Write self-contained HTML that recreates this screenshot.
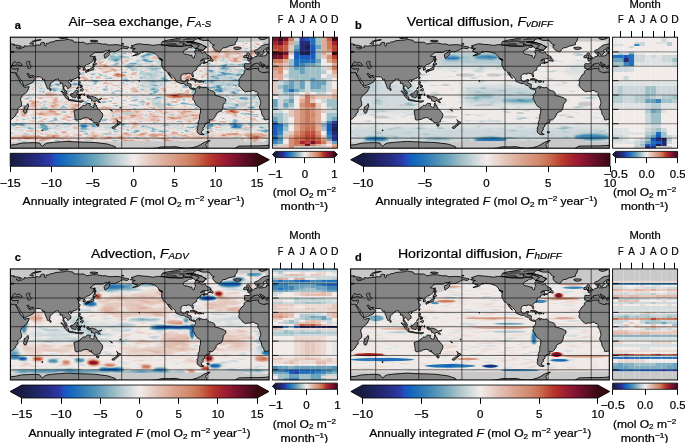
<!DOCTYPE html><html><head><meta charset="utf-8"><style>html,body{margin:0;padding:0;background:#fff;overflow:hidden}svg{display:block}text{font-family:"Liberation Sans",sans-serif;fill:#000;stroke:#000;stroke-width:0.22px}svg{will-change:transform}</style></head><body><svg width="685" height="443" viewBox="0 0 685 443"><filter id="fa" filterUnits="userSpaceOnUse" x="10.4" y="37.2" width="258.7" height="111.0" color-interpolation-filters="sRGB"><feOffset in="SourceGraphic" dx="0" dy="0" result="b"/><feTurbulence type="fractalNoise" baseFrequency="0.1 0.3" numOctaves="3" seed="3" result="n0"/><feColorMatrix in="n0" type="matrix" values="1 0 0 0 0 1 0 0 0 0 1 0 0 0 0 0 0 0 0 1" result="n1"/><feComponentTransfer in="n1" result="n"><feFuncR type="table" tableValues="0 0.03 0.1 0.22 0.45 0.5 0.55 0.78 0.9 0.97 1"/><feFuncG type="table" tableValues="0 0.03 0.1 0.22 0.45 0.5 0.55 0.78 0.9 0.97 1"/><feFuncB type="table" tableValues="0 0.03 0.1 0.22 0.45 0.5 0.55 0.78 0.9 0.97 1"/></feComponentTransfer><feComposite in="b" in2="n" operator="arithmetic" k1="0" k2="1" k3="0.36" k4="-0.1800" result="s"/><feComponentTransfer in="s"><feFuncR type="table" tableValues="0.094 0.102 0.110 0.114 0.122 0.129 0.141 0.149 0.157 0.165 0.173 0.141 0.102 0.075 0.106 0.133 0.165 0.204 0.243 0.282 0.329 0.380 0.427 0.482 0.537 0.592 0.647 0.702 0.753 0.804 0.851 0.898 0.945 0.933 0.925 0.914 0.902 0.894 0.886 0.878 0.871 0.863 0.851 0.843 0.835 0.824 0.816 0.804 0.792 0.776 0.761 0.737 0.714 0.686 0.663 0.624 0.588 0.545 0.506 0.459 0.412 0.365 0.322 0.275 0.227"/><feFuncG type="table" tableValues="0.110 0.118 0.129 0.137 0.145 0.157 0.169 0.176 0.188 0.208 0.224 0.282 0.345 0.388 0.416 0.443 0.471 0.498 0.525 0.557 0.584 0.612 0.639 0.671 0.702 0.733 0.765 0.792 0.820 0.847 0.875 0.898 0.925 0.894 0.863 0.831 0.796 0.769 0.737 0.710 0.678 0.651 0.624 0.600 0.573 0.545 0.522 0.478 0.435 0.384 0.325 0.267 0.216 0.180 0.145 0.122 0.102 0.086 0.075 0.067 0.063 0.055 0.051 0.043 0.039"/><feFuncB type="table" tableValues="0.263 0.294 0.329 0.361 0.396 0.431 0.471 0.506 0.549 0.596 0.647 0.714 0.753 0.753 0.741 0.729 0.722 0.718 0.718 0.714 0.722 0.729 0.737 0.749 0.761 0.776 0.792 0.816 0.839 0.859 0.878 0.898 0.918 0.878 0.839 0.800 0.761 0.722 0.682 0.647 0.608 0.573 0.537 0.502 0.471 0.435 0.404 0.365 0.322 0.278 0.235 0.200 0.169 0.176 0.188 0.192 0.196 0.192 0.188 0.176 0.161 0.141 0.118 0.094 0.071"/></feComponentTransfer></filter><clipPath id="ca"><rect x="10.4" y="37.2" width="258.7" height="111.0"/></clipPath><g clip-path="url(#ca)"><filter id="bba" filterUnits="userSpaceOnUse" x="-9.6" y="17.200000000000003" width="298.7" height="151.0" color-interpolation-filters="sRGB"><feGaussianBlur stdDeviation="4 3"/></filter><filter id="bsa" filterUnits="userSpaceOnUse" x="-9.6" y="17.200000000000003" width="298.7" height="151.0" color-interpolation-filters="sRGB"><feGaussianBlur stdDeviation="1.5 1"/></filter><g filter="url(#fa)"><rect x="5.4" y="32.2" width="268.7" height="121.0" fill="#808080"/><g filter="url(#bba)"><rect x="20.0" y="75.0" width="58.0" height="18.0" fill="#777777"/><rect x="22.0" y="103.0" width="56.0" height="5.0" fill="#969696"/><rect x="10.0" y="124.0" width="259.0" height="8.0" fill="#707070"/><rect x="10.0" y="133.0" width="259.0" height="6.5" fill="#999999"/><rect x="140.0" y="50.0" width="23.0" height="43.0" fill="#707070"/><rect x="140.0" y="99.0" width="30.0" height="9.0" fill="#6c6c6c"/><rect x="208.0" y="48.0" width="38.0" height="14.0" fill="#969696"/><rect x="205.0" y="62.0" width="47.0" height="31.0" fill="#6f6f6f"/><rect x="212.0" y="95.0" width="50.0" height="15.0" fill="#737373"/><rect x="110.0" y="110.0" width="90.0" height="13.0" fill="#919191"/></g><g filter="url(#bsa)"><ellipse cx="48.0" cy="94.0" rx="10" ry="1.5" fill="#b0b0b0"/><ellipse cx="55.0" cy="90.0" rx="3" ry="1.5" fill="#474747"/><ellipse cx="45.0" cy="113.0" rx="12" ry="2.5" fill="#999999"/><ellipse cx="70.0" cy="116.0" rx="8" ry="2" fill="#999999"/><ellipse cx="24.0" cy="112.0" rx="4" ry="2" fill="#a1a1a1"/><ellipse cx="84.0" cy="127.0" rx="4" ry="2" fill="#303030"/><ellipse cx="40.0" cy="137.0" rx="20" ry="1.5" fill="#b0b0b0"/><ellipse cx="118.0" cy="58.0" rx="12" ry="4" fill="#666666"/><ellipse cx="102.0" cy="63.0" rx="5" ry="2" fill="#a1a1a1"/><ellipse cx="120.0" cy="75.5" rx="5" ry="1.5" fill="#bbbbbb"/><ellipse cx="110.0" cy="68.0" rx="15" ry="3" fill="#919191"/><ellipse cx="132.0" cy="66.0" rx="9" ry="3" fill="#666666"/><ellipse cx="180.0" cy="96.0" rx="15" ry="2.2" fill="#c3c3c3"/><ellipse cx="147.6" cy="103.4" rx="2.5" ry="2" fill="#c3c3c3"/><ellipse cx="219.5" cy="88.0" rx="3" ry="2" fill="#303030"/><ellipse cx="186.0" cy="76.5" rx="5" ry="2.5" fill="#b0b0b0"/><ellipse cx="231.0" cy="111.5" rx="9" ry="1.8" fill="#b0b0b0"/><ellipse cx="211.0" cy="126.0" rx="3" ry="1.5" fill="#474747"/><ellipse cx="238.0" cy="126.0" rx="5" ry="2" fill="#474747"/><ellipse cx="255.0" cy="135.5" rx="12" ry="2" fill="#b0b0b0"/></g></g><path d="M-136.9,41.5L121.7,41.5L121.7,30.4L-136.9,30.4ZM121.7,41.5L380.3,41.5L380.3,30.4L121.7,30.4ZM6.8,46.2L121.7,46.2L121.7,30.4L6.8,30.4ZM265.4,46.2L380.3,46.2L380.3,30.4L265.4,30.4ZM107.3,47.9L161.2,47.9L161.2,30.4L107.3,30.4ZM128.9,45.1L164.8,45.1L164.8,30.4L128.9,30.4ZM192.1,47.2L215.1,47.2L215.1,36.1L192.1,36.1ZM182.8,58.4L195.0,58.4L196.4,49.7L182.8,49.0ZM89.4,63.4L105.2,59.1L105.2,50.5L89.4,51.9ZM76.4,70.6L83.6,70.6L83.6,65.2L76.4,65.2ZM108.8,52.6L139.7,52.6L139.7,44.7L108.8,44.7ZM-136.9,141.7L121.7,141.7L121.7,159.6L-136.9,159.6ZM121.7,141.7L380.3,141.7L380.3,159.6L121.7,159.6ZM121.7,141.0L207.9,141.0L207.9,159.6L121.7,159.6ZM206.5,138.1L243.8,139.5L243.8,159.6L206.5,159.6ZM-0.4,56.2L13.9,56.2L13.9,47.6L-0.4,47.6ZM258.2,56.2L272.5,56.2L272.5,47.6L258.2,47.6Z" fill="#c9c9c9"/><ellipse cx="242.5" cy="104.5" rx="4.5" ry="2.3" fill="#c9c9c9"/><ellipse cx="246.0" cy="129.5" rx="4" ry="1.4" fill="#c9c9c9"/><ellipse cx="128.0" cy="113.5" rx="6" ry="1.8" fill="#c9c9c9"/><ellipse cx="160.5" cy="106.5" rx="4" ry="1.8" fill="#c9c9c9"/><path d="M-11.9,69.1L-11.2,69.7L-7.6,69.5L-0.4,68.3L-0.1,70.9L6.8,73.3L13.9,72.9L18.4,70.6L18.6,68.3L13.9,65.8L22.4,65.7L22.4,61.2L12.5,61.1L11.8,64.8L8.2,64.8L6.0,64.1L2.1,62.0L-0.4,63.0L-5.4,63.5L-7.6,65.5L-9.0,68.4ZM246.7,69.1L247.4,69.7L251.0,69.5L258.2,68.3L258.5,70.9L265.4,73.3L272.5,72.9L277.0,70.6L277.2,68.3L272.5,65.8L281.0,65.7L281.0,61.2L271.1,61.1L270.4,64.8L266.8,64.8L264.6,64.1L260.7,62.0L258.2,63.0L253.2,63.5L251.0,65.5L249.6,68.4ZM15.7,73.5L17.2,74.9L20.4,79.9L23.6,86.0L23.3,85.8L20.1,82.8L17.9,77.8L15.8,73.6ZM26.7,73.1L28.5,73.3L33.1,75.6L33.1,77.4L29.4,77.9L27.2,74.9Z" fill="#858585"/><path d="M161.2,43.6L162.6,41.5L167.0,40.3L175.6,38.8L182.8,37.2L200.7,35.7L206.5,36.1L200.7,38.3L196.4,39.0L194.2,40.0L193.5,41.4L187.8,41.6L193.5,42.1L196.4,42.8L200.7,44.2L202.2,44.7L202.9,45.4L206.1,46.9L206.5,47.2L204.7,48.3L203.2,50.5L199.6,49.9L197.8,48.7L195.3,48.7L193.5,46.9L189.9,45.1L182.8,46.2L175.6,46.2L168.4,45.8L164.8,45.1L161.2,44.7ZM206.8,131.8L209.3,131.9L209.2,132.6L207.2,132.6ZM41.8,130.0L43.0,130.1L42.8,130.7L41.8,130.6ZM-11.8,69.3L-14.4,71.3L-14.6,73.8L-16.9,75.2L-18.4,77.8L-19.8,79.9L-19.5,81.4L-19.2,82.8L-19.9,84.4L-19.6,86.0L-18.4,87.1L-17.3,88.2L-15.9,90.0L-13.3,91.8L-10.5,91.3L-8.3,91.4L-6.2,90.5L-4.4,90.5L-3.3,91.9L-1.5,91.8L-0.8,92.5L-0.6,93.6L-0.9,95.4L0.9,97.9L1.2,99.3L2.0,101.5L2.1,103.6L1.2,105.8L0.9,107.6L2.8,111.2L3.3,114.4L4.3,115.5L5.5,117.6L5.6,119.4L6.8,120.0L8.6,119.4L10.8,119.3L12.2,118.8L13.9,117.3L15.7,115.5L16.0,113.7L17.9,112.2L17.9,110.4L17.3,109.2L18.8,107.8L21.5,105.8L21.5,102.5L20.6,100.0L20.6,98.3L21.9,96.4L23.3,94.6L25.4,93.2L26.9,91.8L28.2,89.3L29.2,87.1L29.2,86.5L27.2,86.9L24.4,87.5L23.5,86.6L22.9,85.7L22.0,84.6L20.6,83.1L20.1,82.1L19.1,79.9L18.0,77.8L16.8,75.6L15.8,73.5L15.6,72.5L13.2,72.8L10.4,72.2L6.8,72.0L6.7,72.9L3.5,72.4L0.7,71.3L-0.3,70.4L0.3,68.5L-0.6,68.2L-1.5,68.5L-5.4,68.6L-8.3,69.6L-9.2,69.8ZM246.8,69.3L244.2,71.3L244.0,73.8L241.7,75.2L240.2,77.8L238.8,79.9L239.1,81.4L239.4,82.8L238.7,84.4L239.0,86.0L240.2,87.1L241.3,88.2L242.7,90.0L245.3,91.8L248.1,91.3L250.3,91.4L252.4,90.5L254.2,90.5L255.3,91.9L257.1,91.8L257.8,92.5L258.0,93.6L257.7,95.4L259.5,97.9L259.8,99.3L260.6,101.5L260.7,103.6L259.8,105.8L259.5,107.6L261.4,111.2L261.9,114.4L262.8,115.5L264.1,117.6L264.2,119.4L265.4,120.0L267.2,119.4L269.4,119.3L270.8,118.8L272.5,117.3L274.3,115.5L274.6,113.7L276.5,112.2L276.5,110.4L275.9,109.2L277.4,107.8L280.1,105.8L280.1,102.5L279.2,100.0L279.2,98.3L280.4,96.4L281.9,94.6L284.0,93.2L285.5,91.8L286.8,89.3L287.8,87.1L287.8,86.5L285.8,86.9L283.0,87.5L282.1,86.6L281.5,85.7L280.6,84.6L279.2,83.1L278.7,82.1L277.7,79.9L276.6,77.8L275.4,75.6L274.4,73.5L274.2,72.5L271.8,72.8L269.0,72.2L265.4,72.0L265.3,72.9L262.1,72.4L259.3,71.3L258.3,70.4L258.9,68.5L258.0,68.2L257.1,68.5L253.2,68.6L250.3,69.6L249.4,69.8ZM-11.6,69.1L-12.1,68.6L-12.9,68.3L-14.0,68.4L-13.9,67.2L-14.4,67.1L-14.0,66.1L-13.9,64.8L-14.3,64.1L-13.3,63.6L-11.6,63.8L-8.9,63.8L-8.5,62.9L-8.5,61.8L-9.2,61.2L-10.8,60.6L-10.8,60.1L-8.7,60.0L-8.5,59.3L-7.5,59.4L-6.5,58.9L-5.8,58.3L-5.0,58.0L-4.4,57.3L-4.0,56.7L-2.6,56.6L-1.4,56.3L-1.4,55.1L-1.8,54.2L-0.1,53.6L-0.1,54.6L-0.4,55.7L0.3,56.2L1.4,55.9L2.6,56.3L4.3,55.9L5.8,55.9L7.6,55.3L7.5,54.2L8.6,53.6L9.9,53.9L9.7,53.1L9.2,52.5L12.5,52.3L14.1,52.0L13.1,51.5L10.6,51.7L8.8,52.0L7.7,51.3L7.8,49.6L10.6,48.2L10.1,47.7L8.3,47.7L7.6,48.8L6.0,49.6L5.0,50.2L4.8,51.2L5.9,51.9L5.3,52.7L4.3,54.0L3.7,54.7L2.6,55.2L1.6,55.1L1.4,54.4L0.9,53.3L0.4,52.5L-0.8,52.7L-1.9,53.3L-2.9,53.3L-3.6,52.7L-3.9,51.8L-4.0,50.8L-3.3,50.0L-1.5,49.5L-0.2,48.7L1.0,47.9L1.7,47.0L3.2,45.9L4.3,45.4L5.3,44.9L6.8,44.6L8.9,44.3L10.7,43.9L12.5,44.0L14.7,44.5L13.2,44.9L15.4,45.1L18.3,45.4L21.5,46.3L21.9,47.0L20.8,47.6L18.7,47.3L17.5,47.6L16.3,47.2L17.3,48.7L19.0,49.2L19.3,48.4L21.4,48.7L22.9,47.3L24.1,47.5L24.0,45.9L25.4,45.8L25.6,46.2L27.6,46.2L30.7,45.7L31.4,46.0L34.1,45.5L35.5,45.8L36.1,44.9L38.4,45.1L40.5,45.1L40.7,44.1L40.2,43.7L41.6,42.6L42.7,42.3L44.7,42.9L44.1,44.4L45.2,46.2L45.9,45.8L46.3,43.3L49.1,43.1L50.2,42.2L54.5,41.5L54.9,40.8L59.9,40.3L64.9,40.0L67.3,39.2L69.6,39.8L72.9,40.3L73.9,42.2L77.2,42.2L80.8,42.4L83.6,42.2L85.1,43.1L86.5,44.0L89.4,43.6L93.0,42.9L97.3,43.1L100.1,43.6L102.3,44.1L106.6,44.1L108.0,45.0L112.9,44.9L114.9,44.6L118.8,44.9L121.7,45.5L123.1,45.9L125.3,46.5L127.8,46.9L129.1,47.5L127.8,47.9L127.3,48.7L125.3,48.5L123.6,48.1L122.4,48.3L120.6,48.7L119.5,50.0L117.4,50.6L114.7,51.9L112.0,51.6L110.2,52.0L109.7,53.0L109.0,53.5L109.5,54.7L108.6,55.6L107.3,56.8L106.3,57.3L105.0,58.4L104.5,56.9L104.1,54.8L105.0,53.5L106.3,53.3L108.8,51.3L110.2,50.1L107.7,50.8L105.2,50.8L103.0,52.3L100.9,52.4L98.7,52.4L95.1,52.4L93.3,53.5L91.5,54.8L90.1,56.1L91.9,56.2L94.0,56.9L93.3,59.1L93.2,60.4L91.9,61.6L90.1,63.4L87.9,64.3L86.5,64.5L85.4,65.5L84.3,67.0L85.4,68.8L85.1,69.8L83.3,70.2L83.3,68.1L82.2,66.6L79.7,67.0L80.0,65.9L79.3,65.5L77.9,66.6L76.9,67.0L77.8,68.1L80.4,68.3L79.0,69.1L78.0,70.0L79.2,72.0L80.0,72.9L80.0,73.8L79.0,75.5L78.2,76.6L76.8,78.0L74.3,79.0L71.8,79.8L71.4,80.4L70.3,79.5L68.9,80.5L68.3,81.5L69.3,82.8L70.6,83.9L71.0,86.4L69.3,87.5L67.8,88.8L67.6,87.7L66.3,86.5L64.9,85.5L64.2,86.0L63.7,87.8L64.6,89.6L64.9,90.1L65.8,90.5L66.7,91.9L67.2,94.0L66.4,93.9L64.9,92.8L64.4,91.0L63.0,89.3L63.2,87.1L62.5,83.1L60.2,83.5L60.1,81.5L58.7,80.1L58.3,78.8L57.4,79.2L56.0,79.3L54.9,79.6L54.8,80.3L53.5,81.1L51.5,83.1L50.1,83.9L50.0,85.7L49.7,87.6L48.6,88.6L48.1,89.2L47.4,88.2L46.6,86.4L45.9,84.4L45.0,82.4L44.7,81.0L44.5,79.8L44.3,79.1L43.0,80.1L42.0,78.9L42.7,78.6L41.5,78.0L40.3,76.8L36.6,76.9L34.6,76.7L33.5,75.5L32.8,75.5L31.8,76.0L29.4,75.0L28.5,73.5L27.2,73.5L26.9,73.8L28.0,75.3L28.9,77.2L29.5,77.3L29.5,76.3L29.9,77.8L31.5,77.5L32.8,76.2L33.0,77.4L34.6,78.1L35.4,78.8L34.5,80.3L33.9,81.4L31.9,82.8L29.9,83.8L27.4,84.9L24.7,85.8L23.6,85.9L23.1,84.2L23.1,83.1L21.7,81.0L20.5,79.5L19.7,77.8L18.6,76.3L17.5,74.9L17.2,74.9L16.5,74.7L15.8,73.5L17.0,72.5L17.5,71.3L18.2,69.5L18.3,68.6L17.2,68.6L15.4,69.0L13.8,69.0L12.0,68.4L11.4,67.3L11.4,66.2L13.2,65.5L14.9,65.4L17.5,64.8L20.1,65.6L22.2,65.2L22.4,64.8L20.4,63.0L19.3,62.5L17.7,62.7L16.5,63.0L15.7,62.4L14.7,61.6L13.9,62.2L13.1,63.0L12.5,64.1L12.5,65.0L11.1,65.8L8.9,66.0L8.6,66.1L8.9,67.0L9.6,67.7L8.2,68.8L7.8,68.4L7.6,67.3L6.4,65.9L6.3,64.8L3.9,63.8L2.2,62.2L1.2,62.5L1.3,63.2L2.5,64.5L3.9,65.2L5.7,66.1L4.6,67.0L4.0,67.7L3.7,67.6L3.6,66.3L1.7,65.3L0.3,64.5L-0.3,63.5L-1.3,63.1L-2.2,63.5L-4.0,63.9L-5.4,64.0L-5.3,64.9L-7.0,65.5L-7.8,66.6L-7.5,67.2L-8.1,68.0L-9.1,68.6L-10.8,68.6ZM247.0,69.1L246.5,68.6L245.7,68.3L244.6,68.4L244.7,67.2L244.2,67.1L244.6,66.1L244.7,64.8L244.3,64.1L245.3,63.6L247.0,63.8L249.7,63.8L250.1,62.9L250.1,61.8L249.4,61.2L247.8,60.6L247.8,60.1L249.9,60.0L250.1,59.3L251.1,59.4L252.1,58.9L252.8,58.3L253.6,58.0L254.2,57.3L254.6,56.7L256.0,56.6L257.2,56.3L257.2,55.1L256.8,54.2L258.5,53.6L258.5,54.6L258.2,55.7L258.9,56.2L260.0,55.9L261.2,56.3L262.8,55.9L264.4,55.9L266.2,55.3L266.1,54.2L267.2,53.6L268.5,53.9L268.3,53.1L267.8,52.5L271.1,52.3L272.7,52.0L271.7,51.5L269.2,51.7L267.4,52.0L266.3,51.3L266.4,49.6L269.2,48.2L268.7,47.7L266.9,47.7L266.2,48.8L264.6,49.6L263.6,50.2L263.4,51.2L264.5,51.9L263.9,52.7L262.8,54.0L262.3,54.7L261.2,55.2L260.2,55.1L260.0,54.4L259.5,53.3L259.0,52.5L257.8,52.7L256.7,53.3L255.7,53.3L255.0,52.7L254.7,51.8L254.6,50.8L255.3,50.0L257.1,49.5L258.4,48.7L259.6,47.9L260.3,47.0L261.8,45.9L262.8,45.4L263.9,44.9L265.4,44.6L267.5,44.3L269.3,43.9L271.1,44.0L273.3,44.5L271.8,44.9L274.0,45.1L276.9,45.4L280.1,46.3L280.5,47.0L279.4,47.6L277.3,47.3L276.1,47.6L274.9,47.2L275.9,48.7L277.6,49.2L277.9,48.4L280.0,48.7L281.5,47.3L282.7,47.5L282.6,45.9L284.0,45.8L284.2,46.2L286.2,46.2L289.3,45.7L290.0,46.0L292.7,45.5L294.1,45.8L294.7,44.9L297.0,45.1L299.1,45.1L299.3,44.1L298.8,43.7L300.2,42.6L301.3,42.3L303.3,42.9L302.7,44.4L303.8,46.2L304.5,45.8L304.9,43.3L307.7,43.1L308.8,42.2L313.1,41.5L313.5,40.8L318.5,40.3L323.5,40.0L325.9,39.2L328.2,39.8L331.5,40.3L332.5,42.2L335.8,42.2L339.4,42.4L342.2,42.2L343.7,43.1L345.1,44.0L348.0,43.6L351.6,42.9L355.9,43.1L358.7,43.6L360.9,44.1L365.2,44.1L366.6,45.0L371.5,44.9L373.5,44.6L377.4,44.9L380.3,45.5L381.7,45.9L383.9,46.5L386.4,46.9L387.7,47.5L386.4,47.9L385.9,48.7L383.9,48.5L382.2,48.1L381.0,48.3L379.2,48.7L378.1,50.0L376.0,50.6L373.3,51.9L370.6,51.6L368.8,52.0L368.3,53.0L367.6,53.5L368.1,54.7L367.2,55.6L365.9,56.8L364.9,57.3L363.6,58.4L363.1,56.9L362.7,54.8L363.6,53.5L364.9,53.3L367.4,51.3L368.8,50.1L366.3,50.8L363.8,50.8L361.6,52.3L359.5,52.4L357.3,52.4L353.7,52.4L351.9,53.5L350.1,54.8L348.7,56.1L350.5,56.2L352.6,56.9L351.9,59.1L351.8,60.4L350.5,61.6L348.7,63.4L346.5,64.3L345.1,64.5L344.0,65.5L342.9,67.0L343.9,68.8L343.7,69.8L341.9,70.2L341.9,68.1L340.8,66.6L338.3,67.0L338.6,65.9L337.9,65.5L336.5,66.6L335.5,67.0L336.4,68.1L339.0,68.3L337.6,69.1L336.6,70.0L337.8,72.0L338.6,72.9L338.6,73.8L337.6,75.5L336.8,76.6L335.4,78.0L332.9,79.0L330.4,79.8L330.0,80.4L328.9,79.5L327.5,80.5L326.9,81.5L327.9,82.8L329.2,83.9L329.6,86.4L327.9,87.5L326.4,88.8L326.2,87.7L324.9,86.5L323.5,85.5L322.8,86.0L322.3,87.8L323.2,89.6L323.5,90.1L324.4,90.5L325.3,91.9L325.8,94.0L325.0,93.9L323.5,92.8L323.0,91.0L321.6,89.3L321.8,87.1L321.1,83.1L318.8,83.5L318.7,81.5L317.3,80.1L316.9,78.8L316.0,79.2L314.6,79.3L313.5,79.6L313.4,80.3L312.1,81.1L310.1,83.1L308.7,83.9L308.6,85.7L308.3,87.6L307.2,88.6L306.7,89.2L305.9,88.2L305.2,86.4L304.5,84.4L303.6,82.4L303.3,81.0L303.1,79.8L302.9,79.1L301.6,80.1L300.6,78.9L301.3,78.6L300.1,78.0L298.9,76.8L295.2,76.9L293.2,76.7L292.1,75.5L291.4,75.5L290.4,76.0L288.0,75.0L287.1,73.5L285.8,73.5L285.5,73.8L286.6,75.3L287.5,77.2L288.1,77.3L288.1,76.3L288.5,77.8L290.1,77.5L291.4,76.2L291.6,77.4L293.2,78.1L294.0,78.8L293.1,80.3L292.5,81.4L290.5,82.8L288.5,83.8L286.0,84.9L283.3,85.8L282.2,85.9L281.7,84.2L281.7,83.1L280.3,81.0L279.1,79.5L278.3,77.8L277.2,76.3L276.1,74.9L275.8,74.9L275.1,74.7L274.4,73.5L275.6,72.5L276.1,71.3L276.8,69.5L276.9,68.6L275.8,68.6L274.0,69.0L272.4,69.0L270.6,68.4L270.0,67.3L270.0,66.2L271.8,65.5L273.5,65.4L276.1,64.8L278.7,65.6L280.8,65.2L281.0,64.8L279.0,63.0L277.9,62.5L276.3,62.7L275.1,63.0L274.3,62.4L273.3,61.6L272.5,62.2L271.7,63.0L271.1,64.1L271.1,65.0L269.7,65.8L267.5,66.0L267.2,66.1L267.5,67.0L268.2,67.7L266.8,68.8L266.4,68.4L266.2,67.3L265.0,65.9L264.9,64.8L262.5,63.8L260.8,62.2L259.8,62.5L259.9,63.2L261.1,64.5L262.5,65.2L264.3,66.1L263.2,67.0L262.6,67.7L262.3,67.6L262.2,66.3L260.3,65.3L258.9,64.5L258.3,63.5L257.3,63.1L256.4,63.5L254.6,63.9L253.2,64.0L253.3,64.9L251.6,65.5L250.8,66.6L251.1,67.2L250.5,68.0L249.5,68.6L247.8,68.6ZM130.3,47.9L131.8,47.6L133.2,46.9L131.2,45.9L133.9,45.1L136.1,44.3L138.4,43.8L141.8,44.1L144.7,44.5L148.3,44.6L149.7,44.9L153.3,45.4L155.1,45.1L157.6,44.7L159.8,44.6L161.6,45.1L164.1,45.0L167.0,45.5L169.1,45.9L172.7,46.1L175.6,45.8L178.4,46.3L180.6,46.2L182.0,46.7L183.5,45.3L183.1,43.4L184.9,44.4L187.1,45.4L189.2,45.8L191.7,45.1L192.5,46.9L190.7,47.6L189.2,47.2L187.8,48.7L186.0,49.4L183.5,50.8L183.1,52.6L184.6,54.0L187.4,54.4L189.9,55.3L191.9,55.4L192.0,56.9L193.2,58.0L194.2,57.9L194.6,55.9L195.7,54.7L195.1,53.0L194.6,51.5L195.3,50.1L197.8,50.2L200.0,51.0L201.1,52.4L202.5,53.1L203.6,52.8L204.7,51.7L205.7,53.3L206.8,54.8L209.3,55.9L210.8,56.6L211.0,57.6L209.7,58.1L207.9,58.9L205.0,58.9L203.2,58.9L201.8,59.7L200.4,60.9L202.9,59.8L204.7,59.9L204.3,60.7L204.4,61.6L205.4,62.1L207.2,62.3L207.8,61.8L208.0,62.0L206.8,62.5L205.4,63.0L203.7,63.8L203.4,63.1L204.7,62.5L203.2,62.6L201.8,63.2L200.6,63.7L200.1,64.5L200.7,65.0L199.6,65.3L197.9,65.8L197.8,66.5L197.1,67.1L196.8,67.8L196.4,68.4L196.8,69.5L196.0,70.1L195.0,70.6L194.1,71.2L193.2,71.9L192.6,72.7L193.1,74.5L193.5,76.0L193.2,76.9L192.7,76.9L192.2,76.0L191.6,74.7L190.9,73.5L189.7,73.7L188.5,73.2L187.1,73.2L186.9,74.1L186.0,74.1L184.9,73.7L183.5,73.7L182.4,74.4L181.2,75.2L181.0,76.5L180.8,78.8L181.7,81.0L182.9,81.7L184.6,81.6L185.6,81.4L186.1,79.9L187.8,79.6L188.6,79.8L188.1,81.0L187.6,81.9L187.6,83.5L189.2,83.6L191.2,84.2L191.0,86.4L190.9,87.2L192.1,88.5L193.9,88.2L195.3,88.8L195.8,88.9L196.8,87.5L197.8,87.0L199.3,86.2L200.0,86.5L199.6,87.2L199.4,88.5L200.0,88.2L200.7,86.7L202.2,87.5L204.3,87.7L206.5,87.3L207.2,87.8L207.9,88.9L209.3,90.0L211.5,90.7L213.6,91.4L214.4,92.1L215.1,93.7L214.7,95.0L216.2,95.7L218.7,96.1L220.8,97.0L223.0,97.5L224.4,98.6L225.7,99.0L225.9,100.7L225.5,101.8L224.4,102.9L223.3,104.3L223.0,106.5L222.6,108.3L221.9,109.7L221.5,110.8L220.1,111.5L218.7,112.0L216.9,113.0L216.2,114.0L216.0,115.5L214.7,117.3L213.3,119.1L212.2,119.9L210.4,120.0L209.0,119.6L209.8,120.9L209.7,122.3L207.9,122.9L206.3,122.9L206.1,124.1L204.7,124.5L204.3,125.5L205.0,125.7L203.9,127.3L202.5,128.2L203.6,129.1L201.9,131.0L201.4,132.0L201.9,132.6L201.1,132.8L201.8,133.4L204.1,134.4L202.2,134.7L200.0,134.5L197.5,132.7L196.9,130.9L197.8,128.8L196.8,128.4L197.8,126.6L198.2,124.8L198.0,123.0L198.4,121.6L199.3,119.4L199.6,118.0L199.6,115.1L200.4,113.0L200.6,109.4L200.5,108.1L199.3,107.4L196.8,105.8L196.2,104.7L195.3,103.3L194.2,100.7L192.8,99.3L192.6,98.2L193.5,97.2L193.5,96.8L192.8,95.7L193.5,94.3L194.3,93.9L195.3,92.5L195.5,90.7L195.0,89.6L193.9,89.8L193.2,89.6L192.5,89.3L191.0,88.9L189.4,87.8L189.4,87.0L188.1,85.7L186.7,85.3L185.3,84.9L184.2,83.8L183.1,83.4L181.7,83.7L180.2,83.3L178.4,82.4L176.7,81.9L175.2,80.6L175.4,79.6L175.1,78.5L173.8,77.4L172.4,76.0L171.3,75.0L170.0,73.5L168.7,72.3L168.7,73.5L169.8,74.5L170.5,76.0L171.8,77.5L172.1,78.6L170.9,77.4L170.4,76.3L169.0,75.2L168.2,73.8L167.1,72.2L166.8,71.5L165.9,70.6L164.4,70.1L163.4,68.7L163.0,67.8L162.1,66.4L161.6,64.8L161.9,62.0L161.4,60.2L162.6,60.3L162.4,59.4L160.8,59.1L159.2,58.4L158.7,57.3L157.6,55.9L156.5,54.8L154.7,53.3L152.9,53.1L150.8,52.1L148.3,51.9L145.8,51.5L144.3,51.7L142.2,52.5L142.3,51.3L140.7,52.6L140.0,53.7L138.6,54.3L136.8,55.1L134.6,55.5L132.7,55.9L134.3,55.1L136.8,54.2L137.9,52.9L134.8,52.8L134.6,51.9L132.5,51.5L132.8,49.7L135.3,48.7L132.8,48.6L131.4,48.2ZM198.6,38.6L202.2,37.2L207.9,36.1L229.4,35.0L238.1,36.5L237.3,39.0L236.6,41.1L235.2,42.9L235.2,44.6L233.0,45.2L228.7,46.2L225.9,47.6L223.0,47.9L221.5,49.4L220.5,51.2L219.4,51.9L218.0,51.3L216.2,50.8L214.7,49.7L213.6,48.3L212.6,46.9L212.9,45.8L214.4,45.1L212.2,44.4L211.1,43.3L210.1,41.5L207.9,40.4L202.9,40.4L199.3,39.3ZM233.4,47.9L234.8,47.2L238.1,47.2L240.6,47.4L241.3,48.3L240.2,48.9L237.7,49.5L234.8,49.2ZM206.5,47.2L204.7,48.3L203.2,50.5L199.6,49.9L197.8,48.7L195.3,48.7L198.6,46.5L199.3,45.4L196.4,44.4L193.5,43.3L189.9,42.3L186.3,42.2L193.5,42.1L196.4,42.8L200.7,44.2L202.2,44.7L202.9,45.4L206.1,46.9ZM258.9,38.6L261.8,39.7L265.4,39.0L267.5,37.9L263.9,37.2L258.9,37.7ZM29.8,43.6L31.9,44.2L33.7,44.2L32.6,42.9L34.1,41.5L36.9,40.8L41.2,39.8L39.8,39.7L34.8,40.4L31.9,41.5L30.5,42.9ZM60.6,38.6L64.2,38.4L67.8,37.9L64.2,36.8L58.5,37.2ZM90.1,41.1L93.7,41.8L98.0,41.1L95.1,40.4L90.8,40.4ZM121.7,44.0L123.9,44.1L123.1,43.6L121.7,43.6ZM246.9,59.1L248.8,58.7L252.0,58.2L252.2,57.1L251.2,56.6L249.9,55.5L249.6,54.8L249.7,53.6L248.8,52.9L247.4,52.9L246.5,54.1L247.0,55.2L247.5,55.6L248.7,55.6L248.5,56.2L248.8,56.7L247.6,57.1L248.0,57.9L247.2,57.9L248.5,58.1ZM246.7,57.6L246.5,56.4L247.0,55.9L246.3,55.3L244.9,55.3L243.8,56.2L243.6,57.6L245.3,57.9ZM190.0,79.3L191.7,78.7L193.5,78.4L195.7,79.4L197.7,80.5L195.3,80.7L195.0,80.2L192.8,79.5L190.7,79.3ZM197.6,81.7L198.8,80.7L201.1,80.9L201.9,81.6L199.6,82.4ZM194.8,81.8L196.3,81.9L195.8,82.2L194.8,81.9ZM202.7,81.7L203.9,81.8L203.8,82.1L202.7,82.1ZM208.3,60.8L210.8,59.4L211.1,57.9L212.6,59.4L213.2,60.9L212.6,61.5L210.8,60.8ZM158.8,58.5L161.2,58.9L162.4,60.2L161.2,59.9L159.4,59.1ZM73.9,110.8L74.4,113.7L74.9,116.2L75.0,119.1L75.4,119.7L77.2,120.1L79.3,119.4L81.1,119.4L82.9,118.2L85.1,117.8L86.6,117.6L88.5,118.1L89.9,120.1L90.5,119.1L91.4,118.7L91.2,120.5L91.9,120.1L92.7,121.3L93.4,122.3L95.5,122.9L96.6,122.5L97.5,123.1L98.4,122.3L100.1,121.9L100.3,120.5L101.1,119.2L101.9,118.0L102.7,115.5L102.4,113.3L101.1,112.2L100.1,111.0L99.2,109.6L97.5,108.6L96.8,106.5L96.8,105.6L95.5,105.1L94.8,102.7L94.1,104.3L94.0,106.1L93.5,107.6L92.4,107.4L90.5,106.1L89.7,105.6L90.7,103.8L90.1,103.5L87.6,103.3L86.5,103.8L85.4,105.6L84.3,105.4L83.3,105.1L81.8,106.8L80.2,107.6L79.7,109.0L77.5,109.6L76.1,109.9L74.7,110.7ZM96.3,124.2L98.9,124.4L98.7,126.0L97.3,126.3L96.7,125.2ZM116.5,119.7L117.7,120.5L118.8,121.8L120.6,122.1L120.2,123.2L119.4,123.6L118.3,124.9L117.8,124.7L118.1,123.7L117.2,123.2L117.8,122.3L117.6,121.2ZM116.5,124.1L117.6,125.0L116.9,126.1L115.4,126.8L114.9,128.0L113.8,128.5L112.0,128.0L112.1,127.3L113.3,126.6L114.9,125.8L115.6,125.0ZM60.9,91.0L62.4,91.3L64.4,93.4L67.0,95.7L68.5,97.2L68.4,99.2L67.5,99.2L65.9,97.9L64.8,96.4L63.9,95.0L63.2,93.6L61.7,92.3ZM68.0,99.9L68.9,99.3L70.2,99.5L71.8,100.0L73.4,100.0L74.6,100.5L74.6,101.2L72.1,100.9L70.0,100.6L68.2,100.0ZM75.0,100.9L77.9,101.0L80.0,101.0L82.2,100.8L83.6,101.0L82.2,101.8L81.1,102.4L79.3,101.9L77.2,101.5L75.0,101.4ZM70.7,93.9L71.1,93.6L72.1,93.9L73.6,92.7L75.2,91.3L76.3,90.0L78.0,91.3L77.2,91.9L77.0,94.3L77.9,94.4L76.8,95.6L76.1,96.8L75.7,97.7L74.6,97.9L73.6,97.2L72.1,97.2L71.4,96.2L70.7,95.2ZM78.2,99.0L78.9,99.0L78.8,97.0L79.3,96.9L79.5,98.4L80.6,98.4L79.7,96.3L81.0,95.6L80.4,95.4L79.0,95.7L78.8,94.6L80.8,94.6L82.1,93.9L81.8,94.7L78.6,94.4L78.5,95.6L77.7,96.9ZM84.0,93.6L84.7,93.9L84.3,94.6L84.8,95.4L84.0,95.6L83.8,94.4ZM86.5,96.1L87.6,95.3L89.0,95.7L89.7,97.3L91.5,96.2L93.7,96.9L96.2,97.7L97.3,99.0L98.4,99.5L99.1,101.1L100.5,102.5L99.8,102.4L98.4,102.3L97.3,100.9L95.8,100.5L95.4,101.5L94.8,101.7L93.7,101.5L92.6,100.8L91.6,101.0L91.3,98.7L89.4,98.2L87.9,97.9L87.2,97.0L88.3,96.6L87.4,96.5ZM99.1,99.0L100.5,99.0L101.6,98.0L101.2,99.0L99.4,99.5ZM79.0,81.7L80.2,81.7L80.3,83.1L79.7,83.7L79.8,84.8L81.5,85.1L81.6,85.9L80.6,85.7L79.3,85.1L79.0,84.6L78.5,83.5ZM80.0,90.0L81.1,89.5L82.5,88.2L83.3,89.3L83.1,90.5L82.4,91.0L81.5,90.5ZM80.0,86.5L81.1,87.5L82.2,86.7L82.7,86.0L81.8,86.0L80.8,87.8L80.0,87.5ZM76.6,89.0L78.2,86.8L78.0,87.6L76.8,89.1ZM78.7,78.5L79.3,76.9L80.0,77.0L79.2,79.2ZM70.4,81.2L71.8,80.6L72.1,80.9L71.1,81.9ZM86.4,70.6L87.6,69.6L89.7,69.4L90.7,68.2L91.9,68.1L93.0,66.6L93.0,65.3L94.0,65.3L94.4,66.6L93.7,67.5L93.6,68.8L93.2,69.8L92.2,69.9L90.7,70.4L89.4,70.8L89.0,70.1L87.6,70.6ZM93.0,65.2L93.0,63.9L94.2,62.4L95.8,63.2L96.8,63.9L95.3,64.8L93.7,64.6ZM85.6,70.9L86.5,70.6L87.2,71.3L86.6,72.6L85.9,72.6L85.6,71.4ZM87.6,71.3L89.2,70.6L88.8,71.1L87.9,71.5ZM94.4,62.0L95.5,61.5L95.1,59.4L96.2,59.8L95.3,58.0L95.0,56.0L94.5,56.2L94.5,58.4L94.3,60.2ZM49.8,88.0L50.7,88.8L51.2,89.8L50.8,90.5L50.0,90.7L49.7,89.6ZM27.8,103.6L28.7,106.1L28.0,107.6L27.2,109.7L26.5,112.2L26.2,113.0L24.9,113.3L24.0,112.7L23.5,110.8L24.2,109.4L24.0,107.2L25.4,106.3L26.5,105.4L27.5,104.3ZM110.2,109.5L112.4,111.0L112.0,111.1L110.3,109.9ZM119.8,107.6L120.7,107.4L120.5,108.1L119.8,108.0ZM138.9,80.5L139.8,81.0L139.0,81.4L138.9,80.8ZM-136.9,151.0L-129.7,151.0L-122.5,150.3L-115.4,149.2L-108.2,148.7L-101.0,148.0L-97.4,146.9L-90.2,146.9L-82.3,146.7L-78.0,147.8L-72.3,148.2L-66.5,147.8L-61.5,146.4L-57.9,144.6L-54.3,142.4L-50.7,141.0L-48.5,140.4L-49.3,141.3L-51.4,142.8L-52.9,144.6L-52.1,146.7L-50.7,149.6L-43.5,151.0L-32.7,151.0L-25.6,149.6L-19.8,146.1L-14.8,146.0L-7.6,145.9L-0.4,145.9L6.8,145.6L10.4,145.1L15.4,144.6L21.7,143.1L28.3,142.8L35.5,142.6L39.8,143.1L41.2,145.3L42.7,146.4L44.1,144.6L47.0,143.1L53.5,142.4L60.6,141.8L67.1,141.4L75.0,141.8L82.2,142.1L89.4,142.3L95.6,142.6L100.1,143.1L105.9,143.8L108.8,144.4L111.6,145.4L115.2,146.7L116.4,149.6L116.0,151.0L121.7,151.0L121.7,159.6L-136.9,159.6ZM121.7,151.0L128.9,151.0L136.1,150.3L143.2,149.2L150.4,148.7L157.6,148.0L161.2,146.9L168.4,146.9L176.3,146.7L180.6,147.8L186.3,148.2L192.1,147.8L197.1,146.4L200.7,144.6L204.3,142.4L207.9,141.0L210.1,140.4L209.3,141.3L207.2,142.8L205.7,144.6L206.5,146.7L207.9,149.6L215.1,151.0L225.9,151.0L233.0,149.6L238.8,146.1L243.8,146.0L251.0,145.9L258.2,145.9L265.4,145.6L269.0,145.1L274.0,144.6L280.3,143.1L286.9,142.8L294.1,142.6L298.4,143.1L299.8,145.3L301.3,146.4L302.7,144.6L305.6,143.1L312.1,142.4L319.2,141.8L325.7,141.4L333.6,141.8L340.8,142.1L348.0,142.3L354.1,142.6L358.7,143.1L364.5,143.8L367.4,144.4L370.2,145.4L373.8,146.7L375.0,149.6L374.6,151.0L380.3,151.0L380.3,159.6L121.7,159.6Z" fill="#858585" stroke="#000" stroke-width="0.85" stroke-linejoin="round"/><path d="M26.2,62.3L27.6,61.6L29.4,61.2L30.5,62.3L29.0,63.0L29.4,64.5L30.5,64.8L31.2,66.3L30.5,68.1L29.0,68.6L27.6,68.1L28.0,65.9L26.9,64.8L26.5,63.8Z" fill="none" stroke="#000" stroke-width="0.7"/><path d="M-96.7,41.6L-90.2,41.6L-83.0,41.4L-75.8,41.6L-70.8,41.6M161.9,41.6L168.4,41.6L175.6,41.4L182.8,41.6L187.8,41.6M-92.4,42.9L-88.1,43.3L-82.3,43.6M166.2,42.9L170.5,43.3L176.3,43.6M-79.4,42.9L-76.6,42.6L-73.7,43.3M179.2,42.9L182.0,42.6L184.9,43.3M-88.1,40.4L-83.0,40.2L-78.0,39.8M170.5,40.4L175.6,40.2L180.6,39.8M-75.8,40.0L-72.3,39.3L-66.5,39.1L-63.6,38.6M182.8,40.0L186.3,39.3L192.1,39.1L195.0,38.6M-92.4,44.4L-86.6,44.5L-80.9,45.1M166.2,44.4L172.0,44.5L177.7,45.1M-68.7,44.4L-66.5,43.6L-63.6,43.1M189.9,44.4L192.1,43.6L195.0,43.1M-72.3,38.3L-65.1,37.4L-59.3,37.0M186.3,38.3L193.5,37.4L199.3,37.0" fill="none" stroke="#000" stroke-width="0.6"/><path d="M35.50,37.2V148.2M78.60,37.2V148.2M121.70,37.2V148.2M164.80,37.2V148.2M207.90,37.2V148.2M10.4,51.90H269.1M10.4,66.27H269.1M10.4,80.63H269.1M10.4,109.37H269.1M10.4,123.73H269.1M251.00,37.2V148.2M10.4,95.00H269.1M10.4,138.10H269.1" stroke="#000" stroke-width="1" opacity="0.6" fill="none"/></g><rect x="10.4" y="37.2" width="258.7" height="111.0" fill="none" stroke="#000" stroke-width="1.1"/><rect x="272.40" y="37.20" width="5.47" height="3.85" fill="#76112d"/><rect x="277.82" y="37.20" width="5.47" height="3.85" fill="#420b16"/><rect x="283.23" y="37.20" width="5.47" height="3.85" fill="#76112d"/><rect x="288.65" y="37.20" width="5.47" height="3.85" fill="#cd7a5c"/><rect x="294.07" y="37.20" width="5.47" height="3.85" fill="#cbd7da"/><rect x="299.48" y="37.20" width="5.47" height="3.85" fill="#2b37a0"/><rect x="304.90" y="37.20" width="5.47" height="3.85" fill="#185ac0"/><rect x="310.32" y="37.20" width="5.47" height="3.85" fill="#206fbb"/><rect x="315.73" y="37.20" width="5.47" height="3.85" fill="#a0c0c8"/><rect x="321.15" y="37.20" width="5.47" height="3.85" fill="#ddab98"/><rect x="326.57" y="37.20" width="5.47" height="3.85" fill="#c66248"/><rect x="331.98" y="37.20" width="5.47" height="3.85" fill="#420b16"/><rect x="272.40" y="41.00" width="5.47" height="4.05" fill="#a52230"/><rect x="277.82" y="41.00" width="5.47" height="4.05" fill="#76112d"/><rect x="283.23" y="41.00" width="5.47" height="4.05" fill="#bb4231"/><rect x="288.65" y="41.00" width="5.47" height="4.05" fill="#ddab98"/><rect x="294.07" y="41.00" width="5.47" height="4.05" fill="#a0c0c8"/><rect x="299.48" y="41.00" width="5.47" height="4.05" fill="#232a76"/><rect x="304.90" y="41.00" width="5.47" height="4.05" fill="#232a76"/><rect x="310.32" y="41.00" width="5.47" height="4.05" fill="#206fbb"/><rect x="315.73" y="41.00" width="5.47" height="4.05" fill="#a0c0c8"/><rect x="321.15" y="41.00" width="5.47" height="4.05" fill="#ddab98"/><rect x="326.57" y="41.00" width="5.47" height="4.05" fill="#cd7a5c"/><rect x="331.98" y="41.00" width="5.47" height="4.05" fill="#a52230"/><rect x="272.40" y="45.00" width="5.47" height="4.05" fill="#bb4231"/><rect x="277.82" y="45.00" width="5.47" height="4.05" fill="#bb4231"/><rect x="283.23" y="45.00" width="5.47" height="4.05" fill="#c66248"/><rect x="288.65" y="45.00" width="5.47" height="4.05" fill="#e5c8bd"/><rect x="294.07" y="45.00" width="5.47" height="4.05" fill="#6aa1bc"/><rect x="299.48" y="45.00" width="5.47" height="4.05" fill="#232a76"/><rect x="304.90" y="45.00" width="5.47" height="4.05" fill="#1c2053"/><rect x="310.32" y="45.00" width="5.47" height="4.05" fill="#185ac0"/><rect x="315.73" y="45.00" width="5.47" height="4.05" fill="#6aa1bc"/><rect x="321.15" y="45.00" width="5.47" height="4.05" fill="#ddab98"/><rect x="326.57" y="45.00" width="5.47" height="4.05" fill="#cd7a5c"/><rect x="331.98" y="45.00" width="5.47" height="4.05" fill="#bb4231"/><rect x="272.40" y="49.00" width="5.47" height="2.85" fill="#c66248"/><rect x="277.82" y="49.00" width="5.47" height="2.85" fill="#bb4231"/><rect x="283.23" y="49.00" width="5.47" height="2.85" fill="#c66248"/><rect x="288.65" y="49.00" width="5.47" height="2.85" fill="#e5c8bd"/><rect x="294.07" y="49.00" width="5.47" height="2.85" fill="#3d86b7"/><rect x="299.48" y="49.00" width="5.47" height="2.85" fill="#232a76"/><rect x="304.90" y="49.00" width="5.47" height="2.85" fill="#232a76"/><rect x="310.32" y="49.00" width="5.47" height="2.85" fill="#185ac0"/><rect x="315.73" y="49.00" width="5.47" height="2.85" fill="#a0c0c8"/><rect x="321.15" y="49.00" width="5.47" height="2.85" fill="#ddab98"/><rect x="326.57" y="49.00" width="5.47" height="2.85" fill="#d49176"/><rect x="331.98" y="49.00" width="5.47" height="2.85" fill="#bb4231"/><rect x="272.40" y="51.80" width="5.47" height="3.25" fill="#420b16"/><rect x="277.82" y="51.80" width="5.47" height="3.25" fill="#420b16"/><rect x="283.23" y="51.80" width="5.47" height="3.25" fill="#76112d"/><rect x="288.65" y="51.80" width="5.47" height="3.25" fill="#e5c8bd"/><rect x="294.07" y="51.80" width="5.47" height="3.25" fill="#185ac0"/><rect x="299.48" y="51.80" width="5.47" height="3.25" fill="#1c2053"/><rect x="304.90" y="51.80" width="5.47" height="3.25" fill="#1c2053"/><rect x="310.32" y="51.80" width="5.47" height="3.25" fill="#185ac0"/><rect x="315.73" y="51.80" width="5.47" height="3.25" fill="#a0c0c8"/><rect x="321.15" y="51.80" width="5.47" height="3.25" fill="#ddab98"/><rect x="326.57" y="51.80" width="5.47" height="3.25" fill="#e5c8bd"/><rect x="331.98" y="51.80" width="5.47" height="3.25" fill="#420b16"/><rect x="272.40" y="55.00" width="5.47" height="4.05" fill="#76112d"/><rect x="277.82" y="55.00" width="5.47" height="4.05" fill="#76112d"/><rect x="283.23" y="55.00" width="5.47" height="4.05" fill="#bb4231"/><rect x="288.65" y="55.00" width="5.47" height="4.05" fill="#f1ecea"/><rect x="294.07" y="55.00" width="5.47" height="4.05" fill="#185ac0"/><rect x="299.48" y="55.00" width="5.47" height="4.05" fill="#185ac0"/><rect x="304.90" y="55.00" width="5.47" height="4.05" fill="#185ac0"/><rect x="310.32" y="55.00" width="5.47" height="4.05" fill="#185ac0"/><rect x="315.73" y="55.00" width="5.47" height="4.05" fill="#a0c0c8"/><rect x="321.15" y="55.00" width="5.47" height="4.05" fill="#e5c8bd"/><rect x="326.57" y="55.00" width="5.47" height="4.05" fill="#d49176"/><rect x="331.98" y="55.00" width="5.47" height="4.05" fill="#bb4231"/><rect x="272.40" y="59.00" width="5.47" height="4.05" fill="#cd7a5c"/><rect x="277.82" y="59.00" width="5.47" height="4.05" fill="#cd7a5c"/><rect x="283.23" y="59.00" width="5.47" height="4.05" fill="#ddab98"/><rect x="288.65" y="59.00" width="5.47" height="4.05" fill="#a0c0c8"/><rect x="294.07" y="59.00" width="5.47" height="4.05" fill="#206fbb"/><rect x="299.48" y="59.00" width="5.47" height="4.05" fill="#206fbb"/><rect x="304.90" y="59.00" width="5.47" height="4.05" fill="#206fbb"/><rect x="310.32" y="59.00" width="5.47" height="4.05" fill="#206fbb"/><rect x="315.73" y="59.00" width="5.47" height="4.05" fill="#6aa1bc"/><rect x="321.15" y="59.00" width="5.47" height="4.05" fill="#f1ecea"/><rect x="326.57" y="59.00" width="5.47" height="4.05" fill="#ddab98"/><rect x="331.98" y="59.00" width="5.47" height="4.05" fill="#cd7a5c"/><rect x="272.40" y="63.00" width="5.47" height="3.25" fill="#ddab98"/><rect x="277.82" y="63.00" width="5.47" height="3.25" fill="#ddab98"/><rect x="283.23" y="63.00" width="5.47" height="3.25" fill="#e5c8bd"/><rect x="288.65" y="63.00" width="5.47" height="3.25" fill="#a0c0c8"/><rect x="294.07" y="63.00" width="5.47" height="3.25" fill="#206fbb"/><rect x="299.48" y="63.00" width="5.47" height="3.25" fill="#3d86b7"/><rect x="304.90" y="63.00" width="5.47" height="3.25" fill="#6aa1bc"/><rect x="310.32" y="63.00" width="5.47" height="3.25" fill="#6aa1bc"/><rect x="315.73" y="63.00" width="5.47" height="3.25" fill="#a0c0c8"/><rect x="321.15" y="63.00" width="5.47" height="3.25" fill="#f1ecea"/><rect x="326.57" y="63.00" width="5.47" height="3.25" fill="#f1ecea"/><rect x="331.98" y="63.00" width="5.47" height="3.25" fill="#ddab98"/><rect x="272.40" y="66.20" width="5.47" height="3.85" fill="#d49176"/><rect x="277.82" y="66.20" width="5.47" height="3.85" fill="#d49176"/><rect x="283.23" y="66.20" width="5.47" height="3.85" fill="#e5c8bd"/><rect x="288.65" y="66.20" width="5.47" height="3.85" fill="#a0c0c8"/><rect x="294.07" y="66.20" width="5.47" height="3.85" fill="#6aa1bc"/><rect x="299.48" y="66.20" width="5.47" height="3.85" fill="#6aa1bc"/><rect x="304.90" y="66.20" width="5.47" height="3.85" fill="#a0c0c8"/><rect x="310.32" y="66.20" width="5.47" height="3.85" fill="#a0c0c8"/><rect x="315.73" y="66.20" width="5.47" height="3.85" fill="#a0c0c8"/><rect x="321.15" y="66.20" width="5.47" height="3.85" fill="#cbd7da"/><rect x="326.57" y="66.20" width="5.47" height="3.85" fill="#e5c8bd"/><rect x="331.98" y="66.20" width="5.47" height="3.85" fill="#cd7a5c"/><rect x="272.40" y="70.00" width="5.47" height="4.05" fill="#ddab98"/><rect x="277.82" y="70.00" width="5.47" height="4.05" fill="#d49176"/><rect x="283.23" y="70.00" width="5.47" height="4.05" fill="#f1ecea"/><rect x="288.65" y="70.00" width="5.47" height="4.05" fill="#a0c0c8"/><rect x="294.07" y="70.00" width="5.47" height="4.05" fill="#a0c0c8"/><rect x="299.48" y="70.00" width="5.47" height="4.05" fill="#6aa1bc"/><rect x="304.90" y="70.00" width="5.47" height="4.05" fill="#a0c0c8"/><rect x="310.32" y="70.00" width="5.47" height="4.05" fill="#a0c0c8"/><rect x="315.73" y="70.00" width="5.47" height="4.05" fill="#a0c0c8"/><rect x="321.15" y="70.00" width="5.47" height="4.05" fill="#b6ccd1"/><rect x="326.57" y="70.00" width="5.47" height="4.05" fill="#f1ecea"/><rect x="331.98" y="70.00" width="5.47" height="4.05" fill="#ddab98"/><rect x="272.40" y="74.00" width="5.47" height="4.05" fill="#ddab98"/><rect x="277.82" y="74.00" width="5.47" height="4.05" fill="#ddab98"/><rect x="283.23" y="74.00" width="5.47" height="4.05" fill="#cbd7da"/><rect x="288.65" y="74.00" width="5.47" height="4.05" fill="#a0c0c8"/><rect x="294.07" y="74.00" width="5.47" height="4.05" fill="#a0c0c8"/><rect x="299.48" y="74.00" width="5.47" height="4.05" fill="#a0c0c8"/><rect x="304.90" y="74.00" width="5.47" height="4.05" fill="#a0c0c8"/><rect x="310.32" y="74.00" width="5.47" height="4.05" fill="#a0c0c8"/><rect x="315.73" y="74.00" width="5.47" height="4.05" fill="#a0c0c8"/><rect x="321.15" y="74.00" width="5.47" height="4.05" fill="#f1ecea"/><rect x="326.57" y="74.00" width="5.47" height="4.05" fill="#cbd7da"/><rect x="331.98" y="74.00" width="5.47" height="4.05" fill="#e5c8bd"/><rect x="272.40" y="78.00" width="5.47" height="2.65" fill="#e5c8bd"/><rect x="277.82" y="78.00" width="5.47" height="2.65" fill="#ddab98"/><rect x="283.23" y="78.00" width="5.47" height="2.65" fill="#f1ecea"/><rect x="288.65" y="78.00" width="5.47" height="2.65" fill="#b6ccd1"/><rect x="294.07" y="78.00" width="5.47" height="2.65" fill="#a0c0c8"/><rect x="299.48" y="78.00" width="5.47" height="2.65" fill="#a0c0c8"/><rect x="304.90" y="78.00" width="5.47" height="2.65" fill="#a0c0c8"/><rect x="310.32" y="78.00" width="5.47" height="2.65" fill="#6aa1bc"/><rect x="315.73" y="78.00" width="5.47" height="2.65" fill="#a0c0c8"/><rect x="321.15" y="78.00" width="5.47" height="2.65" fill="#b6ccd1"/><rect x="326.57" y="78.00" width="5.47" height="2.65" fill="#cbd7da"/><rect x="331.98" y="78.00" width="5.47" height="2.65" fill="#f1ecea"/><rect x="272.40" y="80.60" width="5.47" height="4.45" fill="#e5c8bd"/><rect x="277.82" y="80.60" width="5.47" height="4.45" fill="#cbd7da"/><rect x="283.23" y="80.60" width="5.47" height="4.45" fill="#a0c0c8"/><rect x="288.65" y="80.60" width="5.47" height="4.45" fill="#6aa1bc"/><rect x="294.07" y="80.60" width="5.47" height="4.45" fill="#a0c0c8"/><rect x="299.48" y="80.60" width="5.47" height="4.45" fill="#6aa1bc"/><rect x="304.90" y="80.60" width="5.47" height="4.45" fill="#cbd7da"/><rect x="310.32" y="80.60" width="5.47" height="4.45" fill="#6aa1bc"/><rect x="315.73" y="80.60" width="5.47" height="4.45" fill="#6aa1bc"/><rect x="321.15" y="80.60" width="5.47" height="4.45" fill="#6aa1bc"/><rect x="326.57" y="80.60" width="5.47" height="4.45" fill="#cbd7da"/><rect x="331.98" y="80.60" width="5.47" height="4.45" fill="#f1ecea"/><rect x="272.40" y="85.00" width="5.47" height="4.05" fill="#e5c8bd"/><rect x="277.82" y="85.00" width="5.47" height="4.05" fill="#a0c0c8"/><rect x="283.23" y="85.00" width="5.47" height="4.05" fill="#6aa1bc"/><rect x="288.65" y="85.00" width="5.47" height="4.05" fill="#6aa1bc"/><rect x="294.07" y="85.00" width="5.47" height="4.05" fill="#a0c0c8"/><rect x="299.48" y="85.00" width="5.47" height="4.05" fill="#6aa1bc"/><rect x="304.90" y="85.00" width="5.47" height="4.05" fill="#cbd7da"/><rect x="310.32" y="85.00" width="5.47" height="4.05" fill="#6aa1bc"/><rect x="315.73" y="85.00" width="5.47" height="4.05" fill="#6aa1bc"/><rect x="321.15" y="85.00" width="5.47" height="4.05" fill="#a0c0c8"/><rect x="326.57" y="85.00" width="5.47" height="4.05" fill="#cbd7da"/><rect x="331.98" y="85.00" width="5.47" height="4.05" fill="#f1ecea"/><rect x="272.40" y="89.00" width="5.47" height="3.05" fill="#e5c8bd"/><rect x="277.82" y="89.00" width="5.47" height="3.05" fill="#cbd7da"/><rect x="283.23" y="89.00" width="5.47" height="3.05" fill="#6aa1bc"/><rect x="288.65" y="89.00" width="5.47" height="3.05" fill="#206fbb"/><rect x="294.07" y="89.00" width="5.47" height="3.05" fill="#6aa1bc"/><rect x="299.48" y="89.00" width="5.47" height="3.05" fill="#a0c0c8"/><rect x="304.90" y="89.00" width="5.47" height="3.05" fill="#cbd7da"/><rect x="310.32" y="89.00" width="5.47" height="3.05" fill="#a0c0c8"/><rect x="315.73" y="89.00" width="5.47" height="3.05" fill="#a0c0c8"/><rect x="321.15" y="89.00" width="5.47" height="3.05" fill="#a0c0c8"/><rect x="326.57" y="89.00" width="5.47" height="3.05" fill="#cbd7da"/><rect x="331.98" y="89.00" width="5.47" height="3.05" fill="#e5c8bd"/><rect x="272.40" y="92.00" width="5.47" height="2.95" fill="#e5c8bd"/><rect x="277.82" y="92.00" width="5.47" height="2.95" fill="#cbd7da"/><rect x="283.23" y="92.00" width="5.47" height="2.95" fill="#a0c0c8"/><rect x="288.65" y="92.00" width="5.47" height="2.95" fill="#a0c0c8"/><rect x="294.07" y="92.00" width="5.47" height="2.95" fill="#cbd7da"/><rect x="299.48" y="92.00" width="5.47" height="2.95" fill="#f1ecea"/><rect x="304.90" y="92.00" width="5.47" height="2.95" fill="#e5c8bd"/><rect x="310.32" y="92.00" width="5.47" height="2.95" fill="#f1ecea"/><rect x="315.73" y="92.00" width="5.47" height="2.95" fill="#cbd7da"/><rect x="321.15" y="92.00" width="5.47" height="2.95" fill="#cbd7da"/><rect x="326.57" y="92.00" width="5.47" height="2.95" fill="#f1ecea"/><rect x="331.98" y="92.00" width="5.47" height="2.95" fill="#e5c8bd"/><rect x="272.40" y="94.90" width="5.47" height="4.15" fill="#f1ecea"/><rect x="277.82" y="94.90" width="5.47" height="4.15" fill="#cbd7da"/><rect x="283.23" y="94.90" width="5.47" height="4.15" fill="#cbd7da"/><rect x="288.65" y="94.90" width="5.47" height="4.15" fill="#a0c0c8"/><rect x="294.07" y="94.90" width="5.47" height="4.15" fill="#f1ecea"/><rect x="299.48" y="94.90" width="5.47" height="4.15" fill="#e5c8bd"/><rect x="304.90" y="94.90" width="5.47" height="4.15" fill="#cd7a5c"/><rect x="310.32" y="94.90" width="5.47" height="4.15" fill="#ddab98"/><rect x="315.73" y="94.90" width="5.47" height="4.15" fill="#e5c8bd"/><rect x="321.15" y="94.90" width="5.47" height="4.15" fill="#e5c8bd"/><rect x="326.57" y="94.90" width="5.47" height="4.15" fill="#e5c8bd"/><rect x="331.98" y="94.90" width="5.47" height="4.15" fill="#ddab98"/><rect x="272.40" y="99.00" width="5.47" height="4.05" fill="#6aa1bc"/><rect x="277.82" y="99.00" width="5.47" height="4.05" fill="#cbd7da"/><rect x="283.23" y="99.00" width="5.47" height="4.05" fill="#a0c0c8"/><rect x="288.65" y="99.00" width="5.47" height="4.05" fill="#6aa1bc"/><rect x="294.07" y="99.00" width="5.47" height="4.05" fill="#f1ecea"/><rect x="299.48" y="99.00" width="5.47" height="4.05" fill="#ddab98"/><rect x="304.90" y="99.00" width="5.47" height="4.05" fill="#cd7a5c"/><rect x="310.32" y="99.00" width="5.47" height="4.05" fill="#e5c8bd"/><rect x="315.73" y="99.00" width="5.47" height="4.05" fill="#f1ecea"/><rect x="321.15" y="99.00" width="5.47" height="4.05" fill="#cbd7da"/><rect x="326.57" y="99.00" width="5.47" height="4.05" fill="#a0c0c8"/><rect x="331.98" y="99.00" width="5.47" height="4.05" fill="#a0c0c8"/><rect x="272.40" y="103.00" width="5.47" height="4.05" fill="#6aa1bc"/><rect x="277.82" y="103.00" width="5.47" height="4.05" fill="#cbd7da"/><rect x="283.23" y="103.00" width="5.47" height="4.05" fill="#6aa1bc"/><rect x="288.65" y="103.00" width="5.47" height="4.05" fill="#a0c0c8"/><rect x="294.07" y="103.00" width="5.47" height="4.05" fill="#f1ecea"/><rect x="299.48" y="103.00" width="5.47" height="4.05" fill="#d49176"/><rect x="304.90" y="103.00" width="5.47" height="4.05" fill="#cd7a5c"/><rect x="310.32" y="103.00" width="5.47" height="4.05" fill="#c66248"/><rect x="315.73" y="103.00" width="5.47" height="4.05" fill="#e5c8bd"/><rect x="321.15" y="103.00" width="5.47" height="4.05" fill="#f1ecea"/><rect x="326.57" y="103.00" width="5.47" height="4.05" fill="#a0c0c8"/><rect x="331.98" y="103.00" width="5.47" height="4.05" fill="#a0c0c8"/><rect x="272.40" y="107.00" width="5.47" height="2.35" fill="#a0c0c8"/><rect x="277.82" y="107.00" width="5.47" height="2.35" fill="#cbd7da"/><rect x="283.23" y="107.00" width="5.47" height="2.35" fill="#a0c0c8"/><rect x="288.65" y="107.00" width="5.47" height="2.35" fill="#cbd7da"/><rect x="294.07" y="107.00" width="5.47" height="2.35" fill="#f1ecea"/><rect x="299.48" y="107.00" width="5.47" height="2.35" fill="#ddab98"/><rect x="304.90" y="107.00" width="5.47" height="2.35" fill="#d49176"/><rect x="310.32" y="107.00" width="5.47" height="2.35" fill="#d49176"/><rect x="315.73" y="107.00" width="5.47" height="2.35" fill="#e5c8bd"/><rect x="321.15" y="107.00" width="5.47" height="2.35" fill="#f1ecea"/><rect x="326.57" y="107.00" width="5.47" height="2.35" fill="#cbd7da"/><rect x="331.98" y="107.00" width="5.47" height="2.35" fill="#a0c0c8"/><rect x="272.40" y="109.30" width="5.47" height="3.75" fill="#cbd7da"/><rect x="277.82" y="109.30" width="5.47" height="3.75" fill="#cbd7da"/><rect x="283.23" y="109.30" width="5.47" height="3.75" fill="#f1ecea"/><rect x="288.65" y="109.30" width="5.47" height="3.75" fill="#e5c8bd"/><rect x="294.07" y="109.30" width="5.47" height="3.75" fill="#ddab98"/><rect x="299.48" y="109.30" width="5.47" height="3.75" fill="#d49176"/><rect x="304.90" y="109.30" width="5.47" height="3.75" fill="#cd7a5c"/><rect x="310.32" y="109.30" width="5.47" height="3.75" fill="#d49176"/><rect x="315.73" y="109.30" width="5.47" height="3.75" fill="#ddab98"/><rect x="321.15" y="109.30" width="5.47" height="3.75" fill="#e5c8bd"/><rect x="326.57" y="109.30" width="5.47" height="3.75" fill="#cbd7da"/><rect x="331.98" y="109.30" width="5.47" height="3.75" fill="#cbd7da"/><rect x="272.40" y="113.00" width="5.47" height="4.05" fill="#a0c0c8"/><rect x="277.82" y="113.00" width="5.47" height="4.05" fill="#a0c0c8"/><rect x="283.23" y="113.00" width="5.47" height="4.05" fill="#cbd7da"/><rect x="288.65" y="113.00" width="5.47" height="4.05" fill="#e5c8bd"/><rect x="294.07" y="113.00" width="5.47" height="4.05" fill="#ddab98"/><rect x="299.48" y="113.00" width="5.47" height="4.05" fill="#d49176"/><rect x="304.90" y="113.00" width="5.47" height="4.05" fill="#cd7a5c"/><rect x="310.32" y="113.00" width="5.47" height="4.05" fill="#d1876a"/><rect x="315.73" y="113.00" width="5.47" height="4.05" fill="#ddab98"/><rect x="321.15" y="113.00" width="5.47" height="4.05" fill="#f1ecea"/><rect x="326.57" y="113.00" width="5.47" height="4.05" fill="#a0c0c8"/><rect x="331.98" y="113.00" width="5.47" height="4.05" fill="#a0c0c8"/><rect x="272.40" y="117.00" width="5.47" height="4.05" fill="#6aa1bc"/><rect x="277.82" y="117.00" width="5.47" height="4.05" fill="#a0c0c8"/><rect x="283.23" y="117.00" width="5.47" height="4.05" fill="#cbd7da"/><rect x="288.65" y="117.00" width="5.47" height="4.05" fill="#f1ecea"/><rect x="294.07" y="117.00" width="5.47" height="4.05" fill="#ddab98"/><rect x="299.48" y="117.00" width="5.47" height="4.05" fill="#d49176"/><rect x="304.90" y="117.00" width="5.47" height="4.05" fill="#cd7a5c"/><rect x="310.32" y="117.00" width="5.47" height="4.05" fill="#d49176"/><rect x="315.73" y="117.00" width="5.47" height="4.05" fill="#ddab98"/><rect x="321.15" y="117.00" width="5.47" height="4.05" fill="#f1ecea"/><rect x="326.57" y="117.00" width="5.47" height="4.05" fill="#a0c0c8"/><rect x="331.98" y="117.00" width="5.47" height="4.05" fill="#6aa1bc"/><rect x="272.40" y="121.00" width="5.47" height="2.65" fill="#3d86b7"/><rect x="277.82" y="121.00" width="5.47" height="2.65" fill="#a0c0c8"/><rect x="283.23" y="121.00" width="5.47" height="2.65" fill="#cbd7da"/><rect x="288.65" y="121.00" width="5.47" height="2.65" fill="#f1ecea"/><rect x="294.07" y="121.00" width="5.47" height="2.65" fill="#ddab98"/><rect x="299.48" y="121.00" width="5.47" height="2.65" fill="#d49176"/><rect x="304.90" y="121.00" width="5.47" height="2.65" fill="#cd7a5c"/><rect x="310.32" y="121.00" width="5.47" height="2.65" fill="#d1876a"/><rect x="315.73" y="121.00" width="5.47" height="2.65" fill="#ddab98"/><rect x="321.15" y="121.00" width="5.47" height="2.65" fill="#cbd7da"/><rect x="326.57" y="121.00" width="5.47" height="2.65" fill="#3d86b7"/><rect x="331.98" y="121.00" width="5.47" height="2.65" fill="#2b37a0"/><rect x="272.40" y="123.60" width="5.47" height="3.45" fill="#185ac0"/><rect x="277.82" y="123.60" width="5.47" height="3.45" fill="#206fbb"/><rect x="283.23" y="123.60" width="5.47" height="3.45" fill="#84b0c1"/><rect x="288.65" y="123.60" width="5.47" height="3.45" fill="#f1ecea"/><rect x="294.07" y="123.60" width="5.47" height="3.45" fill="#ddab98"/><rect x="299.48" y="123.60" width="5.47" height="3.45" fill="#d1876a"/><rect x="304.90" y="123.60" width="5.47" height="3.45" fill="#cd7a5c"/><rect x="310.32" y="123.60" width="5.47" height="3.45" fill="#cd7a5c"/><rect x="315.73" y="123.60" width="5.47" height="3.45" fill="#ddab98"/><rect x="321.15" y="123.60" width="5.47" height="3.45" fill="#84b0c1"/><rect x="326.57" y="123.60" width="5.47" height="3.45" fill="#185ac0"/><rect x="331.98" y="123.60" width="5.47" height="3.45" fill="#232a76"/><rect x="272.40" y="127.00" width="5.47" height="4.05" fill="#185ac0"/><rect x="277.82" y="127.00" width="5.47" height="4.05" fill="#2d7ab8"/><rect x="283.23" y="127.00" width="5.47" height="4.05" fill="#a0c0c8"/><rect x="288.65" y="127.00" width="5.47" height="4.05" fill="#f1ecea"/><rect x="294.07" y="127.00" width="5.47" height="4.05" fill="#ddab98"/><rect x="299.48" y="127.00" width="5.47" height="4.05" fill="#d1876a"/><rect x="304.90" y="127.00" width="5.47" height="4.05" fill="#ca6f52"/><rect x="310.32" y="127.00" width="5.47" height="4.05" fill="#ca6f52"/><rect x="315.73" y="127.00" width="5.47" height="4.05" fill="#ddab98"/><rect x="321.15" y="127.00" width="5.47" height="4.05" fill="#a0c0c8"/><rect x="326.57" y="127.00" width="5.47" height="4.05" fill="#185ac0"/><rect x="331.98" y="127.00" width="5.47" height="4.05" fill="#1c2053"/><rect x="272.40" y="131.00" width="5.47" height="4.05" fill="#185ac0"/><rect x="277.82" y="131.00" width="5.47" height="4.05" fill="#3d86b7"/><rect x="283.23" y="131.00" width="5.47" height="4.05" fill="#cbd7da"/><rect x="288.65" y="131.00" width="5.47" height="4.05" fill="#e5c8bd"/><rect x="294.07" y="131.00" width="5.47" height="4.05" fill="#d49176"/><rect x="299.48" y="131.00" width="5.47" height="4.05" fill="#ca6f52"/><rect x="304.90" y="131.00" width="5.47" height="4.05" fill="#c1513b"/><rect x="310.32" y="131.00" width="5.47" height="4.05" fill="#c1513b"/><rect x="315.73" y="131.00" width="5.47" height="4.05" fill="#d49176"/><rect x="321.15" y="131.00" width="5.47" height="4.05" fill="#f1ecea"/><rect x="326.57" y="131.00" width="5.47" height="4.05" fill="#206fbb"/><rect x="331.98" y="131.00" width="5.47" height="4.05" fill="#232a76"/><rect x="272.40" y="135.00" width="5.47" height="3.05" fill="#206fbb"/><rect x="277.82" y="135.00" width="5.47" height="3.05" fill="#6aa1bc"/><rect x="283.23" y="135.00" width="5.47" height="3.05" fill="#e5c8bd"/><rect x="288.65" y="135.00" width="5.47" height="3.05" fill="#ddab98"/><rect x="294.07" y="135.00" width="5.47" height="3.05" fill="#cd7a5c"/><rect x="299.48" y="135.00" width="5.47" height="3.05" fill="#c66248"/><rect x="304.90" y="135.00" width="5.47" height="3.05" fill="#bb4231"/><rect x="310.32" y="135.00" width="5.47" height="3.05" fill="#bb4231"/><rect x="315.73" y="135.00" width="5.47" height="3.05" fill="#cd7a5c"/><rect x="321.15" y="135.00" width="5.47" height="3.05" fill="#e5c8bd"/><rect x="326.57" y="135.00" width="5.47" height="3.05" fill="#3d86b7"/><rect x="331.98" y="135.00" width="5.47" height="3.05" fill="#2b37a0"/><rect x="272.40" y="138.00" width="5.47" height="3.05" fill="#206fbb"/><rect x="277.82" y="138.00" width="5.47" height="3.05" fill="#5294b7"/><rect x="283.23" y="138.00" width="5.47" height="3.05" fill="#f1ecea"/><rect x="288.65" y="138.00" width="5.47" height="3.05" fill="#d49176"/><rect x="294.07" y="138.00" width="5.47" height="3.05" fill="#ca6f52"/><rect x="299.48" y="138.00" width="5.47" height="3.05" fill="#c66248"/><rect x="304.90" y="138.00" width="5.47" height="3.05" fill="#bb4231"/><rect x="310.32" y="138.00" width="5.47" height="3.05" fill="#bb4231"/><rect x="315.73" y="138.00" width="5.47" height="3.05" fill="#c66248"/><rect x="321.15" y="138.00" width="5.47" height="3.05" fill="#d49176"/><rect x="326.57" y="138.00" width="5.47" height="3.05" fill="#6aa1bc"/><rect x="331.98" y="138.00" width="5.47" height="3.05" fill="#2b37a0"/><rect x="272.40" y="141.00" width="5.47" height="3.05" fill="#3d86b7"/><rect x="277.82" y="141.00" width="5.47" height="3.05" fill="#6aa1bc"/><rect x="283.23" y="141.00" width="5.47" height="3.05" fill="#f1ecea"/><rect x="288.65" y="141.00" width="5.47" height="3.05" fill="#d49176"/><rect x="294.07" y="141.00" width="5.47" height="3.05" fill="#ca6f52"/><rect x="299.48" y="141.00" width="5.47" height="3.05" fill="#a52230"/><rect x="304.90" y="141.00" width="5.47" height="3.05" fill="#bb4231"/><rect x="310.32" y="141.00" width="5.47" height="3.05" fill="#76112d"/><rect x="315.73" y="141.00" width="5.47" height="3.05" fill="#bb4231"/><rect x="321.15" y="141.00" width="5.47" height="3.05" fill="#cd7a5c"/><rect x="326.57" y="141.00" width="5.47" height="3.05" fill="#e5c8bd"/><rect x="331.98" y="141.00" width="5.47" height="3.05" fill="#6aa1bc"/><rect x="272.40" y="144.00" width="5.47" height="2.05" fill="#a0c0c8"/><rect x="277.82" y="144.00" width="5.47" height="2.05" fill="#cbd7da"/><rect x="283.23" y="144.00" width="5.47" height="2.05" fill="#e5c8bd"/><rect x="288.65" y="144.00" width="5.47" height="2.05" fill="#d49176"/><rect x="294.07" y="144.00" width="5.47" height="2.05" fill="#cd7a5c"/><rect x="299.48" y="144.00" width="5.47" height="2.05" fill="#cd7a5c"/><rect x="304.90" y="144.00" width="5.47" height="2.05" fill="#76112d"/><rect x="310.32" y="144.00" width="5.47" height="2.05" fill="#cd7a5c"/><rect x="315.73" y="144.00" width="5.47" height="2.05" fill="#ddab98"/><rect x="321.15" y="144.00" width="5.47" height="2.05" fill="#e5c8bd"/><rect x="326.57" y="144.00" width="5.47" height="2.05" fill="#f1ecea"/><rect x="331.98" y="144.00" width="5.47" height="2.05" fill="#ddab98"/><rect x="272.40" y="146.00" width="5.47" height="2.25" fill="#e5c8bd"/><rect x="277.82" y="146.00" width="5.47" height="2.25" fill="#e5c8bd"/><rect x="283.23" y="146.00" width="5.47" height="2.25" fill="#e5c8bd"/><rect x="288.65" y="146.00" width="5.47" height="2.25" fill="#d49176"/><rect x="294.07" y="146.00" width="5.47" height="2.25" fill="#c9c9c9"/><rect x="299.48" y="146.00" width="5.47" height="2.25" fill="#c9c9c9"/><rect x="304.90" y="146.00" width="5.47" height="2.25" fill="#c9c9c9"/><rect x="310.32" y="146.00" width="5.47" height="2.25" fill="#c9c9c9"/><rect x="315.73" y="146.00" width="5.47" height="2.25" fill="#c9c9c9"/><rect x="321.15" y="146.00" width="5.47" height="2.25" fill="#c9c9c9"/><rect x="326.57" y="146.00" width="5.47" height="2.25" fill="#e5c8bd"/><rect x="331.98" y="146.00" width="5.47" height="2.25" fill="#d49176"/><path d="M272.4,51.90H337.4M272.4,66.27H337.4M272.4,80.63H337.4M272.4,95.00H337.4M272.4,109.37H337.4M272.4,123.73H337.4M272.4,138.10H337.4" stroke="#000" stroke-width="1" opacity="0.45" fill="none"/><path d="M272.4,51.90h6M272.4,66.27h6M272.4,80.63h6M272.4,95.00h6M272.4,109.37h6M272.4,123.73h6M272.4,138.10h6" stroke="#000" stroke-width="1" opacity="0.8" fill="none"/><rect x="272.4" y="37.2" width="65.0" height="111.0" fill="none" stroke="#000" stroke-width="0.9"/><text x="280.5" y="22.9" font-size="10.9" text-anchor="middle" textLength="5.6" lengthAdjust="spacingAndGlyphs">F</text><text x="291.4" y="22.9" font-size="10.9" text-anchor="middle" textLength="6.6" lengthAdjust="spacingAndGlyphs">A</text><text x="302.2" y="22.9" font-size="10.9" text-anchor="middle">J</text><text x="313.0" y="22.9" font-size="10.9" text-anchor="middle" textLength="6.6" lengthAdjust="spacingAndGlyphs">A</text><text x="323.9" y="22.9" font-size="10.9" text-anchor="middle" textLength="7.6" lengthAdjust="spacingAndGlyphs">O</text><text x="334.7" y="22.9" font-size="10.9" text-anchor="middle" textLength="7.5" lengthAdjust="spacingAndGlyphs">D</text><path d="M280.50,37.2V31.00M291.50,37.2V31.00M302.50,37.2V31.00M313.50,37.2V31.00M323.50,37.2V31.00M334.50,37.2V31.00" stroke="#000" stroke-width="1"/><text x="304.9" y="7.5" font-size="10.6" text-anchor="middle" textLength="31.2" lengthAdjust="spacingAndGlyphs">Month</text><text x="14.8" y="29.0" font-size="11" text-anchor="start" font-weight="bold">a</text><text x="139.8" y="26.0" font-size="13.3" text-anchor="middle" textLength="142.6" lengthAdjust="spacingAndGlyphs">Air–sea exchange, <tspan font-style="italic">F</tspan><tspan font-style="italic" font-size="9.3" dy="1.4">A-S</tspan></text><linearGradient id="ga" gradientUnits="userSpaceOnUse" x1="10.20" y1="0" x2="257.00" y2="0"><stop offset="0.000" stop-color="#181c43"/><stop offset="0.060" stop-color="#1f2563"/><stop offset="0.120" stop-color="#272f88"/><stop offset="0.160" stop-color="#2c3aa8"/><stop offset="0.180" stop-color="#1f52c0"/><stop offset="0.200" stop-color="#1262c0"/><stop offset="0.250" stop-color="#2a78b8"/><stop offset="0.300" stop-color="#4a8fb6"/><stop offset="0.350" stop-color="#72a6bd"/><stop offset="0.400" stop-color="#a0c0c8"/><stop offset="0.450" stop-color="#cbd7da"/><stop offset="0.500" stop-color="#f1ecea"/><stop offset="0.575" stop-color="#e4c5ba"/><stop offset="0.645" stop-color="#dba48f"/><stop offset="0.720" stop-color="#d08466"/><stop offset="0.755" stop-color="#c96c4f"/><stop offset="0.790" stop-color="#bf4a36"/><stop offset="0.815" stop-color="#b5352a"/><stop offset="0.845" stop-color="#a82430"/><stop offset="0.875" stop-color="#961a32"/><stop offset="0.910" stop-color="#7e1230"/><stop offset="0.955" stop-color="#5c0e24"/><stop offset="1.000" stop-color="#3a0a12"/></linearGradient><path d="M10.20,166.30L10.20,153.30L257.00,153.30L269.34,159.80L257.00,166.30Z" fill="url(#ga)" stroke="none"/><path d="M269.34,159.80L256.70,153.30L256.70,166.30Z" fill="#3a0a12"/><path d="M10.20,166.30L10.20,153.30L257.00,153.30L269.34,159.80L257.00,166.30Z" fill="none" stroke="#000" stroke-width="0.8" stroke-linejoin="miter"/><text x="10.2" y="186.6" font-size="10.4" text-anchor="middle" textLength="21.1" lengthAdjust="spacingAndGlyphs">−15</text><text x="51.3" y="186.6" font-size="10.4" text-anchor="middle" textLength="21.1" lengthAdjust="spacingAndGlyphs">−10</text><text x="92.5" y="186.6" font-size="10.4" text-anchor="middle" textLength="14.7" lengthAdjust="spacingAndGlyphs">−5</text><text x="133.6" y="186.6" font-size="10.4" text-anchor="middle" textLength="6.4" lengthAdjust="spacingAndGlyphs">0</text><text x="174.7" y="186.6" font-size="10.4" text-anchor="middle" textLength="6.4" lengthAdjust="spacingAndGlyphs">5</text><text x="215.9" y="186.6" font-size="10.4" text-anchor="middle" textLength="12.7" lengthAdjust="spacingAndGlyphs">10</text><text x="257.0" y="186.6" font-size="10.4" text-anchor="middle" textLength="12.7" lengthAdjust="spacingAndGlyphs">15</text><path d="M10.50,166.30V172.10M51.50,166.30V172.10M92.50,166.30V172.10M133.50,166.30V172.10M174.50,166.30V172.10M215.50,166.30V172.10M257.50,166.30V172.10" stroke="#000" stroke-width="1"/><text x="133.6" y="205.0" font-size="10.9" text-anchor="middle" textLength="222" lengthAdjust="spacingAndGlyphs">Annually integrated <tspan font-style="italic">F</tspan> (mol O<tspan font-size="7.3" dy="1.8">2</tspan><tspan dy="-1.8"> m</tspan><tspan font-size="7.3" dy="-3.6">−2</tspan><tspan dy="3.6"> year</tspan><tspan font-size="7.3" dy="-3.6">−1</tspan><tspan dy="3.6">)</tspan></text><linearGradient id="sa" gradientUnits="userSpaceOnUse" x1="275.40" y1="0" x2="334.40" y2="0"><stop offset="0.000" stop-color="#181c43"/><stop offset="0.060" stop-color="#1f2563"/><stop offset="0.120" stop-color="#272f88"/><stop offset="0.160" stop-color="#2c3aa8"/><stop offset="0.180" stop-color="#1f52c0"/><stop offset="0.200" stop-color="#1262c0"/><stop offset="0.250" stop-color="#2a78b8"/><stop offset="0.300" stop-color="#4a8fb6"/><stop offset="0.350" stop-color="#72a6bd"/><stop offset="0.400" stop-color="#a0c0c8"/><stop offset="0.450" stop-color="#cbd7da"/><stop offset="0.500" stop-color="#f1ecea"/><stop offset="0.575" stop-color="#e4c5ba"/><stop offset="0.645" stop-color="#dba48f"/><stop offset="0.720" stop-color="#d08466"/><stop offset="0.755" stop-color="#c96c4f"/><stop offset="0.790" stop-color="#bf4a36"/><stop offset="0.815" stop-color="#b5352a"/><stop offset="0.845" stop-color="#a82430"/><stop offset="0.875" stop-color="#961a32"/><stop offset="0.910" stop-color="#7e1230"/><stop offset="0.955" stop-color="#5c0e24"/><stop offset="1.000" stop-color="#3a0a12"/></linearGradient><path d="M272.45,154.50L275.40,151.40L334.40,151.40L337.35,154.50L334.40,157.60L275.40,157.60Z" fill="url(#sa)" stroke="none"/><path d="M272.45,154.50L275.70,151.40L275.70,157.60Z" fill="#181c43"/><path d="M337.35,154.50L334.10,151.40L334.10,157.60Z" fill="#3a0a12"/><path d="M272.45,154.50L275.40,151.40L334.40,151.40L337.35,154.50L334.40,157.60L275.40,157.60Z" fill="none" stroke="#000" stroke-width="0.8" stroke-linejoin="miter"/><text x="275.4" y="177.6" font-size="10.4" text-anchor="middle" textLength="14.7" lengthAdjust="spacingAndGlyphs">−1</text><text x="304.9" y="177.6" font-size="10.4" text-anchor="middle" textLength="6.4" lengthAdjust="spacingAndGlyphs">0</text><text x="334.4" y="177.6" font-size="10.4" text-anchor="middle" textLength="6.4" lengthAdjust="spacingAndGlyphs">1</text><path d="M275.50,157.60V163.10M304.50,157.60V163.10M334.50,157.60V163.10" stroke="#000" stroke-width="1"/><text x="304.4" y="195.8" font-size="10.9" text-anchor="middle" textLength="63.4" lengthAdjust="spacingAndGlyphs">(mol O<tspan font-size="7.3" dy="1.8">2</tspan><tspan dy="-1.8"> m</tspan><tspan font-size="7.3" dy="-3.6">−2</tspan></text><text x="304.4" y="210.2" font-size="10.9" text-anchor="middle" textLength="47.7" lengthAdjust="spacingAndGlyphs">month<tspan font-size="7.3" dy="-3.6">−1</tspan><tspan dy="3.6">)</tspan></text><filter id="fb" filterUnits="userSpaceOnUse" x="350.59999999999997" y="37.2" width="258.7" height="111.0" color-interpolation-filters="sRGB"><feOffset in="SourceGraphic" dx="0" dy="0" result="b"/><feTurbulence type="fractalNoise" baseFrequency="0.07 0.3" numOctaves="2" seed="5" result="n0"/><feColorMatrix in="n0" type="matrix" values="1 0 0 0 0 1 0 0 0 0 1 0 0 0 0 0 0 0 0 1" result="n1"/><feComponentTransfer in="n1" result="n"><feFuncR type="table" tableValues="0 0.08 0.2 0.36 0.48 0.5 0.5 0.5 0.5 0.5 0.5"/><feFuncG type="table" tableValues="0 0.08 0.2 0.36 0.48 0.5 0.5 0.5 0.5 0.5 0.5"/><feFuncB type="table" tableValues="0 0.08 0.2 0.36 0.48 0.5 0.5 0.5 0.5 0.5 0.5"/></feComponentTransfer><feComposite in="b" in2="n" operator="arithmetic" k1="0" k2="1" k3="0.22" k4="-0.1100" result="s"/><feComponentTransfer in="s"><feFuncR type="table" tableValues="0.094 0.102 0.110 0.114 0.122 0.129 0.141 0.149 0.157 0.165 0.173 0.141 0.102 0.075 0.106 0.133 0.165 0.204 0.243 0.282 0.329 0.380 0.427 0.482 0.537 0.592 0.647 0.702 0.753 0.804 0.851 0.898 0.945 0.933 0.925 0.914 0.902 0.894 0.886 0.878 0.871 0.863 0.851 0.843 0.835 0.824 0.816 0.804 0.792 0.776 0.761 0.737 0.714 0.686 0.663 0.624 0.588 0.545 0.506 0.459 0.412 0.365 0.322 0.275 0.227"/><feFuncG type="table" tableValues="0.110 0.118 0.129 0.137 0.145 0.157 0.169 0.176 0.188 0.208 0.224 0.282 0.345 0.388 0.416 0.443 0.471 0.498 0.525 0.557 0.584 0.612 0.639 0.671 0.702 0.733 0.765 0.792 0.820 0.847 0.875 0.898 0.925 0.894 0.863 0.831 0.796 0.769 0.737 0.710 0.678 0.651 0.624 0.600 0.573 0.545 0.522 0.478 0.435 0.384 0.325 0.267 0.216 0.180 0.145 0.122 0.102 0.086 0.075 0.067 0.063 0.055 0.051 0.043 0.039"/><feFuncB type="table" tableValues="0.263 0.294 0.329 0.361 0.396 0.431 0.471 0.506 0.549 0.596 0.647 0.714 0.753 0.753 0.741 0.729 0.722 0.718 0.718 0.714 0.722 0.729 0.737 0.749 0.761 0.776 0.792 0.816 0.839 0.859 0.878 0.898 0.918 0.878 0.839 0.800 0.761 0.722 0.682 0.647 0.608 0.573 0.537 0.502 0.471 0.435 0.404 0.365 0.322 0.278 0.235 0.200 0.169 0.176 0.188 0.192 0.196 0.192 0.188 0.176 0.161 0.141 0.118 0.094 0.071"/></feComponentTransfer></filter><clipPath id="cb"><rect x="350.59999999999997" y="37.2" width="258.7" height="111.0"/></clipPath><g clip-path="url(#cb)"><filter id="bbb" filterUnits="userSpaceOnUse" x="330.59999999999997" y="17.200000000000003" width="298.7" height="151.0" color-interpolation-filters="sRGB"><feGaussianBlur stdDeviation="4 3"/></filter><filter id="bsb" filterUnits="userSpaceOnUse" x="330.59999999999997" y="17.200000000000003" width="298.7" height="151.0" color-interpolation-filters="sRGB"><feGaussianBlur stdDeviation="1.2 0.8"/></filter><g filter="url(#fb)"><rect x="345.59999999999997" y="32.2" width="268.7" height="121.0" fill="#808080"/><g filter="url(#bbb)"><rect x="437.2" y="50.0" width="73.0" height="17.0" fill="#6c6c6c"/><rect x="464.2" y="86.0" width="83.0" height="19.0" fill="#707070"/><rect x="357.2" y="82.0" width="61.0" height="31.0" fill="#757575"/><ellipse cx="370.2" cy="85.0" rx="10" ry="5" fill="#6c6c6c"/><rect x="350.2" y="126.0" width="259.0" height="19.0" fill="#737373"/><ellipse cx="580.2" cy="70.0" rx="15" ry="6" fill="#777777"/></g><g filter="url(#bsb)"><ellipse cx="452.2" cy="58.0" rx="8" ry="2" fill="#474747"/><ellipse cx="486.2" cy="57.0" rx="12" ry="2" fill="#474747"/><ellipse cx="521.2" cy="100.7" rx="19" ry="2" fill="#575757"/><ellipse cx="484.2" cy="96.0" rx="10" ry="1.5" fill="#5e5e5e"/><ellipse cx="376.2" cy="139.0" rx="12" ry="2" fill="#3b3b3b"/><ellipse cx="490.2" cy="140.0" rx="16" ry="2.5" fill="#3b3b3b"/><ellipse cx="592.2" cy="137.0" rx="18" ry="3" fill="#474747"/><ellipse cx="437.2" cy="139.0" rx="12" ry="1.2" fill="#575757"/><ellipse cx="542.7" cy="42.3" rx="4" ry="2" fill="#575757"/></g></g><path d="M203.3,41.5L461.9,41.5L461.9,30.4L203.3,30.4ZM461.9,41.5L720.5,41.5L720.5,30.4L461.9,30.4ZM347.0,46.2L461.9,46.2L461.9,30.4L347.0,30.4ZM605.6,46.2L720.5,46.2L720.5,30.4L605.6,30.4ZM447.5,47.9L501.4,47.9L501.4,30.4L447.5,30.4ZM469.1,45.1L505.0,45.1L505.0,30.4L469.1,30.4ZM532.3,47.2L555.3,47.2L555.3,36.1L532.3,36.1ZM523.0,58.4L535.2,58.4L536.6,49.7L523.0,49.0ZM429.6,63.4L445.4,59.1L445.4,50.5L429.6,51.9ZM416.6,70.6L423.8,70.6L423.8,65.2L416.6,65.2ZM449.0,52.6L479.9,52.6L479.9,44.7L449.0,44.7ZM203.3,141.7L461.9,141.7L461.9,159.6L203.3,159.6ZM461.9,141.7L720.5,141.7L720.5,159.6L461.9,159.6ZM461.9,141.0L548.1,141.0L548.1,159.6L461.9,159.6ZM546.7,138.1L584.0,139.5L584.0,159.6L546.7,159.6ZM339.8,56.2L354.1,56.2L354.1,47.6L339.8,47.6ZM598.4,56.2L612.7,56.2L612.7,47.6L598.4,47.6Z" fill="#c9c9c9"/><ellipse cx="465.2" cy="75.0" rx="9.5" ry="1.8" fill="#c9c9c9"/><ellipse cx="380.7" cy="117.0" rx="7.5" ry="1.5" fill="#c9c9c9"/><ellipse cx="450.2" cy="117.0" rx="7.5" ry="1.5" fill="#c9c9c9"/><ellipse cx="494.2" cy="75.0" rx="7.5" ry="1.8" fill="#c9c9c9"/><ellipse cx="585.2" cy="104.0" rx="7.5" ry="2.5" fill="#c9c9c9"/><ellipse cx="418.2" cy="92.0" rx="7.5" ry="1.6" fill="#c9c9c9"/><ellipse cx="483.2" cy="105.0" rx="6" ry="1.3" fill="#c9c9c9"/><ellipse cx="540.2" cy="118.0" rx="5" ry="1.1" fill="#c9c9c9"/><ellipse cx="570.2" cy="117.0" rx="4" ry="1" fill="#c9c9c9"/><ellipse cx="403.2" cy="105.0" rx="4" ry="1" fill="#c9c9c9"/><ellipse cx="520.2" cy="113.0" rx="4" ry="0.9" fill="#c9c9c9"/><path d="M328.3,69.1L329.0,69.7L332.6,69.5L339.8,68.3L340.1,70.9L347.0,73.3L354.1,72.9L358.6,70.6L358.8,68.3L354.1,65.8L362.6,65.7L362.6,61.2L352.7,61.1L352.0,64.8L348.4,64.8L346.2,64.1L342.3,62.0L339.8,63.0L334.8,63.5L332.6,65.5L331.2,68.4ZM586.9,69.1L587.6,69.7L591.2,69.5L598.4,68.3L598.7,70.9L605.6,73.3L612.7,72.9L617.2,70.6L617.4,68.3L612.7,65.8L621.2,65.7L621.2,61.2L611.3,61.1L610.6,64.8L607.0,64.8L604.8,64.1L600.9,62.0L598.4,63.0L593.4,63.5L591.2,65.5L589.8,68.4ZM355.9,73.5L357.4,74.9L360.6,79.9L363.8,86.0L363.5,85.8L360.3,82.8L358.1,77.8L356.0,73.6ZM366.9,73.1L368.7,73.3L373.3,75.6L373.3,77.4L369.6,77.9L367.4,74.9Z" fill="#858585"/><path d="M501.4,43.6L502.8,41.5L507.2,40.3L515.8,38.8L523.0,37.2L540.9,35.7L546.7,36.1L540.9,38.3L536.6,39.0L534.4,40.0L533.7,41.4L528.0,41.6L533.7,42.1L536.6,42.8L540.9,44.2L542.4,44.7L543.1,45.4L546.3,46.9L546.7,47.2L544.9,48.3L543.4,50.5L539.8,49.9L538.0,48.7L535.5,48.7L533.7,46.9L530.1,45.1L523.0,46.2L515.8,46.2L508.6,45.8L505.0,45.1L501.4,44.7ZM547.0,131.8L549.5,131.9L549.4,132.6L547.4,132.6ZM382.0,130.0L383.2,130.1L383.0,130.7L382.0,130.6ZM328.4,69.3L325.8,71.3L325.6,73.8L323.3,75.2L321.8,77.8L320.4,79.9L320.7,81.4L321.0,82.8L320.3,84.4L320.6,86.0L321.8,87.1L322.9,88.2L324.3,90.0L326.9,91.8L329.7,91.3L331.9,91.4L334.0,90.5L335.8,90.5L336.9,91.9L338.7,91.8L339.4,92.5L339.6,93.6L339.3,95.4L341.1,97.9L341.4,99.3L342.2,101.5L342.3,103.6L341.4,105.8L341.1,107.6L343.0,111.2L343.5,114.4L344.5,115.5L345.7,117.6L345.8,119.4L347.0,120.0L348.8,119.4L351.0,119.3L352.4,118.8L354.1,117.3L355.9,115.5L356.2,113.7L358.1,112.2L358.1,110.4L357.5,109.2L359.0,107.8L361.7,105.8L361.7,102.5L360.8,100.0L360.8,98.3L362.1,96.4L363.5,94.6L365.6,93.2L367.1,91.8L368.4,89.3L369.4,87.1L369.4,86.5L367.4,86.9L364.6,87.5L363.7,86.6L363.1,85.7L362.2,84.6L360.8,83.1L360.3,82.1L359.3,79.9L358.2,77.8L357.0,75.6L356.0,73.5L355.8,72.5L353.4,72.8L350.6,72.2L347.0,72.0L346.9,72.9L343.7,72.4L340.9,71.3L339.9,70.4L340.5,68.5L339.6,68.2L338.7,68.5L334.8,68.6L331.9,69.6L331.0,69.8ZM587.0,69.3L584.4,71.3L584.2,73.8L581.9,75.2L580.4,77.8L579.0,79.9L579.3,81.4L579.6,82.8L578.9,84.4L579.2,86.0L580.4,87.1L581.5,88.2L582.9,90.0L585.5,91.8L588.3,91.3L590.5,91.4L592.6,90.5L594.4,90.5L595.5,91.9L597.3,91.8L598.0,92.5L598.2,93.6L597.9,95.4L599.7,97.9L600.0,99.3L600.8,101.5L600.9,103.6L600.0,105.8L599.7,107.6L601.6,111.2L602.1,114.4L603.0,115.5L604.3,117.6L604.4,119.4L605.6,120.0L607.4,119.4L609.6,119.3L611.0,118.8L612.7,117.3L614.5,115.5L614.8,113.7L616.7,112.2L616.7,110.4L616.1,109.2L617.6,107.8L620.3,105.8L620.3,102.5L619.4,100.0L619.4,98.3L620.6,96.4L622.1,94.6L624.2,93.2L625.7,91.8L627.0,89.3L628.0,87.1L628.0,86.5L626.0,86.9L623.2,87.5L622.3,86.6L621.7,85.7L620.8,84.6L619.4,83.1L618.9,82.1L617.9,79.9L616.8,77.8L615.6,75.6L614.6,73.5L614.4,72.5L612.0,72.8L609.2,72.2L605.6,72.0L605.5,72.9L602.3,72.4L599.5,71.3L598.5,70.4L599.1,68.5L598.2,68.2L597.3,68.5L593.4,68.6L590.5,69.6L589.6,69.8ZM328.6,69.1L328.1,68.6L327.3,68.3L326.2,68.4L326.3,67.2L325.8,67.1L326.2,66.1L326.3,64.8L325.9,64.1L326.9,63.6L328.6,63.8L331.3,63.8L331.7,62.9L331.7,61.8L331.0,61.2L329.4,60.6L329.4,60.1L331.5,60.0L331.7,59.3L332.7,59.4L333.7,58.9L334.4,58.3L335.2,58.0L335.8,57.3L336.2,56.7L337.6,56.6L338.8,56.3L338.8,55.1L338.4,54.2L340.1,53.6L340.1,54.6L339.8,55.7L340.5,56.2L341.6,55.9L342.8,56.3L344.5,55.9L346.0,55.9L347.8,55.3L347.7,54.2L348.8,53.6L350.1,53.9L349.9,53.1L349.4,52.5L352.7,52.3L354.3,52.0L353.3,51.5L350.8,51.7L349.0,52.0L347.9,51.3L348.0,49.6L350.8,48.2L350.3,47.7L348.5,47.7L347.8,48.8L346.2,49.6L345.2,50.2L345.0,51.2L346.1,51.9L345.5,52.7L344.5,54.0L343.9,54.7L342.8,55.2L341.8,55.1L341.6,54.4L341.1,53.3L340.6,52.5L339.4,52.7L338.3,53.3L337.3,53.3L336.6,52.7L336.3,51.8L336.2,50.8L336.9,50.0L338.7,49.5L340.0,48.7L341.2,47.9L341.9,47.0L343.4,45.9L344.5,45.4L345.5,44.9L347.0,44.6L349.1,44.3L350.9,43.9L352.7,44.0L354.9,44.5L353.4,44.9L355.6,45.1L358.5,45.4L361.7,46.3L362.1,47.0L361.0,47.6L358.9,47.3L357.7,47.6L356.5,47.2L357.5,48.7L359.2,49.2L359.5,48.4L361.6,48.7L363.1,47.3L364.3,47.5L364.2,45.9L365.6,45.8L365.8,46.2L367.8,46.2L370.9,45.7L371.6,46.0L374.3,45.5L375.7,45.8L376.3,44.9L378.6,45.1L380.7,45.1L380.9,44.1L380.4,43.7L381.8,42.6L382.9,42.3L384.9,42.9L384.3,44.4L385.4,46.2L386.1,45.8L386.5,43.3L389.3,43.1L390.4,42.2L394.7,41.5L395.1,40.8L400.1,40.3L405.1,40.0L407.5,39.2L409.8,39.8L413.1,40.3L414.1,42.2L417.4,42.2L421.0,42.4L423.8,42.2L425.3,43.1L426.7,44.0L429.6,43.6L433.2,42.9L437.5,43.1L440.3,43.6L442.5,44.1L446.8,44.1L448.2,45.0L453.1,44.9L455.1,44.6L459.0,44.9L461.9,45.5L463.3,45.9L465.5,46.5L468.0,46.9L469.3,47.5L468.0,47.9L467.5,48.7L465.5,48.5L463.8,48.1L462.6,48.3L460.8,48.7L459.7,50.0L457.6,50.6L454.9,51.9L452.2,51.6L450.4,52.0L449.9,53.0L449.2,53.5L449.7,54.7L448.8,55.6L447.5,56.8L446.5,57.3L445.2,58.4L444.7,56.9L444.3,54.8L445.2,53.5L446.5,53.3L449.0,51.3L450.4,50.1L447.9,50.8L445.4,50.8L443.2,52.3L441.1,52.4L438.9,52.4L435.3,52.4L433.5,53.5L431.7,54.8L430.3,56.1L432.1,56.2L434.2,56.9L433.5,59.1L433.4,60.4L432.1,61.6L430.3,63.4L428.1,64.3L426.7,64.5L425.6,65.5L424.5,67.0L425.6,68.8L425.3,69.8L423.5,70.2L423.5,68.1L422.4,66.6L419.9,67.0L420.2,65.9L419.5,65.5L418.1,66.6L417.1,67.0L418.0,68.1L420.6,68.3L419.2,69.1L418.2,70.0L419.4,72.0L420.2,72.9L420.2,73.8L419.2,75.5L418.4,76.6L417.0,78.0L414.5,79.0L412.0,79.8L411.6,80.4L410.5,79.5L409.1,80.5L408.5,81.5L409.5,82.8L410.8,83.9L411.2,86.4L409.5,87.5L408.0,88.8L407.8,87.7L406.5,86.5L405.1,85.5L404.4,86.0L403.9,87.8L404.8,89.6L405.1,90.1L406.0,90.5L406.9,91.9L407.4,94.0L406.6,93.9L405.1,92.8L404.6,91.0L403.2,89.3L403.4,87.1L402.7,83.1L400.4,83.5L400.3,81.5L398.9,80.1L398.5,78.8L397.6,79.2L396.2,79.3L395.1,79.6L395.0,80.3L393.7,81.1L391.7,83.1L390.3,83.9L390.2,85.7L389.9,87.6L388.8,88.6L388.3,89.2L387.6,88.2L386.8,86.4L386.1,84.4L385.2,82.4L384.9,81.0L384.7,79.8L384.5,79.1L383.2,80.1L382.2,78.9L382.9,78.6L381.7,78.0L380.5,76.8L376.8,76.9L374.8,76.7L373.7,75.5L373.0,75.5L372.0,76.0L369.6,75.0L368.7,73.5L367.4,73.5L367.1,73.8L368.2,75.3L369.1,77.2L369.7,77.3L369.7,76.3L370.1,77.8L371.7,77.5L373.0,76.2L373.2,77.4L374.8,78.1L375.6,78.8L374.7,80.3L374.1,81.4L372.1,82.8L370.1,83.8L367.6,84.9L364.9,85.8L363.8,85.9L363.3,84.2L363.3,83.1L361.9,81.0L360.7,79.5L359.9,77.8L358.8,76.3L357.7,74.9L357.4,74.9L356.7,74.7L356.0,73.5L357.2,72.5L357.7,71.3L358.4,69.5L358.5,68.6L357.4,68.6L355.6,69.0L354.0,69.0L352.2,68.4L351.6,67.3L351.6,66.2L353.4,65.5L355.1,65.4L357.7,64.8L360.3,65.6L362.4,65.2L362.6,64.8L360.6,63.0L359.5,62.5L357.9,62.7L356.7,63.0L355.9,62.4L354.9,61.6L354.1,62.2L353.3,63.0L352.7,64.1L352.7,65.0L351.3,65.8L349.1,66.0L348.8,66.1L349.1,67.0L349.8,67.7L348.4,68.8L348.0,68.4L347.8,67.3L346.6,65.9L346.5,64.8L344.1,63.8L342.4,62.2L341.4,62.5L341.5,63.2L342.7,64.5L344.1,65.2L345.9,66.1L344.8,67.0L344.2,67.7L343.9,67.6L343.8,66.3L341.9,65.3L340.5,64.5L339.9,63.5L338.9,63.1L338.0,63.5L336.2,63.9L334.8,64.0L334.9,64.9L333.2,65.5L332.4,66.6L332.7,67.2L332.1,68.0L331.1,68.6L329.4,68.6ZM587.2,69.1L586.7,68.6L585.9,68.3L584.8,68.4L584.9,67.2L584.4,67.1L584.8,66.1L584.9,64.8L584.5,64.1L585.5,63.6L587.2,63.8L589.9,63.8L590.3,62.9L590.3,61.8L589.6,61.2L588.0,60.6L588.0,60.1L590.1,60.0L590.3,59.3L591.3,59.4L592.3,58.9L593.0,58.3L593.8,58.0L594.4,57.3L594.8,56.7L596.2,56.6L597.4,56.3L597.4,55.1L597.0,54.2L598.7,53.6L598.7,54.6L598.4,55.7L599.1,56.2L600.2,55.9L601.4,56.3L603.0,55.9L604.6,55.9L606.4,55.3L606.3,54.2L607.4,53.6L608.7,53.9L608.5,53.1L608.0,52.5L611.3,52.3L612.9,52.0L611.9,51.5L609.4,51.7L607.6,52.0L606.5,51.3L606.6,49.6L609.4,48.2L608.9,47.7L607.1,47.7L606.4,48.8L604.8,49.6L603.8,50.2L603.6,51.2L604.7,51.9L604.1,52.7L603.0,54.0L602.5,54.7L601.4,55.2L600.4,55.1L600.2,54.4L599.7,53.3L599.2,52.5L598.0,52.7L596.9,53.3L595.9,53.3L595.2,52.7L594.9,51.8L594.8,50.8L595.5,50.0L597.3,49.5L598.6,48.7L599.8,47.9L600.5,47.0L602.0,45.9L603.0,45.4L604.1,44.9L605.6,44.6L607.7,44.3L609.5,43.9L611.3,44.0L613.5,44.5L612.0,44.9L614.2,45.1L617.1,45.4L620.3,46.3L620.7,47.0L619.6,47.6L617.5,47.3L616.3,47.6L615.1,47.2L616.1,48.7L617.8,49.2L618.1,48.4L620.2,48.7L621.7,47.3L622.9,47.5L622.8,45.9L624.2,45.8L624.4,46.2L626.4,46.2L629.5,45.7L630.2,46.0L632.9,45.5L634.3,45.8L634.9,44.9L637.2,45.1L639.3,45.1L639.5,44.1L639.0,43.7L640.4,42.6L641.5,42.3L643.5,42.9L642.9,44.4L644.0,46.2L644.7,45.8L645.1,43.3L647.9,43.1L649.0,42.2L653.3,41.5L653.7,40.8L658.7,40.3L663.7,40.0L666.1,39.2L668.4,39.8L671.7,40.3L672.7,42.2L676.0,42.2L679.6,42.4L682.4,42.2L683.9,43.1L685.3,44.0L688.2,43.6L691.8,42.9L696.1,43.1L698.9,43.6L701.1,44.1L705.4,44.1L706.8,45.0L711.7,44.9L713.7,44.6L717.6,44.9L720.5,45.5L721.9,45.9L724.1,46.5L726.6,46.9L727.9,47.5L726.6,47.9L726.1,48.7L724.1,48.5L722.4,48.1L721.2,48.3L719.4,48.7L718.3,50.0L716.2,50.6L713.5,51.9L710.8,51.6L709.0,52.0L708.5,53.0L707.8,53.5L708.3,54.7L707.4,55.6L706.1,56.8L705.1,57.3L703.8,58.4L703.3,56.9L702.9,54.8L703.8,53.5L705.1,53.3L707.6,51.3L709.0,50.1L706.5,50.8L704.0,50.8L701.8,52.3L699.7,52.4L697.5,52.4L693.9,52.4L692.1,53.5L690.3,54.8L688.9,56.1L690.7,56.2L692.8,56.9L692.1,59.1L692.0,60.4L690.7,61.6L688.9,63.4L686.7,64.3L685.3,64.5L684.2,65.5L683.1,67.0L684.1,68.8L683.9,69.8L682.1,70.2L682.1,68.1L681.0,66.6L678.5,67.0L678.8,65.9L678.1,65.5L676.7,66.6L675.7,67.0L676.6,68.1L679.2,68.3L677.8,69.1L676.8,70.0L678.0,72.0L678.8,72.9L678.8,73.8L677.8,75.5L677.0,76.6L675.6,78.0L673.1,79.0L670.6,79.8L670.2,80.4L669.1,79.5L667.7,80.5L667.1,81.5L668.1,82.8L669.4,83.9L669.8,86.4L668.1,87.5L666.6,88.8L666.4,87.7L665.1,86.5L663.7,85.5L663.0,86.0L662.5,87.8L663.4,89.6L663.7,90.1L664.6,90.5L665.5,91.9L666.0,94.0L665.2,93.9L663.7,92.8L663.2,91.0L661.8,89.3L662.0,87.1L661.3,83.1L659.0,83.5L658.9,81.5L657.5,80.1L657.1,78.8L656.2,79.2L654.8,79.3L653.7,79.6L653.6,80.3L652.3,81.1L650.3,83.1L648.9,83.9L648.8,85.7L648.5,87.6L647.4,88.6L646.9,89.2L646.1,88.2L645.4,86.4L644.7,84.4L643.8,82.4L643.5,81.0L643.3,79.8L643.1,79.1L641.8,80.1L640.8,78.9L641.5,78.6L640.3,78.0L639.1,76.8L635.4,76.9L633.4,76.7L632.3,75.5L631.6,75.5L630.6,76.0L628.2,75.0L627.3,73.5L626.0,73.5L625.7,73.8L626.8,75.3L627.7,77.2L628.3,77.3L628.3,76.3L628.7,77.8L630.3,77.5L631.6,76.2L631.8,77.4L633.4,78.1L634.2,78.8L633.3,80.3L632.7,81.4L630.7,82.8L628.7,83.8L626.2,84.9L623.5,85.8L622.4,85.9L621.9,84.2L621.9,83.1L620.5,81.0L619.3,79.5L618.5,77.8L617.4,76.3L616.3,74.9L616.0,74.9L615.3,74.7L614.6,73.5L615.8,72.5L616.3,71.3L617.0,69.5L617.1,68.6L616.0,68.6L614.2,69.0L612.6,69.0L610.8,68.4L610.2,67.3L610.2,66.2L612.0,65.5L613.7,65.4L616.3,64.8L618.9,65.6L621.0,65.2L621.2,64.8L619.2,63.0L618.1,62.5L616.5,62.7L615.3,63.0L614.5,62.4L613.5,61.6L612.7,62.2L611.9,63.0L611.3,64.1L611.3,65.0L609.9,65.8L607.7,66.0L607.4,66.1L607.7,67.0L608.4,67.7L607.0,68.8L606.6,68.4L606.4,67.3L605.2,65.9L605.1,64.8L602.7,63.8L601.0,62.2L600.0,62.5L600.1,63.2L601.3,64.5L602.7,65.2L604.5,66.1L603.4,67.0L602.8,67.7L602.5,67.6L602.4,66.3L600.5,65.3L599.1,64.5L598.5,63.5L597.5,63.1L596.6,63.5L594.8,63.9L593.4,64.0L593.5,64.9L591.8,65.5L591.0,66.6L591.3,67.2L590.7,68.0L589.7,68.6L588.0,68.6ZM470.5,47.9L472.0,47.6L473.4,46.9L471.4,45.9L474.1,45.1L476.3,44.3L478.6,43.8L482.0,44.1L484.9,44.5L488.5,44.6L489.9,44.9L493.5,45.4L495.3,45.1L497.8,44.7L500.0,44.6L501.8,45.1L504.3,45.0L507.2,45.5L509.3,45.9L512.9,46.1L515.8,45.8L518.6,46.3L520.8,46.2L522.2,46.7L523.7,45.3L523.3,43.4L525.1,44.4L527.3,45.4L529.4,45.8L531.9,45.1L532.7,46.9L530.9,47.6L529.4,47.2L528.0,48.7L526.2,49.4L523.7,50.8L523.3,52.6L524.8,54.0L527.6,54.4L530.1,55.3L532.1,55.4L532.2,56.9L533.4,58.0L534.4,57.9L534.8,55.9L535.9,54.7L535.3,53.0L534.8,51.5L535.5,50.1L538.0,50.2L540.2,51.0L541.3,52.4L542.7,53.1L543.8,52.8L544.9,51.7L545.9,53.3L547.0,54.8L549.5,55.9L551.0,56.6L551.2,57.6L549.9,58.1L548.1,58.9L545.2,58.9L543.4,58.9L542.0,59.7L540.6,60.9L543.1,59.8L544.9,59.9L544.5,60.7L544.6,61.6L545.6,62.1L547.4,62.3L548.0,61.8L548.2,62.0L547.0,62.5L545.6,63.0L543.9,63.8L543.6,63.1L544.9,62.5L543.4,62.6L542.0,63.2L540.8,63.7L540.3,64.5L540.9,65.0L539.8,65.3L538.1,65.8L538.0,66.5L537.3,67.1L537.0,67.8L536.6,68.4L537.0,69.5L536.2,70.1L535.2,70.6L534.3,71.2L533.4,71.9L532.8,72.7L533.3,74.5L533.7,76.0L533.4,76.9L532.9,76.9L532.4,76.0L531.8,74.7L531.1,73.5L529.9,73.7L528.7,73.2L527.3,73.2L527.1,74.1L526.2,74.1L525.1,73.7L523.7,73.7L522.6,74.4L521.4,75.2L521.2,76.5L521.0,78.8L521.9,81.0L523.1,81.7L524.8,81.6L525.8,81.4L526.3,79.9L528.0,79.6L528.8,79.8L528.3,81.0L527.8,81.9L527.8,83.5L529.4,83.6L531.4,84.2L531.2,86.4L531.1,87.2L532.3,88.5L534.1,88.2L535.5,88.8L536.0,88.9L537.0,87.5L538.0,87.0L539.5,86.2L540.2,86.5L539.8,87.2L539.6,88.5L540.2,88.2L540.9,86.7L542.4,87.5L544.5,87.7L546.7,87.3L547.4,87.8L548.1,88.9L549.5,90.0L551.7,90.7L553.8,91.4L554.6,92.1L555.3,93.7L554.9,95.0L556.4,95.7L558.9,96.1L561.0,97.0L563.2,97.5L564.6,98.6L565.9,99.0L566.1,100.7L565.7,101.8L564.6,102.9L563.5,104.3L563.2,106.5L562.8,108.3L562.1,109.7L561.7,110.8L560.3,111.5L558.9,112.0L557.1,113.0L556.4,114.0L556.2,115.5L554.9,117.3L553.5,119.1L552.4,119.9L550.6,120.0L549.2,119.6L550.0,120.9L549.9,122.3L548.1,122.9L546.5,122.9L546.3,124.1L544.9,124.5L544.5,125.5L545.2,125.7L544.1,127.3L542.7,128.2L543.8,129.1L542.1,131.0L541.6,132.0L542.1,132.6L541.3,132.8L542.0,133.4L544.3,134.4L542.4,134.7L540.2,134.5L537.7,132.7L537.1,130.9L538.0,128.8L537.0,128.4L538.0,126.6L538.4,124.8L538.2,123.0L538.6,121.6L539.5,119.4L539.8,118.0L539.8,115.1L540.6,113.0L540.8,109.4L540.7,108.1L539.5,107.4L537.0,105.8L536.4,104.7L535.5,103.3L534.4,100.7L533.0,99.3L532.8,98.2L533.7,97.2L533.7,96.8L533.0,95.7L533.7,94.3L534.5,93.9L535.5,92.5L535.7,90.7L535.2,89.6L534.1,89.8L533.4,89.6L532.7,89.3L531.2,88.9L529.6,87.8L529.6,87.0L528.3,85.7L526.9,85.3L525.5,84.9L524.4,83.8L523.3,83.4L521.9,83.7L520.4,83.3L518.6,82.4L516.9,81.9L515.4,80.6L515.6,79.6L515.3,78.5L514.0,77.4L512.6,76.0L511.5,75.0L510.2,73.5L508.9,72.3L508.9,73.5L510.0,74.5L510.7,76.0L512.0,77.5L512.3,78.6L511.1,77.4L510.6,76.3L509.2,75.2L508.4,73.8L507.3,72.2L507.0,71.5L506.1,70.6L504.6,70.1L503.6,68.7L503.2,67.8L502.3,66.4L501.8,64.8L502.1,62.0L501.6,60.2L502.8,60.3L502.6,59.4L501.0,59.1L499.4,58.4L498.9,57.3L497.8,55.9L496.7,54.8L494.9,53.3L493.1,53.1L491.0,52.1L488.5,51.9L486.0,51.5L484.5,51.7L482.4,52.5L482.5,51.3L480.9,52.6L480.2,53.7L478.8,54.3L477.0,55.1L474.8,55.5L472.9,55.9L474.5,55.1L477.0,54.2L478.1,52.9L475.0,52.8L474.8,51.9L472.7,51.5L473.0,49.7L475.5,48.7L473.0,48.6L471.6,48.2ZM538.8,38.6L542.4,37.2L548.1,36.1L569.6,35.0L578.3,36.5L577.5,39.0L576.8,41.1L575.4,42.9L575.4,44.6L573.2,45.2L568.9,46.2L566.1,47.6L563.2,47.9L561.7,49.4L560.7,51.2L559.6,51.9L558.2,51.3L556.4,50.8L554.9,49.7L553.8,48.3L552.8,46.9L553.1,45.8L554.6,45.1L552.4,44.4L551.3,43.3L550.3,41.5L548.1,40.4L543.1,40.4L539.5,39.3ZM573.6,47.9L575.0,47.2L578.3,47.2L580.8,47.4L581.5,48.3L580.4,48.9L577.9,49.5L575.0,49.2ZM546.7,47.2L544.9,48.3L543.4,50.5L539.8,49.9L538.0,48.7L535.5,48.7L538.8,46.5L539.5,45.4L536.6,44.4L533.7,43.3L530.1,42.3L526.5,42.2L533.7,42.1L536.6,42.8L540.9,44.2L542.4,44.7L543.1,45.4L546.3,46.9ZM599.1,38.6L602.0,39.7L605.6,39.0L607.7,37.9L604.1,37.2L599.1,37.7ZM370.0,43.6L372.1,44.2L373.9,44.2L372.8,42.9L374.3,41.5L377.1,40.8L381.4,39.8L380.0,39.7L375.0,40.4L372.1,41.5L370.7,42.9ZM400.8,38.6L404.4,38.4L408.0,37.9L404.4,36.8L398.7,37.2ZM430.3,41.1L433.9,41.8L438.2,41.1L435.3,40.4L431.0,40.4ZM461.9,44.0L464.1,44.1L463.3,43.6L461.9,43.6ZM587.1,59.1L589.0,58.7L592.2,58.2L592.4,57.1L591.4,56.6L590.1,55.5L589.8,54.8L589.9,53.6L589.0,52.9L587.6,52.9L586.7,54.1L587.2,55.2L587.7,55.6L588.9,55.6L588.7,56.2L589.0,56.7L587.8,57.1L588.2,57.9L587.4,57.9L588.7,58.1ZM586.9,57.6L586.7,56.4L587.2,55.9L586.5,55.3L585.1,55.3L584.0,56.2L583.8,57.6L585.5,57.9ZM530.2,79.3L531.9,78.7L533.7,78.4L535.9,79.4L537.9,80.5L535.5,80.7L535.2,80.2L533.0,79.5L530.9,79.3ZM537.8,81.7L539.0,80.7L541.3,80.9L542.1,81.6L539.8,82.4ZM535.0,81.8L536.5,81.9L536.0,82.2L535.0,81.9ZM542.9,81.7L544.1,81.8L544.0,82.1L542.9,82.1ZM548.5,60.8L551.0,59.4L551.3,57.9L552.8,59.4L553.4,60.9L552.8,61.5L551.0,60.8ZM499.0,58.5L501.4,58.9L502.6,60.2L501.4,59.9L499.6,59.1ZM414.1,110.8L414.6,113.7L415.1,116.2L415.2,119.1L415.6,119.7L417.4,120.1L419.5,119.4L421.3,119.4L423.1,118.2L425.3,117.8L426.8,117.6L428.7,118.1L430.1,120.1L430.7,119.1L431.6,118.7L431.4,120.5L432.1,120.1L432.9,121.3L433.6,122.3L435.7,122.9L436.8,122.5L437.7,123.1L438.6,122.3L440.3,121.9L440.5,120.5L441.3,119.2L442.1,118.0L442.9,115.5L442.6,113.3L441.3,112.2L440.3,111.0L439.4,109.6L437.7,108.6L437.0,106.5L437.0,105.6L435.7,105.1L435.0,102.7L434.3,104.3L434.2,106.1L433.7,107.6L432.6,107.4L430.7,106.1L429.9,105.6L430.9,103.8L430.3,103.5L427.8,103.3L426.7,103.8L425.6,105.6L424.5,105.4L423.5,105.1L422.0,106.8L420.4,107.6L419.9,109.0L417.7,109.6L416.3,109.9L414.9,110.7ZM436.5,124.2L439.1,124.4L438.9,126.0L437.5,126.3L436.9,125.2ZM456.7,119.7L457.9,120.5L459.0,121.8L460.8,122.1L460.4,123.2L459.6,123.6L458.5,124.9L458.0,124.7L458.3,123.7L457.4,123.2L458.0,122.3L457.8,121.2ZM456.7,124.1L457.8,125.0L457.1,126.1L455.6,126.8L455.1,128.0L454.0,128.5L452.2,128.0L452.3,127.3L453.5,126.6L455.1,125.8L455.8,125.0ZM401.1,91.0L402.6,91.3L404.6,93.4L407.2,95.7L408.7,97.2L408.6,99.2L407.7,99.2L406.1,97.9L405.0,96.4L404.1,95.0L403.4,93.6L401.9,92.3ZM408.2,99.9L409.1,99.3L410.4,99.5L412.0,100.0L413.6,100.0L414.8,100.5L414.8,101.2L412.3,100.9L410.2,100.6L408.4,100.0ZM415.2,100.9L418.1,101.0L420.2,101.0L422.4,100.8L423.8,101.0L422.4,101.8L421.3,102.4L419.5,101.9L417.4,101.5L415.2,101.4ZM410.9,93.9L411.3,93.6L412.3,93.9L413.8,92.7L415.4,91.3L416.5,90.0L418.2,91.3L417.4,91.9L417.2,94.3L418.1,94.4L417.0,95.6L416.3,96.8L415.9,97.7L414.8,97.9L413.8,97.2L412.3,97.2L411.6,96.2L410.9,95.2ZM418.4,99.0L419.1,99.0L419.0,97.0L419.5,96.9L419.7,98.4L420.8,98.4L419.9,96.3L421.2,95.6L420.6,95.4L419.2,95.7L419.0,94.6L421.0,94.6L422.3,93.9L422.0,94.7L418.8,94.4L418.7,95.6L417.9,96.9ZM424.2,93.6L424.9,93.9L424.5,94.6L425.0,95.4L424.2,95.6L424.0,94.4ZM426.7,96.1L427.8,95.3L429.2,95.7L429.9,97.3L431.7,96.2L433.9,96.9L436.4,97.7L437.5,99.0L438.6,99.5L439.3,101.1L440.7,102.5L440.0,102.4L438.6,102.3L437.5,100.9L436.0,100.5L435.6,101.5L435.0,101.7L433.9,101.5L432.8,100.8L431.8,101.0L431.5,98.7L429.6,98.2L428.1,97.9L427.4,97.0L428.5,96.6L427.6,96.5ZM439.3,99.0L440.7,99.0L441.8,98.0L441.4,99.0L439.6,99.5ZM419.2,81.7L420.4,81.7L420.5,83.1L419.9,83.7L420.0,84.8L421.7,85.1L421.8,85.9L420.8,85.7L419.5,85.1L419.2,84.6L418.7,83.5ZM420.2,90.0L421.3,89.5L422.7,88.2L423.5,89.3L423.3,90.5L422.6,91.0L421.7,90.5ZM420.2,86.5L421.3,87.5L422.4,86.7L422.9,86.0L422.0,86.0L421.0,87.8L420.2,87.5ZM416.8,89.0L418.4,86.8L418.2,87.6L417.0,89.1ZM418.9,78.5L419.5,76.9L420.2,77.0L419.4,79.2ZM410.6,81.2L412.0,80.6L412.3,80.9L411.3,81.9ZM426.6,70.6L427.8,69.6L429.9,69.4L430.9,68.2L432.1,68.1L433.2,66.6L433.2,65.3L434.2,65.3L434.6,66.6L433.9,67.5L433.8,68.8L433.4,69.8L432.4,69.9L430.9,70.4L429.6,70.8L429.2,70.1L427.8,70.6ZM433.2,65.2L433.2,63.9L434.4,62.4L436.0,63.2L437.0,63.9L435.5,64.8L433.9,64.6ZM425.8,70.9L426.7,70.6L427.4,71.3L426.8,72.6L426.1,72.6L425.8,71.4ZM427.8,71.3L429.4,70.6L429.0,71.1L428.1,71.5ZM434.6,62.0L435.7,61.5L435.3,59.4L436.4,59.8L435.5,58.0L435.2,56.0L434.7,56.2L434.7,58.4L434.5,60.2ZM390.0,88.0L390.9,88.8L391.4,89.8L391.0,90.5L390.2,90.7L389.9,89.6ZM368.0,103.6L368.9,106.1L368.2,107.6L367.4,109.7L366.7,112.2L366.4,113.0L365.1,113.3L364.2,112.7L363.7,110.8L364.4,109.4L364.2,107.2L365.6,106.3L366.7,105.4L367.7,104.3ZM450.4,109.5L452.6,111.0L452.2,111.1L450.5,109.9ZM460.0,107.6L460.9,107.4L460.7,108.1L460.0,108.0ZM479.1,80.5L480.0,81.0L479.2,81.4L479.1,80.8ZM203.3,151.0L210.5,151.0L217.7,150.3L224.8,149.2L232.0,148.7L239.2,148.0L242.8,146.9L250.0,146.9L257.9,146.7L262.2,147.8L267.9,148.2L273.7,147.8L278.7,146.4L282.3,144.6L285.9,142.4L289.5,141.0L291.7,140.4L290.9,141.3L288.8,142.8L287.3,144.6L288.1,146.7L289.5,149.6L296.7,151.0L307.5,151.0L314.6,149.6L320.4,146.1L325.4,146.0L332.6,145.9L339.8,145.9L347.0,145.6L350.6,145.1L355.6,144.6L361.9,143.1L368.5,142.8L375.7,142.6L380.0,143.1L381.4,145.3L382.9,146.4L384.3,144.6L387.2,143.1L393.7,142.4L400.8,141.8L407.3,141.4L415.2,141.8L422.4,142.1L429.6,142.3L435.8,142.6L440.3,143.1L446.1,143.8L449.0,144.4L451.8,145.4L455.4,146.7L456.6,149.6L456.2,151.0L461.9,151.0L461.9,159.6L203.3,159.6ZM461.9,151.0L469.1,151.0L476.3,150.3L483.4,149.2L490.6,148.7L497.8,148.0L501.4,146.9L508.6,146.9L516.5,146.7L520.8,147.8L526.5,148.2L532.3,147.8L537.3,146.4L540.9,144.6L544.5,142.4L548.1,141.0L550.3,140.4L549.5,141.3L547.4,142.8L545.9,144.6L546.7,146.7L548.1,149.6L555.3,151.0L566.1,151.0L573.2,149.6L579.0,146.1L584.0,146.0L591.2,145.9L598.4,145.9L605.6,145.6L609.2,145.1L614.2,144.6L620.5,143.1L627.1,142.8L634.3,142.6L638.6,143.1L640.0,145.3L641.5,146.4L642.9,144.6L645.8,143.1L652.3,142.4L659.4,141.8L665.9,141.4L673.8,141.8L681.0,142.1L688.2,142.3L694.3,142.6L698.9,143.1L704.7,143.8L707.6,144.4L710.4,145.4L714.0,146.7L715.2,149.6L714.8,151.0L720.5,151.0L720.5,159.6L461.9,159.6Z" fill="#858585" stroke="#000" stroke-width="0.85" stroke-linejoin="round"/><path d="M366.4,62.3L367.8,61.6L369.6,61.2L370.7,62.3L369.2,63.0L369.6,64.5L370.7,64.8L371.4,66.3L370.7,68.1L369.2,68.6L367.8,68.1L368.2,65.9L367.1,64.8L366.7,63.8Z" fill="none" stroke="#000" stroke-width="0.7"/><path d="M243.5,41.6L250.0,41.6L257.2,41.4L264.4,41.6L269.4,41.6M502.1,41.6L508.6,41.6L515.8,41.4L523.0,41.6L528.0,41.6M247.8,42.9L252.1,43.3L257.9,43.6M506.4,42.9L510.7,43.3L516.5,43.6M260.8,42.9L263.6,42.6L266.5,43.3M519.4,42.9L522.2,42.6L525.1,43.3M252.1,40.4L257.2,40.2L262.2,39.8M510.7,40.4L515.8,40.2L520.8,39.8M264.4,40.0L267.9,39.3L273.7,39.1L276.6,38.6M523.0,40.0L526.5,39.3L532.3,39.1L535.2,38.6M247.8,44.4L253.6,44.5L259.3,45.1M506.4,44.4L512.2,44.5L517.9,45.1M271.5,44.4L273.7,43.6L276.6,43.1M530.1,44.4L532.3,43.6L535.2,43.1M267.9,38.3L275.1,37.4L280.9,37.0M526.5,38.3L533.7,37.4L539.5,37.0" fill="none" stroke="#000" stroke-width="0.6"/><path d="M375.70,37.2V148.2M418.80,37.2V148.2M461.90,37.2V148.2M505.00,37.2V148.2M548.10,37.2V148.2M591.20,37.2V148.2M350.59999999999997,51.90H609.3M350.59999999999997,66.27H609.3M350.59999999999997,80.63H609.3M350.59999999999997,95.00H609.3M350.59999999999997,109.37H609.3M350.59999999999997,123.73H609.3M350.59999999999997,138.10H609.3" stroke="#000" stroke-width="1" opacity="0.6" fill="none"/></g><rect x="350.59999999999997" y="37.2" width="258.7" height="111.0" fill="none" stroke="#000" stroke-width="1.1"/><rect x="612.60" y="37.20" width="5.47" height="4.85" fill="#f1ecea"/><rect x="618.02" y="37.20" width="5.47" height="4.85" fill="#f1ecea"/><rect x="623.43" y="37.20" width="5.47" height="4.85" fill="#f1ecea"/><rect x="628.85" y="37.20" width="5.47" height="4.85" fill="#f1ecea"/><rect x="634.27" y="37.20" width="5.47" height="4.85" fill="#f1ecea"/><rect x="639.68" y="37.20" width="5.47" height="4.85" fill="#f1ecea"/><rect x="645.10" y="37.20" width="5.47" height="4.85" fill="#f1ecea"/><rect x="650.52" y="37.20" width="5.47" height="4.85" fill="#f1ecea"/><rect x="655.93" y="37.20" width="5.47" height="4.85" fill="#f1ecea"/><rect x="661.35" y="37.20" width="5.47" height="4.85" fill="#cbd7da"/><rect x="666.77" y="37.20" width="5.47" height="4.85" fill="#f1ecea"/><rect x="672.18" y="37.20" width="5.47" height="4.85" fill="#f1ecea"/><rect x="612.60" y="42.00" width="5.47" height="2.05" fill="#f1ecea"/><rect x="618.02" y="42.00" width="5.47" height="2.05" fill="#f1ecea"/><rect x="623.43" y="42.00" width="5.47" height="2.05" fill="#f1ecea"/><rect x="628.85" y="42.00" width="5.47" height="2.05" fill="#f1ecea"/><rect x="634.27" y="42.00" width="5.47" height="2.05" fill="#cbd7da"/><rect x="639.68" y="42.00" width="5.47" height="2.05" fill="#cbd7da"/><rect x="645.10" y="42.00" width="5.47" height="2.05" fill="#f1ecea"/><rect x="650.52" y="42.00" width="5.47" height="2.05" fill="#f1ecea"/><rect x="655.93" y="42.00" width="5.47" height="2.05" fill="#dee2e2"/><rect x="661.35" y="42.00" width="5.47" height="2.05" fill="#dee2e2"/><rect x="666.77" y="42.00" width="5.47" height="2.05" fill="#b6ccd1"/><rect x="672.18" y="42.00" width="5.47" height="2.05" fill="#f1ecea"/><rect x="612.60" y="44.00" width="5.47" height="2.05" fill="#d6dddf"/><rect x="618.02" y="44.00" width="5.47" height="2.05" fill="#d6dddf"/><rect x="623.43" y="44.00" width="5.47" height="2.05" fill="#f1ecea"/><rect x="628.85" y="44.00" width="5.47" height="2.05" fill="#f1ecea"/><rect x="634.27" y="44.00" width="5.47" height="2.05" fill="#3d86b7"/><rect x="639.68" y="44.00" width="5.47" height="2.05" fill="#cbd7da"/><rect x="645.10" y="44.00" width="5.47" height="2.05" fill="#f1ecea"/><rect x="650.52" y="44.00" width="5.47" height="2.05" fill="#f1ecea"/><rect x="655.93" y="44.00" width="5.47" height="2.05" fill="#f1ecea"/><rect x="661.35" y="44.00" width="5.47" height="2.05" fill="#f1ecea"/><rect x="666.77" y="44.00" width="5.47" height="2.05" fill="#b6ccd1"/><rect x="672.18" y="44.00" width="5.47" height="2.05" fill="#f1ecea"/><rect x="612.60" y="46.00" width="5.47" height="2.05" fill="#f1ecea"/><rect x="618.02" y="46.00" width="5.47" height="2.05" fill="#f1ecea"/><rect x="623.43" y="46.00" width="5.47" height="2.05" fill="#f1ecea"/><rect x="628.85" y="46.00" width="5.47" height="2.05" fill="#cbd7da"/><rect x="634.27" y="46.00" width="5.47" height="2.05" fill="#f1ecea"/><rect x="639.68" y="46.00" width="5.47" height="2.05" fill="#f1ecea"/><rect x="645.10" y="46.00" width="5.47" height="2.05" fill="#f1ecea"/><rect x="650.52" y="46.00" width="5.47" height="2.05" fill="#f1ecea"/><rect x="655.93" y="46.00" width="5.47" height="2.05" fill="#f1ecea"/><rect x="661.35" y="46.00" width="5.47" height="2.05" fill="#f1ecea"/><rect x="666.77" y="46.00" width="5.47" height="2.05" fill="#f1ecea"/><rect x="672.18" y="46.00" width="5.47" height="2.05" fill="#f1ecea"/><rect x="612.60" y="48.00" width="5.47" height="3.85" fill="#f1ecea"/><rect x="618.02" y="48.00" width="5.47" height="3.85" fill="#f1ecea"/><rect x="623.43" y="48.00" width="5.47" height="3.85" fill="#f1ecea"/><rect x="628.85" y="48.00" width="5.47" height="3.85" fill="#f1ecea"/><rect x="634.27" y="48.00" width="5.47" height="3.85" fill="#f1ecea"/><rect x="639.68" y="48.00" width="5.47" height="3.85" fill="#f1ecea"/><rect x="645.10" y="48.00" width="5.47" height="3.85" fill="#f1ecea"/><rect x="650.52" y="48.00" width="5.47" height="3.85" fill="#f1ecea"/><rect x="655.93" y="48.00" width="5.47" height="3.85" fill="#f1ecea"/><rect x="661.35" y="48.00" width="5.47" height="3.85" fill="#f1ecea"/><rect x="666.77" y="48.00" width="5.47" height="3.85" fill="#f1ecea"/><rect x="672.18" y="48.00" width="5.47" height="3.85" fill="#f1ecea"/><rect x="612.60" y="51.80" width="5.47" height="1.75" fill="#cbd7da"/><rect x="618.02" y="51.80" width="5.47" height="1.75" fill="#cbd7da"/><rect x="623.43" y="51.80" width="5.47" height="1.75" fill="#cbd7da"/><rect x="628.85" y="51.80" width="5.47" height="1.75" fill="#a0c0c8"/><rect x="634.27" y="51.80" width="5.47" height="1.75" fill="#f1ecea"/><rect x="639.68" y="51.80" width="5.47" height="1.75" fill="#f1ecea"/><rect x="645.10" y="51.80" width="5.47" height="1.75" fill="#f1ecea"/><rect x="650.52" y="51.80" width="5.47" height="1.75" fill="#f1ecea"/><rect x="655.93" y="51.80" width="5.47" height="1.75" fill="#f1ecea"/><rect x="661.35" y="51.80" width="5.47" height="1.75" fill="#f1ecea"/><rect x="666.77" y="51.80" width="5.47" height="1.75" fill="#f1ecea"/><rect x="672.18" y="51.80" width="5.47" height="1.75" fill="#f1ecea"/><rect x="612.60" y="53.50" width="5.47" height="1.55" fill="#cbd7da"/><rect x="618.02" y="53.50" width="5.47" height="1.55" fill="#a0c0c8"/><rect x="623.43" y="53.50" width="5.47" height="1.55" fill="#cbd7da"/><rect x="628.85" y="53.50" width="5.47" height="1.55" fill="#3d86b7"/><rect x="634.27" y="53.50" width="5.47" height="1.55" fill="#dee2e2"/><rect x="639.68" y="53.50" width="5.47" height="1.55" fill="#dee2e2"/><rect x="645.10" y="53.50" width="5.47" height="1.55" fill="#f1ecea"/><rect x="650.52" y="53.50" width="5.47" height="1.55" fill="#f1ecea"/><rect x="655.93" y="53.50" width="5.47" height="1.55" fill="#f1ecea"/><rect x="661.35" y="53.50" width="5.47" height="1.55" fill="#f1ecea"/><rect x="666.77" y="53.50" width="5.47" height="1.55" fill="#f1ecea"/><rect x="672.18" y="53.50" width="5.47" height="1.55" fill="#f1ecea"/><rect x="612.60" y="55.00" width="5.47" height="3.05" fill="#206fbb"/><rect x="618.02" y="55.00" width="5.47" height="3.05" fill="#206fbb"/><rect x="623.43" y="55.00" width="5.47" height="3.05" fill="#185ac0"/><rect x="628.85" y="55.00" width="5.47" height="3.05" fill="#206fbb"/><rect x="634.27" y="55.00" width="5.47" height="3.05" fill="#cbd7da"/><rect x="639.68" y="55.00" width="5.47" height="3.05" fill="#cbd7da"/><rect x="645.10" y="55.00" width="5.47" height="3.05" fill="#dee2e2"/><rect x="650.52" y="55.00" width="5.47" height="3.05" fill="#cbd7da"/><rect x="655.93" y="55.00" width="5.47" height="3.05" fill="#dee2e2"/><rect x="661.35" y="55.00" width="5.47" height="3.05" fill="#cbd7da"/><rect x="666.77" y="55.00" width="5.47" height="3.05" fill="#cbd7da"/><rect x="672.18" y="55.00" width="5.47" height="3.05" fill="#cbd7da"/><rect x="612.60" y="58.00" width="5.47" height="4.05" fill="#6aa1bc"/><rect x="618.02" y="58.00" width="5.47" height="4.05" fill="#6aa1bc"/><rect x="623.43" y="58.00" width="5.47" height="4.05" fill="#232a76"/><rect x="628.85" y="58.00" width="5.47" height="4.05" fill="#206fbb"/><rect x="634.27" y="58.00" width="5.47" height="4.05" fill="#cbd7da"/><rect x="639.68" y="58.00" width="5.47" height="4.05" fill="#cbd7da"/><rect x="645.10" y="58.00" width="5.47" height="4.05" fill="#dee2e2"/><rect x="650.52" y="58.00" width="5.47" height="4.05" fill="#dee2e2"/><rect x="655.93" y="58.00" width="5.47" height="4.05" fill="#dee2e2"/><rect x="661.35" y="58.00" width="5.47" height="4.05" fill="#cbd7da"/><rect x="666.77" y="58.00" width="5.47" height="4.05" fill="#cbd7da"/><rect x="672.18" y="58.00" width="5.47" height="4.05" fill="#a0c0c8"/><rect x="612.60" y="62.00" width="5.47" height="4.25" fill="#a0c0c8"/><rect x="618.02" y="62.00" width="5.47" height="4.25" fill="#a0c0c8"/><rect x="623.43" y="62.00" width="5.47" height="4.25" fill="#3d86b7"/><rect x="628.85" y="62.00" width="5.47" height="4.25" fill="#206fbb"/><rect x="634.27" y="62.00" width="5.47" height="4.25" fill="#dee2e2"/><rect x="639.68" y="62.00" width="5.47" height="4.25" fill="#dee2e2"/><rect x="645.10" y="62.00" width="5.47" height="4.25" fill="#dee2e2"/><rect x="650.52" y="62.00" width="5.47" height="4.25" fill="#dee2e2"/><rect x="655.93" y="62.00" width="5.47" height="4.25" fill="#dee2e2"/><rect x="661.35" y="62.00" width="5.47" height="4.25" fill="#dee2e2"/><rect x="666.77" y="62.00" width="5.47" height="4.25" fill="#dee2e2"/><rect x="672.18" y="62.00" width="5.47" height="4.25" fill="#cbd7da"/><rect x="612.60" y="66.20" width="5.47" height="5.85" fill="#cbd7da"/><rect x="618.02" y="66.20" width="5.47" height="5.85" fill="#cbd7da"/><rect x="623.43" y="66.20" width="5.47" height="5.85" fill="#cbd7da"/><rect x="628.85" y="66.20" width="5.47" height="5.85" fill="#d6dddf"/><rect x="634.27" y="66.20" width="5.47" height="5.85" fill="#f1ecea"/><rect x="639.68" y="66.20" width="5.47" height="5.85" fill="#f1ecea"/><rect x="645.10" y="66.20" width="5.47" height="5.85" fill="#f1ecea"/><rect x="650.52" y="66.20" width="5.47" height="5.85" fill="#f1ecea"/><rect x="655.93" y="66.20" width="5.47" height="5.85" fill="#f1ecea"/><rect x="661.35" y="66.20" width="5.47" height="5.85" fill="#f1ecea"/><rect x="666.77" y="66.20" width="5.47" height="5.85" fill="#f1ecea"/><rect x="672.18" y="66.20" width="5.47" height="5.85" fill="#f1ecea"/><rect x="612.60" y="72.00" width="5.47" height="4.05" fill="#f1ecea"/><rect x="618.02" y="72.00" width="5.47" height="4.05" fill="#f1ecea"/><rect x="623.43" y="72.00" width="5.47" height="4.05" fill="#f1ecea"/><rect x="628.85" y="72.00" width="5.47" height="4.05" fill="#f1ecea"/><rect x="634.27" y="72.00" width="5.47" height="4.05" fill="#f1ecea"/><rect x="639.68" y="72.00" width="5.47" height="4.05" fill="#f1ecea"/><rect x="645.10" y="72.00" width="5.47" height="4.05" fill="#f1ecea"/><rect x="650.52" y="72.00" width="5.47" height="4.05" fill="#f1ecea"/><rect x="655.93" y="72.00" width="5.47" height="4.05" fill="#f1ecea"/><rect x="661.35" y="72.00" width="5.47" height="4.05" fill="#f1ecea"/><rect x="666.77" y="72.00" width="5.47" height="4.05" fill="#f1ecea"/><rect x="672.18" y="72.00" width="5.47" height="4.05" fill="#f1ecea"/><rect x="612.60" y="76.00" width="5.47" height="4.65" fill="#f1ecea"/><rect x="618.02" y="76.00" width="5.47" height="4.65" fill="#f1ecea"/><rect x="623.43" y="76.00" width="5.47" height="4.65" fill="#cbd7da"/><rect x="628.85" y="76.00" width="5.47" height="4.65" fill="#f1ecea"/><rect x="634.27" y="76.00" width="5.47" height="4.65" fill="#f1ecea"/><rect x="639.68" y="76.00" width="5.47" height="4.65" fill="#f1ecea"/><rect x="645.10" y="76.00" width="5.47" height="4.65" fill="#f1ecea"/><rect x="650.52" y="76.00" width="5.47" height="4.65" fill="#f1ecea"/><rect x="655.93" y="76.00" width="5.47" height="4.65" fill="#f1ecea"/><rect x="661.35" y="76.00" width="5.47" height="4.65" fill="#f1ecea"/><rect x="666.77" y="76.00" width="5.47" height="4.65" fill="#f1ecea"/><rect x="672.18" y="76.00" width="5.47" height="4.65" fill="#f1ecea"/><rect x="612.60" y="80.60" width="5.47" height="5.45" fill="#dee2e2"/><rect x="618.02" y="80.60" width="5.47" height="5.45" fill="#dee2e2"/><rect x="623.43" y="80.60" width="5.47" height="5.45" fill="#dee2e2"/><rect x="628.85" y="80.60" width="5.47" height="5.45" fill="#dee2e2"/><rect x="634.27" y="80.60" width="5.47" height="5.45" fill="#dee2e2"/><rect x="639.68" y="80.60" width="5.47" height="5.45" fill="#dee2e2"/><rect x="645.10" y="80.60" width="5.47" height="5.45" fill="#dee2e2"/><rect x="650.52" y="80.60" width="5.47" height="5.45" fill="#dee2e2"/><rect x="655.93" y="80.60" width="5.47" height="5.45" fill="#dee2e2"/><rect x="661.35" y="80.60" width="5.47" height="5.45" fill="#dee2e2"/><rect x="666.77" y="80.60" width="5.47" height="5.45" fill="#dee2e2"/><rect x="672.18" y="80.60" width="5.47" height="5.45" fill="#dee2e2"/><rect x="612.60" y="86.00" width="5.47" height="8.95" fill="#cbd7da"/><rect x="618.02" y="86.00" width="5.47" height="8.95" fill="#b6ccd1"/><rect x="623.43" y="86.00" width="5.47" height="8.95" fill="#cbd7da"/><rect x="628.85" y="86.00" width="5.47" height="8.95" fill="#cbd7da"/><rect x="634.27" y="86.00" width="5.47" height="8.95" fill="#cbd7da"/><rect x="639.68" y="86.00" width="5.47" height="8.95" fill="#cbd7da"/><rect x="645.10" y="86.00" width="5.47" height="8.95" fill="#a0c0c8"/><rect x="650.52" y="86.00" width="5.47" height="8.95" fill="#a0c0c8"/><rect x="655.93" y="86.00" width="5.47" height="8.95" fill="#cbd7da"/><rect x="661.35" y="86.00" width="5.47" height="8.95" fill="#cbd7da"/><rect x="666.77" y="86.00" width="5.47" height="8.95" fill="#cbd7da"/><rect x="672.18" y="86.00" width="5.47" height="8.95" fill="#cbd7da"/><rect x="612.60" y="94.90" width="5.47" height="4.15" fill="#b6ccd1"/><rect x="618.02" y="94.90" width="5.47" height="4.15" fill="#b6ccd1"/><rect x="623.43" y="94.90" width="5.47" height="4.15" fill="#cbd7da"/><rect x="628.85" y="94.90" width="5.47" height="4.15" fill="#cbd7da"/><rect x="634.27" y="94.90" width="5.47" height="4.15" fill="#b6ccd1"/><rect x="639.68" y="94.90" width="5.47" height="4.15" fill="#b6ccd1"/><rect x="645.10" y="94.90" width="5.47" height="4.15" fill="#a0c0c8"/><rect x="650.52" y="94.90" width="5.47" height="4.15" fill="#b6ccd1"/><rect x="655.93" y="94.90" width="5.47" height="4.15" fill="#cbd7da"/><rect x="661.35" y="94.90" width="5.47" height="4.15" fill="#b6ccd1"/><rect x="666.77" y="94.90" width="5.47" height="4.15" fill="#b6ccd1"/><rect x="672.18" y="94.90" width="5.47" height="4.15" fill="#a0c0c8"/><rect x="612.60" y="99.00" width="5.47" height="4.05" fill="#b6ccd1"/><rect x="618.02" y="99.00" width="5.47" height="4.05" fill="#b6ccd1"/><rect x="623.43" y="99.00" width="5.47" height="4.05" fill="#cbd7da"/><rect x="628.85" y="99.00" width="5.47" height="4.05" fill="#cbd7da"/><rect x="634.27" y="99.00" width="5.47" height="4.05" fill="#b6ccd1"/><rect x="639.68" y="99.00" width="5.47" height="4.05" fill="#b6ccd1"/><rect x="645.10" y="99.00" width="5.47" height="4.05" fill="#6aa1bc"/><rect x="650.52" y="99.00" width="5.47" height="4.05" fill="#6aa1bc"/><rect x="655.93" y="99.00" width="5.47" height="4.05" fill="#3d86b7"/><rect x="661.35" y="99.00" width="5.47" height="4.05" fill="#a0c0c8"/><rect x="666.77" y="99.00" width="5.47" height="4.05" fill="#a0c0c8"/><rect x="672.18" y="99.00" width="5.47" height="4.05" fill="#b6ccd1"/><rect x="612.60" y="103.00" width="5.47" height="6.35" fill="#dee2e2"/><rect x="618.02" y="103.00" width="5.47" height="6.35" fill="#dee2e2"/><rect x="623.43" y="103.00" width="5.47" height="6.35" fill="#dee2e2"/><rect x="628.85" y="103.00" width="5.47" height="6.35" fill="#dee2e2"/><rect x="634.27" y="103.00" width="5.47" height="6.35" fill="#dee2e2"/><rect x="639.68" y="103.00" width="5.47" height="6.35" fill="#dee2e2"/><rect x="645.10" y="103.00" width="5.47" height="6.35" fill="#cbd7da"/><rect x="650.52" y="103.00" width="5.47" height="6.35" fill="#b6ccd1"/><rect x="655.93" y="103.00" width="5.47" height="6.35" fill="#b6ccd1"/><rect x="661.35" y="103.00" width="5.47" height="6.35" fill="#dee2e2"/><rect x="666.77" y="103.00" width="5.47" height="6.35" fill="#dee2e2"/><rect x="672.18" y="103.00" width="5.47" height="6.35" fill="#dee2e2"/><rect x="612.60" y="109.30" width="5.47" height="3.75" fill="#f1ecea"/><rect x="618.02" y="109.30" width="5.47" height="3.75" fill="#f1ecea"/><rect x="623.43" y="109.30" width="5.47" height="3.75" fill="#f1ecea"/><rect x="628.85" y="109.30" width="5.47" height="3.75" fill="#f1ecea"/><rect x="634.27" y="109.30" width="5.47" height="3.75" fill="#f1ecea"/><rect x="639.68" y="109.30" width="5.47" height="3.75" fill="#f1ecea"/><rect x="645.10" y="109.30" width="5.47" height="3.75" fill="#b6ccd1"/><rect x="650.52" y="109.30" width="5.47" height="3.75" fill="#6aa1bc"/><rect x="655.93" y="109.30" width="5.47" height="3.75" fill="#84b0c1"/><rect x="661.35" y="109.30" width="5.47" height="3.75" fill="#dee2e2"/><rect x="666.77" y="109.30" width="5.47" height="3.75" fill="#f1ecea"/><rect x="672.18" y="109.30" width="5.47" height="3.75" fill="#f1ecea"/><rect x="612.60" y="113.00" width="5.47" height="10.65" fill="#f1ecea"/><rect x="618.02" y="113.00" width="5.47" height="10.65" fill="#f1ecea"/><rect x="623.43" y="113.00" width="5.47" height="10.65" fill="#f1ecea"/><rect x="628.85" y="113.00" width="5.47" height="10.65" fill="#f1ecea"/><rect x="634.27" y="113.00" width="5.47" height="10.65" fill="#f1ecea"/><rect x="639.68" y="113.00" width="5.47" height="10.65" fill="#f1ecea"/><rect x="645.10" y="113.00" width="5.47" height="10.65" fill="#cbd7da"/><rect x="650.52" y="113.00" width="5.47" height="10.65" fill="#a0c0c8"/><rect x="655.93" y="113.00" width="5.47" height="10.65" fill="#a0c0c8"/><rect x="661.35" y="113.00" width="5.47" height="10.65" fill="#f1ecea"/><rect x="666.77" y="113.00" width="5.47" height="10.65" fill="#f1ecea"/><rect x="672.18" y="113.00" width="5.47" height="10.65" fill="#f1ecea"/><rect x="612.60" y="123.60" width="5.47" height="4.45" fill="#f1ecea"/><rect x="618.02" y="123.60" width="5.47" height="4.45" fill="#f1ecea"/><rect x="623.43" y="123.60" width="5.47" height="4.45" fill="#f1ecea"/><rect x="628.85" y="123.60" width="5.47" height="4.45" fill="#f1ecea"/><rect x="634.27" y="123.60" width="5.47" height="4.45" fill="#f1ecea"/><rect x="639.68" y="123.60" width="5.47" height="4.45" fill="#f1ecea"/><rect x="645.10" y="123.60" width="5.47" height="4.45" fill="#dee2e2"/><rect x="650.52" y="123.60" width="5.47" height="4.45" fill="#cbd7da"/><rect x="655.93" y="123.60" width="5.47" height="4.45" fill="#cbd7da"/><rect x="661.35" y="123.60" width="5.47" height="4.45" fill="#f1ecea"/><rect x="666.77" y="123.60" width="5.47" height="4.45" fill="#f1ecea"/><rect x="672.18" y="123.60" width="5.47" height="4.45" fill="#f1ecea"/><rect x="612.60" y="128.00" width="5.47" height="4.05" fill="#dee2e2"/><rect x="618.02" y="128.00" width="5.47" height="4.05" fill="#dee2e2"/><rect x="623.43" y="128.00" width="5.47" height="4.05" fill="#dee2e2"/><rect x="628.85" y="128.00" width="5.47" height="4.05" fill="#f1ecea"/><rect x="634.27" y="128.00" width="5.47" height="4.05" fill="#f1ecea"/><rect x="639.68" y="128.00" width="5.47" height="4.05" fill="#f1ecea"/><rect x="645.10" y="128.00" width="5.47" height="4.05" fill="#cbd7da"/><rect x="650.52" y="128.00" width="5.47" height="4.05" fill="#b6ccd1"/><rect x="655.93" y="128.00" width="5.47" height="4.05" fill="#a0c0c8"/><rect x="661.35" y="128.00" width="5.47" height="4.05" fill="#cbd7da"/><rect x="666.77" y="128.00" width="5.47" height="4.05" fill="#f1ecea"/><rect x="672.18" y="128.00" width="5.47" height="4.05" fill="#f1ecea"/><rect x="612.60" y="132.00" width="5.47" height="3.05" fill="#dee2e2"/><rect x="618.02" y="132.00" width="5.47" height="3.05" fill="#dee2e2"/><rect x="623.43" y="132.00" width="5.47" height="3.05" fill="#dee2e2"/><rect x="628.85" y="132.00" width="5.47" height="3.05" fill="#dee2e2"/><rect x="634.27" y="132.00" width="5.47" height="3.05" fill="#dee2e2"/><rect x="639.68" y="132.00" width="5.47" height="3.05" fill="#dee2e2"/><rect x="645.10" y="132.00" width="5.47" height="3.05" fill="#b6ccd1"/><rect x="650.52" y="132.00" width="5.47" height="3.05" fill="#a0c0c8"/><rect x="655.93" y="132.00" width="5.47" height="3.05" fill="#206fbb"/><rect x="661.35" y="132.00" width="5.47" height="3.05" fill="#a0c0c8"/><rect x="666.77" y="132.00" width="5.47" height="3.05" fill="#f1ecea"/><rect x="672.18" y="132.00" width="5.47" height="3.05" fill="#f1ecea"/><rect x="612.60" y="135.00" width="5.47" height="3.05" fill="#cbd7da"/><rect x="618.02" y="135.00" width="5.47" height="3.05" fill="#cbd7da"/><rect x="623.43" y="135.00" width="5.47" height="3.05" fill="#dee2e2"/><rect x="628.85" y="135.00" width="5.47" height="3.05" fill="#f1ecea"/><rect x="634.27" y="135.00" width="5.47" height="3.05" fill="#f1ecea"/><rect x="639.68" y="135.00" width="5.47" height="3.05" fill="#f1ecea"/><rect x="645.10" y="135.00" width="5.47" height="3.05" fill="#a0c0c8"/><rect x="650.52" y="135.00" width="5.47" height="3.05" fill="#6aa1bc"/><rect x="655.93" y="135.00" width="5.47" height="3.05" fill="#185ac0"/><rect x="661.35" y="135.00" width="5.47" height="3.05" fill="#a0c0c8"/><rect x="666.77" y="135.00" width="5.47" height="3.05" fill="#cbd7da"/><rect x="672.18" y="135.00" width="5.47" height="3.05" fill="#dee2e2"/><rect x="612.60" y="138.00" width="5.47" height="3.05" fill="#cbd7da"/><rect x="618.02" y="138.00" width="5.47" height="3.05" fill="#cbd7da"/><rect x="623.43" y="138.00" width="5.47" height="3.05" fill="#dee2e2"/><rect x="628.85" y="138.00" width="5.47" height="3.05" fill="#f1ecea"/><rect x="634.27" y="138.00" width="5.47" height="3.05" fill="#dee2e2"/><rect x="639.68" y="138.00" width="5.47" height="3.05" fill="#cbd7da"/><rect x="645.10" y="138.00" width="5.47" height="3.05" fill="#a0c0c8"/><rect x="650.52" y="138.00" width="5.47" height="3.05" fill="#185ac0"/><rect x="655.93" y="138.00" width="5.47" height="3.05" fill="#232a76"/><rect x="661.35" y="138.00" width="5.47" height="3.05" fill="#1c2053"/><rect x="666.77" y="138.00" width="5.47" height="3.05" fill="#b6ccd1"/><rect x="672.18" y="138.00" width="5.47" height="3.05" fill="#f1ecea"/><rect x="612.60" y="141.00" width="5.47" height="3.05" fill="#dee2e2"/><rect x="618.02" y="141.00" width="5.47" height="3.05" fill="#dee2e2"/><rect x="623.43" y="141.00" width="5.47" height="3.05" fill="#dee2e2"/><rect x="628.85" y="141.00" width="5.47" height="3.05" fill="#dee2e2"/><rect x="634.27" y="141.00" width="5.47" height="3.05" fill="#cbd7da"/><rect x="639.68" y="141.00" width="5.47" height="3.05" fill="#b6ccd1"/><rect x="645.10" y="141.00" width="5.47" height="3.05" fill="#6aa1bc"/><rect x="650.52" y="141.00" width="5.47" height="3.05" fill="#206fbb"/><rect x="655.93" y="141.00" width="5.47" height="3.05" fill="#185ac0"/><rect x="661.35" y="141.00" width="5.47" height="3.05" fill="#232a76"/><rect x="666.77" y="141.00" width="5.47" height="3.05" fill="#cbd7da"/><rect x="672.18" y="141.00" width="5.47" height="3.05" fill="#f1ecea"/><rect x="612.60" y="144.00" width="5.47" height="2.05" fill="#f1ecea"/><rect x="618.02" y="144.00" width="5.47" height="2.05" fill="#f1ecea"/><rect x="623.43" y="144.00" width="5.47" height="2.05" fill="#f1ecea"/><rect x="628.85" y="144.00" width="5.47" height="2.05" fill="#f1ecea"/><rect x="634.27" y="144.00" width="5.47" height="2.05" fill="#cbd7da"/><rect x="639.68" y="144.00" width="5.47" height="2.05" fill="#a0c0c8"/><rect x="645.10" y="144.00" width="5.47" height="2.05" fill="#185ac0"/><rect x="650.52" y="144.00" width="5.47" height="2.05" fill="#185ac0"/><rect x="655.93" y="144.00" width="5.47" height="2.05" fill="#1c2053"/><rect x="661.35" y="144.00" width="5.47" height="2.05" fill="#232a76"/><rect x="666.77" y="144.00" width="5.47" height="2.05" fill="#f1ecea"/><rect x="672.18" y="144.00" width="5.47" height="2.05" fill="#f1ecea"/><rect x="612.60" y="146.00" width="5.47" height="2.25" fill="#f1ecea"/><rect x="618.02" y="146.00" width="5.47" height="2.25" fill="#f1ecea"/><rect x="623.43" y="146.00" width="5.47" height="2.25" fill="#f1ecea"/><rect x="628.85" y="146.00" width="5.47" height="2.25" fill="#f1ecea"/><rect x="634.27" y="146.00" width="5.47" height="2.25" fill="#c9c9c9"/><rect x="639.68" y="146.00" width="5.47" height="2.25" fill="#c9c9c9"/><rect x="645.10" y="146.00" width="5.47" height="2.25" fill="#232a76"/><rect x="650.52" y="146.00" width="5.47" height="2.25" fill="#2b37a0"/><rect x="655.93" y="146.00" width="5.47" height="2.25" fill="#c9c9c9"/><rect x="661.35" y="146.00" width="5.47" height="2.25" fill="#c9c9c9"/><rect x="666.77" y="146.00" width="5.47" height="2.25" fill="#c9c9c9"/><rect x="672.18" y="146.00" width="5.47" height="2.25" fill="#f1ecea"/><path d="M612.5999999999999,51.90H677.5999999999999M612.5999999999999,66.27H677.5999999999999M612.5999999999999,80.63H677.5999999999999M612.5999999999999,95.00H677.5999999999999M612.5999999999999,109.37H677.5999999999999M612.5999999999999,123.73H677.5999999999999M612.5999999999999,138.10H677.5999999999999" stroke="#000" stroke-width="1" opacity="0.45" fill="none"/><path d="M612.5999999999999,51.90h6M612.5999999999999,66.27h6M612.5999999999999,80.63h6M612.5999999999999,95.00h6M612.5999999999999,109.37h6M612.5999999999999,123.73h6M612.5999999999999,138.10h6" stroke="#000" stroke-width="1" opacity="0.8" fill="none"/><rect x="612.5999999999999" y="37.2" width="65.0" height="111.0" fill="none" stroke="#000" stroke-width="0.9"/><text x="620.7" y="22.9" font-size="10.9" text-anchor="middle" textLength="5.6" lengthAdjust="spacingAndGlyphs">F</text><text x="631.6" y="22.9" font-size="10.9" text-anchor="middle" textLength="6.6" lengthAdjust="spacingAndGlyphs">A</text><text x="642.4" y="22.9" font-size="10.9" text-anchor="middle">J</text><text x="653.2" y="22.9" font-size="10.9" text-anchor="middle" textLength="6.6" lengthAdjust="spacingAndGlyphs">A</text><text x="664.1" y="22.9" font-size="10.9" text-anchor="middle" textLength="7.6" lengthAdjust="spacingAndGlyphs">O</text><text x="674.9" y="22.9" font-size="10.9" text-anchor="middle" textLength="7.5" lengthAdjust="spacingAndGlyphs">D</text><path d="M620.50,37.2V31.00M631.50,37.2V31.00M642.50,37.2V31.00M653.50,37.2V31.00M664.50,37.2V31.00M674.50,37.2V31.00" stroke="#000" stroke-width="1"/><text x="645.1" y="7.5" font-size="10.6" text-anchor="middle" textLength="31.2" lengthAdjust="spacingAndGlyphs">Month</text><text x="355.0" y="29.0" font-size="11" text-anchor="start" font-weight="bold">b</text><text x="479.9" y="26.0" font-size="13.3" text-anchor="middle" textLength="146.1" lengthAdjust="spacingAndGlyphs">Vertical diffusion, <tspan font-style="italic">F</tspan><tspan font-style="italic" font-size="9.3" dy="1.4">vDIFF</tspan></text><linearGradient id="gb" gradientUnits="userSpaceOnUse" x1="363.00" y1="0" x2="610.00" y2="0"><stop offset="0.000" stop-color="#181c43"/><stop offset="0.060" stop-color="#1f2563"/><stop offset="0.120" stop-color="#272f88"/><stop offset="0.160" stop-color="#2c3aa8"/><stop offset="0.180" stop-color="#1f52c0"/><stop offset="0.200" stop-color="#1262c0"/><stop offset="0.250" stop-color="#2a78b8"/><stop offset="0.300" stop-color="#4a8fb6"/><stop offset="0.350" stop-color="#72a6bd"/><stop offset="0.400" stop-color="#a0c0c8"/><stop offset="0.450" stop-color="#cbd7da"/><stop offset="0.500" stop-color="#f1ecea"/><stop offset="0.575" stop-color="#e4c5ba"/><stop offset="0.645" stop-color="#dba48f"/><stop offset="0.720" stop-color="#d08466"/><stop offset="0.755" stop-color="#c96c4f"/><stop offset="0.790" stop-color="#bf4a36"/><stop offset="0.815" stop-color="#b5352a"/><stop offset="0.845" stop-color="#a82430"/><stop offset="0.875" stop-color="#961a32"/><stop offset="0.910" stop-color="#7e1230"/><stop offset="0.955" stop-color="#5c0e24"/><stop offset="1.000" stop-color="#3a0a12"/></linearGradient><path d="M350.65,159.80L363.00,153.30L610.00,153.30L610.00,166.30L363.00,166.30Z" fill="url(#gb)" stroke="none"/><path d="M350.65,159.80L363.30,153.30L363.30,166.30Z" fill="#181c43"/><path d="M350.65,159.80L363.00,153.30L610.00,153.30L610.00,166.30L363.00,166.30Z" fill="none" stroke="#000" stroke-width="0.8" stroke-linejoin="miter"/><text x="363.0" y="186.6" font-size="10.4" text-anchor="middle" textLength="21.1" lengthAdjust="spacingAndGlyphs">−10</text><text x="424.8" y="186.6" font-size="10.4" text-anchor="middle" textLength="14.7" lengthAdjust="spacingAndGlyphs">−5</text><text x="486.5" y="186.6" font-size="10.4" text-anchor="middle" textLength="6.4" lengthAdjust="spacingAndGlyphs">0</text><text x="548.2" y="186.6" font-size="10.4" text-anchor="middle" textLength="6.4" lengthAdjust="spacingAndGlyphs">5</text><text x="610.0" y="186.6" font-size="10.4" text-anchor="middle" textLength="12.7" lengthAdjust="spacingAndGlyphs">10</text><path d="M363.50,166.30V172.10M424.50,166.30V172.10M486.50,166.30V172.10M548.50,166.30V172.10M610.50,166.30V172.10" stroke="#000" stroke-width="1"/><text x="486.5" y="205.0" font-size="10.9" text-anchor="middle" textLength="222" lengthAdjust="spacingAndGlyphs">Annually integrated <tspan font-style="italic">F</tspan> (mol O<tspan font-size="7.3" dy="1.8">2</tspan><tspan dy="-1.8"> m</tspan><tspan font-size="7.3" dy="-3.6">−2</tspan><tspan dy="3.6"> year</tspan><tspan font-size="7.3" dy="-3.6">−1</tspan><tspan dy="3.6">)</tspan></text><linearGradient id="sb" gradientUnits="userSpaceOnUse" x1="615.70" y1="0" x2="677.60" y2="0"><stop offset="0.000" stop-color="#181c43"/><stop offset="0.060" stop-color="#1f2563"/><stop offset="0.120" stop-color="#272f88"/><stop offset="0.160" stop-color="#2c3aa8"/><stop offset="0.180" stop-color="#1f52c0"/><stop offset="0.200" stop-color="#1262c0"/><stop offset="0.250" stop-color="#2a78b8"/><stop offset="0.300" stop-color="#4a8fb6"/><stop offset="0.350" stop-color="#72a6bd"/><stop offset="0.400" stop-color="#a0c0c8"/><stop offset="0.450" stop-color="#cbd7da"/><stop offset="0.500" stop-color="#f1ecea"/><stop offset="0.575" stop-color="#e4c5ba"/><stop offset="0.645" stop-color="#dba48f"/><stop offset="0.720" stop-color="#d08466"/><stop offset="0.755" stop-color="#c96c4f"/><stop offset="0.790" stop-color="#bf4a36"/><stop offset="0.815" stop-color="#b5352a"/><stop offset="0.845" stop-color="#a82430"/><stop offset="0.875" stop-color="#961a32"/><stop offset="0.910" stop-color="#7e1230"/><stop offset="0.955" stop-color="#5c0e24"/><stop offset="1.000" stop-color="#3a0a12"/></linearGradient><path d="M612.61,154.50L615.70,151.40L677.60,151.40L677.60,157.60L615.70,157.60Z" fill="url(#sb)" stroke="none"/><path d="M612.61,154.50L616.00,151.40L616.00,157.60Z" fill="#181c43"/><path d="M612.61,154.50L615.70,151.40L677.60,151.40L677.60,157.60L615.70,157.60Z" fill="none" stroke="#000" stroke-width="0.8" stroke-linejoin="miter"/><text x="615.7" y="177.6" font-size="10.4" text-anchor="middle" textLength="24.3" lengthAdjust="spacingAndGlyphs">−0.5</text><text x="646.7" y="177.6" font-size="10.4" text-anchor="middle" textLength="15.9" lengthAdjust="spacingAndGlyphs">0.0</text><text x="677.6" y="177.6" font-size="10.4" text-anchor="middle" textLength="15.9" lengthAdjust="spacingAndGlyphs">0.5</text><path d="M615.50,157.60V163.10M646.50,157.60V163.10M677.50,157.60V163.10" stroke="#000" stroke-width="1"/><text x="644.6" y="195.8" font-size="10.9" text-anchor="middle" textLength="63.4" lengthAdjust="spacingAndGlyphs">(mol O<tspan font-size="7.3" dy="1.8">2</tspan><tspan dy="-1.8"> m</tspan><tspan font-size="7.3" dy="-3.6">−2</tspan></text><text x="644.6" y="210.2" font-size="10.9" text-anchor="middle" textLength="47.7" lengthAdjust="spacingAndGlyphs">month<tspan font-size="7.3" dy="-3.6">−1</tspan><tspan dy="3.6">)</tspan></text><filter id="fc" filterUnits="userSpaceOnUse" x="10.4" y="268.93" width="258.7" height="111.0" color-interpolation-filters="sRGB"><feOffset in="SourceGraphic" dx="0" dy="0" result="b"/><feTurbulence type="fractalNoise" baseFrequency="0.06 0.25" numOctaves="2" seed="7" result="n0"/><feColorMatrix in="n0" type="matrix" values="1 0 0 0 0 1 0 0 0 0 1 0 0 0 0 0 0 0 0 1" result="n1"/><feComponentTransfer in="n1" result="n"><feFuncR type="table" tableValues="0 0.03 0.1 0.22 0.45 0.5 0.55 0.78 0.9 0.97 1"/><feFuncG type="table" tableValues="0 0.03 0.1 0.22 0.45 0.5 0.55 0.78 0.9 0.97 1"/><feFuncB type="table" tableValues="0 0.03 0.1 0.22 0.45 0.5 0.55 0.78 0.9 0.97 1"/></feComponentTransfer><feComposite in="b" in2="n" operator="arithmetic" k1="0" k2="1" k3="0.14" k4="-0.0700" result="s"/><feComponentTransfer in="s"><feFuncR type="table" tableValues="0.094 0.102 0.110 0.114 0.122 0.129 0.141 0.149 0.157 0.165 0.173 0.141 0.102 0.075 0.106 0.133 0.165 0.204 0.243 0.282 0.329 0.380 0.427 0.482 0.537 0.592 0.647 0.702 0.753 0.804 0.851 0.898 0.945 0.933 0.925 0.914 0.902 0.894 0.886 0.878 0.871 0.863 0.851 0.843 0.835 0.824 0.816 0.804 0.792 0.776 0.761 0.737 0.714 0.686 0.663 0.624 0.588 0.545 0.506 0.459 0.412 0.365 0.322 0.275 0.227"/><feFuncG type="table" tableValues="0.110 0.118 0.129 0.137 0.145 0.157 0.169 0.176 0.188 0.208 0.224 0.282 0.345 0.388 0.416 0.443 0.471 0.498 0.525 0.557 0.584 0.612 0.639 0.671 0.702 0.733 0.765 0.792 0.820 0.847 0.875 0.898 0.925 0.894 0.863 0.831 0.796 0.769 0.737 0.710 0.678 0.651 0.624 0.600 0.573 0.545 0.522 0.478 0.435 0.384 0.325 0.267 0.216 0.180 0.145 0.122 0.102 0.086 0.075 0.067 0.063 0.055 0.051 0.043 0.039"/><feFuncB type="table" tableValues="0.263 0.294 0.329 0.361 0.396 0.431 0.471 0.506 0.549 0.596 0.647 0.714 0.753 0.753 0.741 0.729 0.722 0.718 0.718 0.714 0.722 0.729 0.737 0.749 0.761 0.776 0.792 0.816 0.839 0.859 0.878 0.898 0.918 0.878 0.839 0.800 0.761 0.722 0.682 0.647 0.608 0.573 0.537 0.502 0.471 0.435 0.404 0.365 0.322 0.278 0.235 0.200 0.169 0.176 0.188 0.192 0.196 0.192 0.188 0.176 0.161 0.141 0.118 0.094 0.071"/></feComponentTransfer></filter><clipPath id="cc"><rect x="10.4" y="268.93" width="258.7" height="111.0"/></clipPath><g clip-path="url(#cc)"><filter id="bbc" filterUnits="userSpaceOnUse" x="-9.6" y="248.93" width="298.7" height="151.0" color-interpolation-filters="sRGB"><feGaussianBlur stdDeviation="4 3"/></filter><filter id="bsc" filterUnits="userSpaceOnUse" x="-9.6" y="248.93" width="298.7" height="151.0" color-interpolation-filters="sRGB"><feGaussianBlur stdDeviation="1.1 0.8"/></filter><g filter="url(#fc)"><rect x="5.4" y="263.93" width="268.7" height="121.0" fill="#808080"/><g filter="url(#bbc)"><ellipse cx="118.0" cy="286.7" rx="20" ry="5" fill="#4f4f4f"/><rect x="101.0" y="291.7" width="69.0" height="26.0" fill="#919191"/><ellipse cx="110.0" cy="326.7" rx="25" ry="4" fill="#737373"/><rect x="162.0" y="333.7" width="30.0" height="15.0" fill="#999999"/><rect x="125.0" y="345.7" width="60.0" height="10.0" fill="#919191"/><rect x="208.0" y="297.7" width="37.0" height="14.0" fill="#919191"/><ellipse cx="228.0" cy="318.7" rx="18" ry="6" fill="#737373"/><rect x="208.0" y="331.7" width="42.0" height="18.0" fill="#919191"/><ellipse cx="262.0" cy="343.7" rx="6" ry="10" fill="#666666"/><ellipse cx="14.0" cy="352.7" rx="4" ry="5" fill="#3b3b3b"/><ellipse cx="78.0" cy="323.7" rx="8" ry="6" fill="#666666"/><rect x="33.0" y="329.7" width="76.0" height="15.0" fill="#737373"/><rect x="20.0" y="344.7" width="80.0" height="9.0" fill="#919191"/></g><g filter="url(#bsc)"><ellipse cx="112.0" cy="286.7" rx="12" ry="2" fill="#3b3b3b"/><ellipse cx="135.0" cy="283.7" rx="12" ry="1.6" fill="#474747"/><ellipse cx="152.0" cy="281.7" rx="10" ry="1.5" fill="#474747"/><ellipse cx="98.0" cy="296.5" rx="3" ry="2.2" fill="#d9d9d9"/><ellipse cx="90.0" cy="303.7" rx="7" ry="2.2" fill="#262626"/><ellipse cx="148.0" cy="283.2" rx="13" ry="3" fill="#575757"/><ellipse cx="173.0" cy="327.5" rx="23" ry="1.6" fill="#171717"/><ellipse cx="179.0" cy="323.3" rx="13" ry="1.4" fill="#bbbbbb"/><ellipse cx="145.0" cy="319.5" rx="17" ry="1.3" fill="#575757"/><ellipse cx="192.0" cy="331.7" rx="2.2" ry="9" fill="#363636"/><ellipse cx="186.0" cy="321.2" rx="3" ry="2.5" fill="#474747"/><ellipse cx="208.0" cy="298.2" rx="9" ry="2" fill="#171717"/><ellipse cx="218.7" cy="293.7" rx="4" ry="2.5" fill="#ebebeb"/><ellipse cx="230.0" cy="284.2" rx="12" ry="2.8" fill="#303030"/><ellipse cx="238.0" cy="278.7" rx="6" ry="2" fill="#474747"/><ellipse cx="236.0" cy="309.7" rx="10" ry="1.5" fill="#a1a1a1"/><ellipse cx="209.0" cy="358.2" rx="4" ry="3" fill="#ebebeb"/><ellipse cx="215.0" cy="365.7" rx="6" ry="1.8" fill="#262626"/><ellipse cx="205.5" cy="368.5" rx="4.5" ry="1.8" fill="#ebebeb"/><ellipse cx="262.0" cy="358.7" rx="7" ry="2.5" fill="#c3c3c3"/><ellipse cx="266.0" cy="353.2" rx="4" ry="1.6" fill="#303030"/><ellipse cx="14.0" cy="357.2" rx="6" ry="2" fill="#3b3b3b"/><ellipse cx="23.0" cy="358.7" rx="4" ry="1.5" fill="#171717"/><ellipse cx="38.0" cy="358.9" rx="5" ry="1.8" fill="#d9d9d9"/><ellipse cx="53.0" cy="360.7" rx="5" ry="1.5" fill="#3b3b3b"/><ellipse cx="66.0" cy="362.2" rx="4" ry="1.5" fill="#cccccc"/><ellipse cx="80.0" cy="360.2" rx="5" ry="1.5" fill="#3b3b3b"/><ellipse cx="93.5" cy="362.7" rx="6" ry="2.5" fill="#ebebeb"/><ellipse cx="110.0" cy="365.4" rx="5.5" ry="1.5" fill="#cccccc"/><ellipse cx="112.0" cy="369.2" rx="13" ry="1.8" fill="#262626"/><ellipse cx="146.0" cy="366.7" rx="5" ry="1.8" fill="#cccccc"/><ellipse cx="160.0" cy="369.4" rx="7" ry="1.5" fill="#3b3b3b"/><ellipse cx="190.0" cy="371.3" rx="5" ry="1.5" fill="#c3c3c3"/><ellipse cx="60.0" cy="371.2" rx="50" ry="1.6" fill="#474747"/><ellipse cx="150.0" cy="371.7" rx="40" ry="1.4" fill="#4f4f4f"/><ellipse cx="235.0" cy="370.7" rx="35" ry="1.4" fill="#575757"/><ellipse cx="24.0" cy="324.7" rx="3" ry="9" fill="#474747"/><ellipse cx="36.0" cy="318.2" rx="7" ry="3" fill="#a1a1a1"/><ellipse cx="254.0" cy="273.7" rx="8" ry="2.5" fill="#474747"/></g></g><path d="M-136.9,273.2L121.7,273.2L121.7,262.1L-136.9,262.1ZM121.7,273.2L380.3,273.2L380.3,262.1L121.7,262.1ZM6.8,277.9L121.7,277.9L121.7,262.1L6.8,262.1ZM265.4,277.9L380.3,277.9L380.3,262.1L265.4,262.1ZM107.3,279.7L161.2,279.7L161.2,262.1L107.3,262.1ZM128.9,276.8L164.8,276.8L164.8,262.1L128.9,262.1ZM192.1,279.0L215.1,279.0L215.1,267.8L192.1,267.8ZM182.8,290.1L195.0,290.1L196.4,281.5L182.8,280.8ZM89.4,295.1L105.2,290.8L105.2,282.2L89.4,283.6ZM76.4,302.3L83.6,302.3L83.6,296.9L76.4,296.9ZM108.8,284.3L139.7,284.3L139.7,276.4L108.8,276.4ZM-136.9,373.4L121.7,373.4L121.7,391.4L-136.9,391.4ZM121.7,373.4L380.3,373.4L380.3,391.4L121.7,391.4ZM121.7,372.7L207.9,372.7L207.9,391.4L121.7,391.4ZM206.5,369.8L243.8,371.3L243.8,391.4L206.5,391.4ZM-0.4,287.9L13.9,287.9L13.9,279.3L-0.4,279.3ZM258.2,287.9L272.5,287.9L272.5,279.3L258.2,279.3Z" fill="#c9c9c9"/><path d="M-11.9,300.9L-11.2,301.4L-7.6,301.2L-0.4,300.0L-0.1,302.7L6.8,305.0L13.9,304.6L18.4,302.3L18.6,300.0L13.9,297.5L22.4,297.4L22.4,293.0L12.5,292.8L11.8,296.6L8.2,296.6L6.0,295.8L2.1,293.7L-0.4,294.7L-5.4,295.3L-7.6,297.3L-9.0,300.2ZM246.7,300.9L247.4,301.4L251.0,301.2L258.2,300.0L258.5,302.7L265.4,305.0L272.5,304.6L277.0,302.3L277.2,300.0L272.5,297.5L281.0,297.4L281.0,293.0L271.1,292.8L270.4,296.6L266.8,296.6L264.6,295.8L260.7,293.7L258.2,294.7L253.2,295.3L251.0,297.3L249.6,300.2ZM15.7,305.2L17.2,306.6L20.4,311.6L23.6,317.8L23.3,317.5L20.1,314.5L17.9,309.5L15.8,305.3ZM26.7,304.8L28.5,305.0L33.1,307.3L33.1,309.1L29.4,309.6L27.2,306.6Z" fill="#858585"/><path d="M161.2,275.4L162.6,273.2L167.0,272.0L175.6,270.6L182.8,268.9L200.7,267.5L206.5,267.8L200.7,270.0L196.4,270.7L194.2,271.8L193.5,273.1L187.8,273.3L193.5,273.8L196.4,274.5L200.7,275.9L202.2,276.4L202.9,277.2L206.1,278.6L206.5,279.0L204.7,280.0L203.2,282.2L199.6,281.6L197.8,280.4L195.3,280.5L193.5,278.6L189.9,276.8L182.8,277.9L175.6,277.9L168.4,277.5L164.8,276.8L161.2,276.4ZM206.8,363.5L209.3,363.6L209.2,364.3L207.2,364.3ZM41.8,361.7L43.0,361.9L42.8,362.4L41.8,362.4ZM-11.8,301.0L-14.4,303.0L-14.6,305.5L-16.9,307.0L-18.4,309.5L-19.8,311.6L-19.5,313.1L-19.2,314.5L-19.9,316.2L-19.6,317.8L-18.4,318.8L-17.3,319.9L-15.9,321.7L-13.3,323.6L-10.5,323.0L-8.3,323.1L-6.2,322.2L-4.4,322.2L-3.3,323.6L-1.5,323.5L-0.8,324.2L-0.6,325.3L-0.9,327.1L0.9,329.6L1.2,331.0L2.0,333.2L2.1,335.3L1.2,337.5L0.9,339.3L2.8,342.9L3.3,346.1L4.3,347.3L5.5,349.4L5.6,351.2L6.8,351.7L8.6,351.2L10.8,351.0L12.2,350.6L13.9,349.0L15.7,347.2L16.0,345.4L17.9,344.0L17.9,342.2L17.3,341.0L18.8,339.5L21.5,337.5L21.5,334.3L20.6,331.8L20.6,330.0L21.9,328.2L23.3,326.4L25.4,324.9L26.9,323.5L28.2,321.0L29.2,318.8L29.2,318.3L27.2,318.6L24.4,319.3L23.5,318.3L22.9,317.4L22.0,316.3L20.6,314.9L20.1,313.8L19.1,311.6L18.0,309.6L16.8,307.3L15.8,305.3L15.6,304.2L13.2,304.5L10.4,304.0L6.8,303.7L6.7,304.6L3.5,304.1L0.7,303.0L-0.3,302.2L0.3,300.2L-0.6,299.9L-1.5,300.2L-5.4,300.3L-8.3,301.4L-9.2,301.5ZM246.8,301.0L244.2,303.0L244.0,305.5L241.7,307.0L240.2,309.5L238.8,311.6L239.1,313.1L239.4,314.5L238.7,316.2L239.0,317.8L240.2,318.8L241.3,319.9L242.7,321.7L245.3,323.6L248.1,323.0L250.3,323.1L252.4,322.2L254.2,322.2L255.3,323.6L257.1,323.5L257.8,324.2L258.0,325.3L257.7,327.1L259.5,329.6L259.8,331.0L260.6,333.2L260.7,335.3L259.8,337.5L259.5,339.3L261.4,342.9L261.9,346.1L262.8,347.3L264.1,349.4L264.2,351.2L265.4,351.7L267.2,351.2L269.4,351.0L270.8,350.6L272.5,349.0L274.3,347.2L274.6,345.4L276.5,344.0L276.5,342.2L275.9,341.0L277.4,339.5L280.1,337.5L280.1,334.3L279.2,331.8L279.2,330.0L280.4,328.2L281.9,326.4L284.0,324.9L285.5,323.5L286.8,321.0L287.8,318.8L287.8,318.3L285.8,318.6L283.0,319.3L282.1,318.3L281.5,317.4L280.6,316.3L279.2,314.9L278.7,313.8L277.7,311.6L276.6,309.6L275.4,307.3L274.4,305.3L274.2,304.2L271.8,304.5L269.0,304.0L265.4,303.7L265.3,304.6L262.1,304.1L259.3,303.0L258.3,302.2L258.9,300.2L258.0,299.9L257.1,300.2L253.2,300.3L250.3,301.4L249.4,301.5ZM-11.6,300.9L-12.1,300.3L-12.9,300.0L-14.0,300.2L-13.9,298.9L-14.4,298.9L-14.0,297.9L-13.9,296.6L-14.3,295.8L-13.3,295.3L-11.6,295.5L-8.9,295.6L-8.5,294.6L-8.5,293.5L-9.2,292.9L-10.8,292.3L-10.8,291.8L-8.7,291.7L-8.5,291.0L-7.5,291.2L-6.5,290.7L-5.8,290.0L-5.0,289.7L-4.4,289.0L-4.0,288.4L-2.6,288.3L-1.4,288.0L-1.4,286.9L-1.8,285.9L-0.1,285.3L-0.1,286.4L-0.4,287.4L0.3,287.9L1.4,287.7L2.6,288.0L4.3,287.6L5.8,287.6L7.6,287.1L7.5,285.9L8.6,285.3L9.9,285.6L9.7,284.9L9.2,284.2L12.5,284.0L14.1,283.7L13.1,283.3L10.6,283.4L8.8,283.7L7.7,283.0L7.8,281.3L10.6,280.0L10.1,279.5L8.3,279.5L7.6,280.5L6.0,281.3L5.0,282.0L4.8,282.9L5.9,283.6L5.3,284.4L4.3,285.7L3.7,286.4L2.6,286.9L1.6,286.8L1.4,286.1L0.9,285.1L0.4,284.3L-0.8,284.4L-1.9,285.0L-2.9,285.0L-3.6,284.4L-3.9,283.5L-4.0,282.6L-3.3,281.8L-1.5,281.2L-0.2,280.5L1.0,279.7L1.7,278.7L3.2,277.7L4.3,277.2L5.3,276.6L6.8,276.4L8.9,276.0L10.7,275.7L12.5,275.7L14.7,276.2L13.2,276.6L15.4,276.8L18.3,277.1L21.5,278.0L21.9,278.7L20.8,279.3L18.7,279.0L17.5,279.3L16.3,278.9L17.3,280.4L19.0,280.9L19.3,280.1L21.4,280.4L22.9,279.0L24.1,279.2L24.0,277.7L25.4,277.5L25.6,278.0L27.6,277.9L30.7,277.5L31.4,277.7L34.1,277.2L35.5,277.5L36.1,276.6L38.4,276.9L40.5,276.8L40.7,275.9L40.2,275.4L41.6,274.4L42.7,274.1L44.7,274.7L44.1,276.1L45.2,277.9L45.9,277.5L46.3,275.0L49.1,274.8L50.2,273.9L54.5,273.2L54.9,272.5L59.9,272.1L64.9,271.7L67.3,270.9L69.6,271.6L72.9,272.0L73.9,273.9L77.2,273.9L80.8,274.1L83.6,273.9L85.1,274.9L86.5,275.7L89.4,275.3L93.0,274.7L97.3,274.8L100.1,275.4L102.3,275.8L106.6,275.8L108.0,276.7L112.9,276.6L114.9,276.4L118.8,276.6L121.7,277.2L123.1,277.7L125.3,278.2L127.8,278.7L129.1,279.2L127.8,279.7L127.3,280.5L125.3,280.2L123.6,279.8L122.4,280.0L120.6,280.4L119.5,281.8L117.4,282.3L114.7,283.6L112.0,283.3L110.2,283.8L109.7,284.7L109.0,285.2L109.5,286.4L108.6,287.4L107.3,288.5L106.3,289.0L105.0,290.1L104.5,288.7L104.1,286.5L105.0,285.2L106.3,285.0L108.8,283.1L110.2,281.8L107.7,282.6L105.2,282.6L103.0,284.1L100.9,284.1L98.7,284.1L95.1,284.1L93.3,285.2L91.5,286.5L90.1,287.8L91.9,287.9L94.0,288.7L93.3,290.8L93.2,292.1L91.9,293.3L90.1,295.1L87.9,296.0L86.5,296.2L85.4,297.3L84.3,298.7L85.4,300.5L85.1,301.5L83.3,301.9L83.3,299.8L82.2,298.4L79.7,298.7L80.0,297.6L79.3,297.3L77.9,298.4L76.9,298.7L77.8,299.9L80.4,300.0L79.0,300.9L78.0,301.7L79.2,303.7L80.0,304.6L80.0,305.5L79.0,307.2L78.2,308.3L76.8,309.7L74.3,310.7L71.8,311.5L71.4,312.1L70.3,311.2L68.9,312.2L68.3,313.2L69.3,314.5L70.6,315.7L71.0,318.1L69.3,319.2L67.8,320.6L67.6,319.4L66.3,318.3L64.9,317.2L64.2,317.8L63.7,319.5L64.6,321.3L64.9,321.8L65.8,322.3L66.7,323.6L67.2,325.7L66.4,325.7L64.9,324.6L64.4,322.8L63.0,321.0L63.2,318.8L62.5,314.9L60.2,315.2L60.1,313.2L58.7,311.9L58.3,310.6L57.4,310.9L56.0,311.1L54.9,311.4L54.8,312.0L53.5,312.9L51.5,314.8L50.1,315.6L50.0,317.4L49.7,319.3L48.6,320.3L48.1,320.9L47.4,319.9L46.6,318.1L45.9,316.1L45.0,314.2L44.7,312.7L44.5,311.5L44.3,310.8L43.0,311.8L42.0,310.6L42.7,310.3L41.5,309.8L40.3,308.5L36.6,308.6L34.6,308.4L33.5,307.2L32.8,307.2L31.8,307.7L29.4,306.7L28.5,305.2L27.2,305.2L26.9,305.5L28.0,307.0L28.9,308.9L29.5,309.1L29.5,308.0L29.9,309.5L31.5,309.3L32.8,307.9L33.0,309.1L34.6,309.8L35.4,310.6L34.5,312.0L33.9,313.1L31.9,314.5L29.9,315.5L27.4,316.7L24.7,317.5L23.6,317.7L23.1,316.0L23.1,314.9L21.7,312.7L20.5,311.2L19.7,309.5L18.6,308.1L17.5,306.6L17.2,306.6L16.5,306.5L15.8,305.3L17.0,304.2L17.5,303.0L18.2,301.2L18.3,300.3L17.2,300.3L15.4,300.7L13.8,300.7L12.0,300.2L11.4,299.1L11.4,297.9L13.2,297.3L14.9,297.1L17.5,296.6L20.1,297.4L22.2,296.9L22.4,296.6L20.4,294.8L19.3,294.2L17.7,294.4L16.5,294.8L15.7,294.1L14.7,293.3L13.9,293.9L13.1,294.8L12.5,295.8L12.5,296.7L11.1,297.5L8.9,297.7L8.6,297.8L8.9,298.7L9.6,299.4L8.2,300.5L7.8,300.2L7.6,299.1L6.4,297.6L6.3,296.6L3.9,295.5L2.2,294.0L1.2,294.2L1.3,295.0L2.5,296.2L3.9,296.9L5.7,297.9L4.6,298.7L4.0,299.4L3.7,299.3L3.6,298.0L1.7,297.1L0.3,296.2L-0.3,295.2L-1.3,294.8L-2.2,295.3L-4.0,295.6L-5.4,295.7L-5.3,296.6L-7.0,297.3L-7.8,298.4L-7.5,298.9L-8.1,299.7L-9.1,300.4L-10.8,300.4ZM247.0,300.9L246.5,300.3L245.7,300.0L244.6,300.2L244.7,298.9L244.2,298.9L244.6,297.9L244.7,296.6L244.3,295.8L245.3,295.3L247.0,295.5L249.7,295.6L250.1,294.6L250.1,293.5L249.4,292.9L247.8,292.3L247.8,291.8L249.9,291.7L250.1,291.0L251.1,291.2L252.1,290.7L252.8,290.0L253.6,289.7L254.2,289.0L254.6,288.4L256.0,288.3L257.2,288.0L257.2,286.9L256.8,285.9L258.5,285.3L258.5,286.4L258.2,287.4L258.9,287.9L260.0,287.7L261.2,288.0L262.8,287.6L264.4,287.6L266.2,287.1L266.1,285.9L267.2,285.3L268.5,285.6L268.3,284.9L267.8,284.2L271.1,284.0L272.7,283.7L271.7,283.3L269.2,283.4L267.4,283.7L266.3,283.0L266.4,281.3L269.2,280.0L268.7,279.5L266.9,279.5L266.2,280.5L264.6,281.3L263.6,282.0L263.4,282.9L264.5,283.6L263.9,284.4L262.8,285.7L262.3,286.4L261.2,286.9L260.2,286.8L260.0,286.1L259.5,285.1L259.0,284.3L257.8,284.4L256.7,285.0L255.7,285.0L255.0,284.4L254.7,283.5L254.6,282.6L255.3,281.8L257.1,281.2L258.4,280.5L259.6,279.7L260.3,278.7L261.8,277.7L262.8,277.2L263.9,276.6L265.4,276.4L267.5,276.0L269.3,275.7L271.1,275.7L273.3,276.2L271.8,276.6L274.0,276.8L276.9,277.1L280.1,278.0L280.5,278.7L279.4,279.3L277.3,279.0L276.1,279.3L274.9,278.9L275.9,280.4L277.6,280.9L277.9,280.1L280.0,280.4L281.5,279.0L282.7,279.2L282.6,277.7L284.0,277.5L284.2,278.0L286.2,277.9L289.3,277.5L290.0,277.7L292.7,277.2L294.1,277.5L294.7,276.6L297.0,276.9L299.1,276.8L299.3,275.9L298.8,275.4L300.2,274.4L301.3,274.1L303.3,274.7L302.7,276.1L303.8,277.9L304.5,277.5L304.9,275.0L307.7,274.8L308.8,273.9L313.1,273.2L313.5,272.5L318.5,272.1L323.5,271.7L325.9,270.9L328.2,271.6L331.5,272.0L332.5,273.9L335.8,273.9L339.4,274.1L342.2,273.9L343.7,274.9L345.1,275.7L348.0,275.3L351.6,274.7L355.9,274.8L358.7,275.4L360.9,275.8L365.2,275.8L366.6,276.7L371.5,276.6L373.5,276.4L377.4,276.6L380.3,277.2L381.7,277.7L383.9,278.2L386.4,278.7L387.7,279.2L386.4,279.7L385.9,280.5L383.9,280.2L382.2,279.8L381.0,280.0L379.2,280.4L378.1,281.8L376.0,282.3L373.3,283.6L370.6,283.3L368.8,283.8L368.3,284.7L367.6,285.2L368.1,286.4L367.2,287.4L365.9,288.5L364.9,289.0L363.6,290.1L363.1,288.7L362.7,286.5L363.6,285.2L364.9,285.0L367.4,283.1L368.8,281.8L366.3,282.6L363.8,282.6L361.6,284.1L359.5,284.1L357.3,284.1L353.7,284.1L351.9,285.2L350.1,286.5L348.7,287.8L350.5,287.9L352.6,288.7L351.9,290.8L351.8,292.1L350.5,293.3L348.7,295.1L346.5,296.0L345.1,296.2L344.0,297.3L342.9,298.7L343.9,300.5L343.7,301.5L341.9,301.9L341.9,299.8L340.8,298.4L338.3,298.7L338.6,297.6L337.9,297.3L336.5,298.4L335.5,298.7L336.4,299.9L339.0,300.0L337.6,300.9L336.6,301.7L337.8,303.7L338.6,304.6L338.6,305.5L337.6,307.2L336.8,308.3L335.4,309.7L332.9,310.7L330.4,311.5L330.0,312.1L328.9,311.2L327.5,312.2L326.9,313.2L327.9,314.5L329.2,315.7L329.6,318.1L327.9,319.2L326.4,320.6L326.2,319.4L324.9,318.3L323.5,317.2L322.8,317.8L322.3,319.5L323.2,321.3L323.5,321.8L324.4,322.3L325.3,323.6L325.8,325.7L325.0,325.7L323.5,324.6L323.0,322.8L321.6,321.0L321.8,318.8L321.1,314.9L318.8,315.2L318.7,313.2L317.3,311.9L316.9,310.6L316.0,310.9L314.6,311.1L313.5,311.4L313.4,312.0L312.1,312.9L310.1,314.8L308.7,315.6L308.6,317.4L308.3,319.3L307.2,320.3L306.7,320.9L305.9,319.9L305.2,318.1L304.5,316.1L303.6,314.2L303.3,312.7L303.1,311.5L302.9,310.8L301.6,311.8L300.6,310.6L301.3,310.3L300.1,309.8L298.9,308.5L295.2,308.6L293.2,308.4L292.1,307.2L291.4,307.2L290.4,307.7L288.0,306.7L287.1,305.2L285.8,305.2L285.5,305.5L286.6,307.0L287.5,308.9L288.1,309.1L288.1,308.0L288.5,309.5L290.1,309.3L291.4,307.9L291.6,309.1L293.2,309.8L294.0,310.6L293.1,312.0L292.5,313.1L290.5,314.5L288.5,315.5L286.0,316.7L283.3,317.5L282.2,317.7L281.7,316.0L281.7,314.9L280.3,312.7L279.1,311.2L278.3,309.5L277.2,308.1L276.1,306.6L275.8,306.6L275.1,306.5L274.4,305.3L275.6,304.2L276.1,303.0L276.8,301.2L276.9,300.3L275.8,300.3L274.0,300.7L272.4,300.7L270.6,300.2L270.0,299.1L270.0,297.9L271.8,297.3L273.5,297.1L276.1,296.6L278.7,297.4L280.8,296.9L281.0,296.6L279.0,294.8L277.9,294.2L276.3,294.4L275.1,294.8L274.3,294.1L273.3,293.3L272.5,293.9L271.7,294.8L271.1,295.8L271.1,296.7L269.7,297.5L267.5,297.7L267.2,297.8L267.5,298.7L268.2,299.4L266.8,300.5L266.4,300.2L266.2,299.1L265.0,297.6L264.9,296.6L262.5,295.5L260.8,294.0L259.8,294.2L259.9,295.0L261.1,296.2L262.5,296.9L264.3,297.9L263.2,298.7L262.6,299.4L262.3,299.3L262.2,298.0L260.3,297.1L258.9,296.2L258.3,295.2L257.3,294.8L256.4,295.3L254.6,295.6L253.2,295.7L253.3,296.6L251.6,297.3L250.8,298.4L251.1,298.9L250.5,299.7L249.5,300.4L247.8,300.4ZM130.3,279.6L131.8,279.3L133.2,278.6L131.2,277.7L133.9,276.8L136.1,276.0L138.4,275.5L141.8,275.9L144.7,276.2L148.3,276.4L149.7,276.7L153.3,277.2L155.1,276.8L157.6,276.4L159.8,276.4L161.6,276.8L164.1,276.7L167.0,277.2L169.1,277.7L172.7,277.8L175.6,277.5L178.4,278.0L180.6,277.9L182.0,278.4L183.5,277.0L183.1,275.2L184.9,276.1L187.1,277.2L189.2,277.5L191.7,276.8L192.5,278.6L190.7,279.3L189.2,279.0L187.8,280.4L186.0,281.1L183.5,282.6L183.1,284.3L184.6,285.7L187.4,286.1L189.9,287.0L191.9,287.2L192.0,288.7L193.2,289.7L194.2,289.7L194.6,287.6L195.7,286.4L195.1,284.7L194.6,283.3L195.3,281.8L197.8,282.0L200.0,282.8L201.1,284.1L202.5,284.9L203.6,284.5L204.7,283.4L205.7,285.1L206.8,286.5L209.3,287.6L210.8,288.3L211.0,289.4L209.7,289.8L207.9,290.7L205.0,290.6L203.2,290.7L201.8,291.4L200.4,292.6L202.9,291.5L204.7,291.7L204.3,292.4L204.4,293.3L205.4,293.8L207.2,294.0L207.8,293.5L208.0,293.8L206.8,294.3L205.4,294.7L203.7,295.5L203.4,294.8L204.7,294.2L203.2,294.3L201.8,294.9L200.6,295.4L200.1,296.2L200.7,296.8L199.6,297.0L197.9,297.6L197.8,298.2L197.1,298.8L196.8,299.6L196.4,300.2L196.8,301.2L196.0,301.8L195.0,302.4L194.1,302.9L193.2,303.6L192.6,304.5L193.1,306.3L193.5,307.7L193.2,308.6L192.7,308.6L192.2,307.7L191.6,306.5L190.9,305.3L189.7,305.4L188.5,304.9L187.1,305.0L186.9,305.8L186.0,305.8L184.9,305.5L183.5,305.5L182.4,306.1L181.2,307.0L181.0,308.2L180.8,310.6L181.7,312.7L182.9,313.4L184.6,313.4L185.6,313.1L186.1,311.6L187.8,311.3L188.6,311.5L188.1,312.7L187.6,313.6L187.6,315.2L189.2,315.3L191.2,316.0L191.0,318.1L190.9,319.0L192.1,320.3L193.9,319.9L195.3,320.6L195.8,320.6L196.8,319.2L197.8,318.7L199.3,317.9L200.0,318.3L199.6,319.0L199.4,320.3L200.0,319.9L200.7,318.5L202.2,319.2L204.3,319.5L206.5,319.0L207.2,319.5L207.9,320.6L209.3,321.7L211.5,322.4L213.6,323.1L214.4,323.9L215.1,325.4L214.7,326.7L216.2,327.4L218.7,327.8L220.8,328.7L223.0,329.2L224.4,330.3L225.7,330.7L225.9,332.5L225.5,333.6L224.4,334.6L223.3,336.1L223.0,338.2L222.6,340.0L221.9,341.5L221.5,342.5L220.1,343.3L218.7,343.8L216.9,344.7L216.2,345.8L216.0,347.2L214.7,349.0L213.3,350.8L212.2,351.7L210.4,351.7L209.0,351.4L209.8,352.6L209.7,354.0L207.9,354.6L206.3,354.6L206.1,355.8L204.7,356.2L204.3,357.3L205.0,357.5L203.9,359.1L202.5,359.9L203.6,360.9L201.9,362.7L201.4,363.7L201.9,364.4L201.1,364.5L201.8,365.2L204.1,366.1L202.2,366.5L200.0,366.2L197.5,364.4L196.9,362.6L197.8,360.5L196.8,360.1L197.8,358.3L198.2,356.5L198.0,354.7L198.4,353.3L199.3,351.2L199.6,349.7L199.6,346.8L200.4,344.7L200.6,341.1L200.5,339.9L199.3,339.1L196.8,337.5L196.2,336.4L195.3,335.0L194.2,332.5L192.8,331.0L192.6,330.0L193.5,328.9L193.5,328.5L192.8,327.4L193.5,326.0L194.3,325.7L195.3,324.2L195.5,322.4L195.0,321.3L193.9,321.5L193.2,321.3L192.5,321.0L191.0,320.6L189.4,319.5L189.4,318.7L188.1,317.5L186.7,317.0L185.3,316.7L184.2,315.5L183.1,315.1L181.7,315.5L180.2,315.0L178.4,314.2L176.7,313.6L175.2,312.4L175.4,311.3L175.1,310.2L173.8,309.1L172.4,307.7L171.3,306.7L170.0,305.2L168.7,304.0L168.7,305.2L169.8,306.3L170.5,307.7L171.8,309.3L172.1,310.3L170.9,309.1L170.4,308.1L169.0,306.9L168.2,305.5L167.1,303.9L166.8,303.2L165.9,302.3L164.4,301.9L163.4,300.4L163.0,299.6L162.1,298.1L161.6,296.6L161.9,293.7L161.4,292.0L162.6,292.0L162.4,291.2L160.8,290.8L159.2,290.1L158.7,289.0L157.6,287.6L156.5,286.5L154.7,285.1L152.9,284.9L150.8,283.8L148.3,283.6L145.8,283.3L144.3,283.4L142.2,284.2L142.3,283.1L140.7,284.3L140.0,285.4L138.6,286.1L136.8,286.8L134.6,287.2L132.7,287.6L134.3,286.9L136.8,285.9L137.9,284.6L134.8,284.6L134.6,283.6L132.5,283.2L132.8,281.5L135.3,280.4L132.8,280.3L131.4,279.9ZM198.6,270.3L202.2,268.9L207.9,267.8L229.4,266.7L238.1,268.2L237.3,270.7L236.6,272.9L235.2,274.7L235.2,276.3L233.0,276.9L228.7,277.9L225.9,279.3L223.0,279.7L221.5,281.1L220.5,282.9L219.4,283.6L218.0,283.1L216.2,282.6L214.7,281.5L213.6,280.0L212.6,278.6L212.9,277.5L214.4,276.8L212.2,276.1L211.1,275.0L210.1,273.2L207.9,272.1L202.9,272.1L199.3,271.1ZM233.4,279.7L234.8,279.0L238.1,278.9L240.6,279.1L241.3,280.0L240.2,280.6L237.7,281.3L234.8,280.9ZM206.5,279.0L204.7,280.0L203.2,282.2L199.6,281.6L197.8,280.4L195.3,280.5L198.6,278.2L199.3,277.2L196.4,276.1L193.5,275.0L189.9,274.0L186.3,273.9L193.5,273.8L196.4,274.5L200.7,275.9L202.2,276.4L202.9,277.2L206.1,278.6ZM258.9,270.3L261.8,271.4L265.4,270.7L267.5,269.6L263.9,269.0L258.9,269.4ZM29.8,275.4L31.9,275.9L33.7,275.9L32.6,274.7L34.1,273.2L36.9,272.5L41.2,271.6L39.8,271.4L34.8,272.1L31.9,273.2L30.5,274.7ZM60.6,270.3L64.2,270.1L67.8,269.6L64.2,268.5L58.5,268.9ZM90.1,272.9L93.7,273.6L98.0,272.9L95.1,272.1L90.8,272.1ZM121.7,275.7L123.9,275.8L123.1,275.4L121.7,275.3ZM246.9,290.8L248.8,290.4L252.0,290.0L252.2,288.9L251.2,288.3L249.9,287.2L249.6,286.5L249.7,285.4L248.8,284.6L247.4,284.6L246.5,285.8L247.0,286.9L247.5,287.4L248.7,287.3L248.5,287.9L248.8,288.4L247.6,288.8L248.0,289.7L247.2,289.6L248.5,289.8ZM246.7,289.4L246.5,288.1L247.0,287.6L246.3,287.1L244.9,287.1L243.8,287.9L243.6,289.4L245.3,289.7ZM190.0,311.0L191.7,310.4L193.5,310.1L195.7,311.1L197.7,312.2L195.3,312.4L195.0,311.9L192.8,311.2L190.7,311.1ZM197.6,313.4L198.8,312.4L201.1,312.7L201.9,313.4L199.6,314.1ZM194.8,313.5L196.3,313.7L195.8,313.9L194.8,313.7ZM202.7,313.4L203.9,313.5L203.8,313.8L202.7,313.8ZM208.3,292.5L210.8,291.2L211.1,289.7L212.6,291.2L213.2,292.6L212.6,293.3L210.8,292.5ZM158.8,290.2L161.2,290.6L162.4,292.0L161.2,291.7L159.4,290.8ZM73.9,342.5L74.4,345.4L74.9,347.9L75.0,350.8L75.4,351.4L77.2,351.9L79.3,351.1L81.1,351.1L82.9,349.9L85.1,349.5L86.6,349.4L88.5,349.9L89.9,351.8L90.5,350.8L91.4,350.4L91.2,352.2L91.9,351.9L92.7,353.0L93.4,354.0L95.5,354.6L96.6,354.2L97.5,354.8L98.4,354.0L100.1,353.7L100.3,352.2L101.1,350.9L101.9,349.7L102.7,347.2L102.4,345.0L101.1,344.0L100.1,342.7L99.2,341.3L97.5,340.3L96.8,338.2L96.8,337.4L95.5,336.8L94.8,334.4L94.1,336.1L94.0,337.9L93.5,339.3L92.4,339.2L90.5,337.9L89.7,337.4L90.7,335.5L90.1,335.3L87.6,335.0L86.5,335.5L85.4,337.4L84.3,337.1L83.3,336.8L81.8,338.5L80.2,339.3L79.7,340.7L77.5,341.3L76.1,341.6L74.7,342.4ZM96.3,356.0L98.9,356.1L98.7,357.8L97.3,358.0L96.7,356.9ZM116.5,351.4L117.7,352.2L118.8,353.5L120.6,353.8L120.2,354.9L119.4,355.3L118.3,356.6L117.8,356.4L118.1,355.4L117.2,354.9L117.8,354.0L117.6,352.9ZM116.5,355.8L117.6,356.7L116.9,357.8L115.4,358.6L114.9,359.7L113.8,360.2L112.0,359.8L112.1,359.1L113.3,358.3L114.9,357.5L115.6,356.7ZM60.9,322.7L62.4,323.0L64.4,325.1L67.0,327.4L68.5,328.9L68.4,330.9L67.5,331.0L65.9,329.6L64.8,328.2L63.9,326.7L63.2,325.3L61.7,324.1ZM68.0,331.6L68.9,331.0L70.2,331.3L71.8,331.7L73.4,331.7L74.6,332.3L74.6,333.0L72.1,332.6L70.0,332.3L68.2,331.7ZM75.0,332.6L77.9,332.7L80.0,332.7L82.2,332.5L83.6,332.8L82.2,333.5L81.1,334.1L79.3,333.6L77.2,333.2L75.0,333.1ZM70.7,325.6L71.1,325.3L72.1,325.6L73.6,324.4L75.2,323.0L76.3,321.7L78.0,323.0L77.2,323.6L77.0,326.0L77.9,326.1L76.8,327.3L76.1,328.5L75.7,329.5L74.6,329.6L73.6,329.0L72.1,328.9L71.4,328.0L70.7,326.9ZM78.2,330.7L78.9,330.8L78.8,328.7L79.3,328.6L79.5,330.2L80.6,330.1L79.7,328.0L81.0,327.4L80.4,327.2L79.0,327.4L78.8,326.4L80.8,326.4L82.1,325.7L81.8,326.4L78.6,326.2L78.5,327.3L77.7,328.6ZM84.0,325.3L84.7,325.7L84.3,326.4L84.8,327.1L84.0,327.3L83.8,326.2ZM86.5,327.8L87.6,327.0L89.0,327.4L89.7,329.0L91.5,328.0L93.7,328.6L96.2,329.5L97.3,330.7L98.4,331.2L99.1,332.8L100.5,334.3L99.8,334.1L98.4,334.0L97.3,332.6L95.8,332.3L95.4,333.2L94.8,333.4L93.7,333.3L92.6,332.5L91.6,332.8L91.3,330.4L89.4,329.9L87.9,329.6L87.2,328.7L88.3,328.3L87.4,328.2ZM99.1,330.7L100.5,330.7L101.6,329.7L101.2,330.7L99.4,331.2ZM79.0,313.4L80.2,313.4L80.3,314.9L79.7,315.5L79.8,316.5L81.5,316.8L81.6,317.7L80.6,317.4L79.3,316.8L79.0,316.3L78.5,315.2ZM80.0,321.7L81.1,321.2L82.5,319.9L83.3,321.0L83.1,322.2L82.4,322.7L81.5,322.2ZM80.0,318.3L81.1,319.2L82.2,318.5L82.7,317.8L81.8,317.8L80.8,319.5L80.0,319.2ZM76.6,320.7L78.2,318.5L78.0,319.3L76.8,320.8ZM78.7,310.2L79.3,308.6L80.0,308.8L79.2,310.9ZM70.4,312.9L71.8,312.3L72.1,312.7L71.1,313.7ZM86.4,302.3L87.6,301.3L89.7,301.2L90.7,299.9L91.9,299.8L93.0,298.4L93.0,297.0L94.0,297.1L94.4,298.4L93.7,299.2L93.6,300.5L93.2,301.5L92.2,301.7L90.7,302.1L89.4,302.5L89.0,301.9L87.6,302.3ZM93.0,296.9L93.0,295.6L94.2,294.1L95.8,295.0L96.8,295.6L95.3,296.6L93.7,296.3ZM85.6,302.7L86.5,302.4L87.2,303.0L86.6,304.3L85.9,304.3L85.6,303.2ZM87.6,303.0L89.2,302.3L88.8,302.8L87.9,303.2ZM94.4,293.7L95.5,293.3L95.1,291.2L96.2,291.5L95.3,289.7L95.0,287.7L94.5,287.9L94.5,290.1L94.3,291.9ZM49.8,319.7L50.7,320.6L51.2,321.5L50.8,322.3L50.0,322.4L49.7,321.3ZM27.8,335.3L28.7,337.9L28.0,339.3L27.2,341.5L26.5,344.0L26.2,344.7L24.9,345.0L24.0,344.5L23.5,342.5L24.2,341.1L24.0,338.9L25.4,338.1L26.5,337.1L27.5,336.1ZM110.2,341.2L112.4,342.7L112.0,342.8L110.3,341.7ZM119.8,339.3L120.7,339.1L120.5,339.8L119.8,339.7ZM138.9,312.2L139.8,312.7L139.0,313.2L138.9,312.5ZM-136.9,382.8L-129.7,382.8L-122.5,382.0L-115.4,381.0L-108.2,380.5L-101.0,379.7L-97.4,378.7L-90.2,378.6L-82.3,378.4L-78.0,379.5L-72.3,379.9L-66.5,379.5L-61.5,378.1L-57.9,376.3L-54.3,374.1L-50.7,372.7L-48.5,372.1L-49.3,373.1L-51.4,374.5L-52.9,376.3L-52.1,378.4L-50.7,381.3L-43.5,382.8L-32.7,382.8L-25.6,381.3L-19.8,377.9L-14.8,377.7L-7.6,377.6L-0.4,377.6L6.8,377.3L10.4,376.8L15.4,376.3L21.7,374.9L28.3,374.5L35.5,374.3L39.8,374.9L41.2,377.0L42.7,378.1L44.1,376.3L47.0,374.9L53.5,374.1L60.6,373.6L67.1,373.1L75.0,373.6L82.2,373.8L89.4,374.0L95.6,374.3L100.1,374.9L105.9,375.6L108.8,376.2L111.6,377.2L115.2,378.4L116.4,381.3L116.0,382.8L121.7,382.8L121.7,391.4L-136.9,391.4ZM121.7,382.8L128.9,382.8L136.1,382.0L143.2,381.0L150.4,380.5L157.6,379.7L161.2,378.7L168.4,378.6L176.3,378.4L180.6,379.5L186.3,379.9L192.1,379.5L197.1,378.1L200.7,376.3L204.3,374.1L207.9,372.7L210.1,372.1L209.3,373.1L207.2,374.5L205.7,376.3L206.5,378.4L207.9,381.3L215.1,382.8L225.9,382.8L233.0,381.3L238.8,377.9L243.8,377.7L251.0,377.6L258.2,377.6L265.4,377.3L269.0,376.8L274.0,376.3L280.3,374.9L286.9,374.5L294.1,374.3L298.4,374.9L299.8,377.0L301.3,378.1L302.7,376.3L305.6,374.9L312.1,374.1L319.2,373.6L325.7,373.1L333.6,373.6L340.8,373.8L348.0,374.0L354.1,374.3L358.7,374.9L364.5,375.6L367.4,376.2L370.2,377.2L373.8,378.4L375.0,381.3L374.6,382.8L380.3,382.8L380.3,391.4L121.7,391.4Z" fill="#858585" stroke="#000" stroke-width="0.85" stroke-linejoin="round"/><path d="M26.2,294.0L27.6,293.3L29.4,293.0L30.5,294.0L29.0,294.8L29.4,296.2L30.5,296.6L31.2,298.0L30.5,299.8L29.0,300.3L27.6,299.8L28.0,297.6L26.9,296.6L26.5,295.5Z" fill="none" stroke="#000" stroke-width="0.7"/><path d="M-96.7,273.4L-90.2,273.3L-83.0,273.1L-75.8,273.3L-70.8,273.4M161.9,273.4L168.4,273.3L175.6,273.1L182.8,273.3L187.8,273.4M-92.4,274.7L-88.1,275.0L-82.3,275.4M166.2,274.7L170.5,275.0L176.3,275.4M-79.4,274.7L-76.6,274.3L-73.7,275.0M179.2,274.7L182.0,274.3L184.9,275.0M-88.1,272.1L-83.0,271.9L-78.0,271.6M170.5,272.1L175.6,271.9L180.6,271.6M-75.8,271.8L-72.3,271.1L-66.5,270.8L-63.6,270.3M182.8,271.8L186.3,271.1L192.1,270.8L195.0,270.3M-92.4,276.1L-86.6,276.2L-80.9,276.8M166.2,276.1L172.0,276.2L177.7,276.8M-68.7,276.1L-66.5,275.4L-63.6,274.9M189.9,276.1L192.1,275.4L195.0,274.9M-72.3,270.0L-65.1,269.1L-59.3,268.7M186.3,270.0L193.5,269.1L199.3,268.7" fill="none" stroke="#000" stroke-width="0.6"/><path d="M35.50,268.93V379.92999999999995M78.60,268.93V379.92999999999995M121.70,268.93V379.92999999999995M164.80,268.93V379.92999999999995M207.90,268.93V379.92999999999995M251.00,268.93V379.92999999999995M10.4,283.63H269.1M10.4,298.00H269.1M10.4,312.36H269.1M10.4,326.73H269.1M10.4,355.46H269.1M10.4,369.83H269.1M10.4,341.10H269.1" stroke="#000" stroke-width="1" opacity="0.6" fill="none"/></g><rect x="10.4" y="268.93" width="258.7" height="111.0" fill="none" stroke="#000" stroke-width="1.1"/><rect x="272.40" y="268.93" width="5.47" height="1.55" fill="#3d86b7"/><rect x="277.82" y="268.93" width="5.47" height="1.55" fill="#6aa1bc"/><rect x="283.23" y="268.93" width="5.47" height="1.55" fill="#206fbb"/><rect x="288.65" y="268.93" width="5.47" height="1.55" fill="#3d86b7"/><rect x="294.07" y="268.93" width="5.47" height="1.55" fill="#3d86b7"/><rect x="299.48" y="268.93" width="5.47" height="1.55" fill="#206fbb"/><rect x="304.90" y="268.93" width="5.47" height="1.55" fill="#206fbb"/><rect x="310.32" y="268.93" width="5.47" height="1.55" fill="#3d86b7"/><rect x="315.73" y="268.93" width="5.47" height="1.55" fill="#206fbb"/><rect x="321.15" y="268.93" width="5.47" height="1.55" fill="#3d86b7"/><rect x="326.57" y="268.93" width="5.47" height="1.55" fill="#6aa1bc"/><rect x="331.98" y="268.93" width="5.47" height="1.55" fill="#3d86b7"/><rect x="272.40" y="270.43" width="5.47" height="1.55" fill="#b6ccd1"/><rect x="277.82" y="270.43" width="5.47" height="1.55" fill="#a0c0c8"/><rect x="283.23" y="270.43" width="5.47" height="1.55" fill="#cbd7da"/><rect x="288.65" y="270.43" width="5.47" height="1.55" fill="#cbd7da"/><rect x="294.07" y="270.43" width="5.47" height="1.55" fill="#cbd7da"/><rect x="299.48" y="270.43" width="5.47" height="1.55" fill="#cbd7da"/><rect x="304.90" y="270.43" width="5.47" height="1.55" fill="#cbd7da"/><rect x="310.32" y="270.43" width="5.47" height="1.55" fill="#cbd7da"/><rect x="315.73" y="270.43" width="5.47" height="1.55" fill="#cbd7da"/><rect x="321.15" y="270.43" width="5.47" height="1.55" fill="#cbd7da"/><rect x="326.57" y="270.43" width="5.47" height="1.55" fill="#cbd7da"/><rect x="331.98" y="270.43" width="5.47" height="1.55" fill="#cbd7da"/><rect x="272.40" y="271.93" width="5.47" height="2.05" fill="#dee2e2"/><rect x="277.82" y="271.93" width="5.47" height="2.05" fill="#b6ccd1"/><rect x="283.23" y="271.93" width="5.47" height="2.05" fill="#f1ecea"/><rect x="288.65" y="271.93" width="5.47" height="2.05" fill="#f1ecea"/><rect x="294.07" y="271.93" width="5.47" height="2.05" fill="#f1ecea"/><rect x="299.48" y="271.93" width="5.47" height="2.05" fill="#ebdad4"/><rect x="304.90" y="271.93" width="5.47" height="2.05" fill="#f1ecea"/><rect x="310.32" y="271.93" width="5.47" height="2.05" fill="#f1ecea"/><rect x="315.73" y="271.93" width="5.47" height="2.05" fill="#ebdad4"/><rect x="321.15" y="271.93" width="5.47" height="2.05" fill="#ebdad4"/><rect x="326.57" y="271.93" width="5.47" height="2.05" fill="#f1ecea"/><rect x="331.98" y="271.93" width="5.47" height="2.05" fill="#dee2e2"/><rect x="272.40" y="273.93" width="5.47" height="2.05" fill="#f1ecea"/><rect x="277.82" y="273.93" width="5.47" height="2.05" fill="#dee2e2"/><rect x="283.23" y="273.93" width="5.47" height="2.05" fill="#e5c8bd"/><rect x="288.65" y="273.93" width="5.47" height="2.05" fill="#e1b9ab"/><rect x="294.07" y="273.93" width="5.47" height="2.05" fill="#e1b9ab"/><rect x="299.48" y="273.93" width="5.47" height="2.05" fill="#e5c8bd"/><rect x="304.90" y="273.93" width="5.47" height="2.05" fill="#f1ecea"/><rect x="310.32" y="273.93" width="5.47" height="2.05" fill="#e5c8bd"/><rect x="315.73" y="273.93" width="5.47" height="2.05" fill="#e5c8bd"/><rect x="321.15" y="273.93" width="5.47" height="2.05" fill="#ebdad4"/><rect x="326.57" y="273.93" width="5.47" height="2.05" fill="#f1ecea"/><rect x="331.98" y="273.93" width="5.47" height="2.05" fill="#f1ecea"/><rect x="272.40" y="275.93" width="5.47" height="2.05" fill="#cbd7da"/><rect x="277.82" y="275.93" width="5.47" height="2.05" fill="#cbd7da"/><rect x="283.23" y="275.93" width="5.47" height="2.05" fill="#cbd7da"/><rect x="288.65" y="275.93" width="5.47" height="2.05" fill="#cbd7da"/><rect x="294.07" y="275.93" width="5.47" height="2.05" fill="#cbd7da"/><rect x="299.48" y="275.93" width="5.47" height="2.05" fill="#cbd7da"/><rect x="304.90" y="275.93" width="5.47" height="2.05" fill="#cbd7da"/><rect x="310.32" y="275.93" width="5.47" height="2.05" fill="#cbd7da"/><rect x="315.73" y="275.93" width="5.47" height="2.05" fill="#cbd7da"/><rect x="321.15" y="275.93" width="5.47" height="2.05" fill="#cbd7da"/><rect x="326.57" y="275.93" width="5.47" height="2.05" fill="#cbd7da"/><rect x="331.98" y="275.93" width="5.47" height="2.05" fill="#cbd7da"/><rect x="272.40" y="277.93" width="5.47" height="2.05" fill="#a0c0c8"/><rect x="277.82" y="277.93" width="5.47" height="2.05" fill="#ddab98"/><rect x="283.23" y="277.93" width="5.47" height="2.05" fill="#e1b9ab"/><rect x="288.65" y="277.93" width="5.47" height="2.05" fill="#f1ecea"/><rect x="294.07" y="277.93" width="5.47" height="2.05" fill="#ddab98"/><rect x="299.48" y="277.93" width="5.47" height="2.05" fill="#ddab98"/><rect x="304.90" y="277.93" width="5.47" height="2.05" fill="#f1ecea"/><rect x="310.32" y="277.93" width="5.47" height="2.05" fill="#f1ecea"/><rect x="315.73" y="277.93" width="5.47" height="2.05" fill="#cbd7da"/><rect x="321.15" y="277.93" width="5.47" height="2.05" fill="#cbd7da"/><rect x="326.57" y="277.93" width="5.47" height="2.05" fill="#cbd7da"/><rect x="331.98" y="277.93" width="5.47" height="2.05" fill="#b6ccd1"/><rect x="272.40" y="279.93" width="5.47" height="2.05" fill="#3d86b7"/><rect x="277.82" y="279.93" width="5.47" height="2.05" fill="#206fbb"/><rect x="283.23" y="279.93" width="5.47" height="2.05" fill="#3d86b7"/><rect x="288.65" y="279.93" width="5.47" height="2.05" fill="#3d86b7"/><rect x="294.07" y="279.93" width="5.47" height="2.05" fill="#206fbb"/><rect x="299.48" y="279.93" width="5.47" height="2.05" fill="#185ac0"/><rect x="304.90" y="279.93" width="5.47" height="2.05" fill="#206fbb"/><rect x="310.32" y="279.93" width="5.47" height="2.05" fill="#3d86b7"/><rect x="315.73" y="279.93" width="5.47" height="2.05" fill="#3d86b7"/><rect x="321.15" y="279.93" width="5.47" height="2.05" fill="#206fbb"/><rect x="326.57" y="279.93" width="5.47" height="2.05" fill="#206fbb"/><rect x="331.98" y="279.93" width="5.47" height="2.05" fill="#206fbb"/><rect x="272.40" y="281.93" width="5.47" height="2.05" fill="#6aa1bc"/><rect x="277.82" y="281.93" width="5.47" height="2.05" fill="#6aa1bc"/><rect x="283.23" y="281.93" width="5.47" height="2.05" fill="#6aa1bc"/><rect x="288.65" y="281.93" width="5.47" height="2.05" fill="#6aa1bc"/><rect x="294.07" y="281.93" width="5.47" height="2.05" fill="#6aa1bc"/><rect x="299.48" y="281.93" width="5.47" height="2.05" fill="#6aa1bc"/><rect x="304.90" y="281.93" width="5.47" height="2.05" fill="#6aa1bc"/><rect x="310.32" y="281.93" width="5.47" height="2.05" fill="#6aa1bc"/><rect x="315.73" y="281.93" width="5.47" height="2.05" fill="#6aa1bc"/><rect x="321.15" y="281.93" width="5.47" height="2.05" fill="#6aa1bc"/><rect x="326.57" y="281.93" width="5.47" height="2.05" fill="#6aa1bc"/><rect x="331.98" y="281.93" width="5.47" height="2.05" fill="#6aa1bc"/><rect x="272.40" y="283.93" width="5.47" height="2.05" fill="#206fbb"/><rect x="277.82" y="283.93" width="5.47" height="2.05" fill="#3d86b7"/><rect x="283.23" y="283.93" width="5.47" height="2.05" fill="#3d86b7"/><rect x="288.65" y="283.93" width="5.47" height="2.05" fill="#6aa1bc"/><rect x="294.07" y="283.93" width="5.47" height="2.05" fill="#6aa1bc"/><rect x="299.48" y="283.93" width="5.47" height="2.05" fill="#6aa1bc"/><rect x="304.90" y="283.93" width="5.47" height="2.05" fill="#6aa1bc"/><rect x="310.32" y="283.93" width="5.47" height="2.05" fill="#6aa1bc"/><rect x="315.73" y="283.93" width="5.47" height="2.05" fill="#3d86b7"/><rect x="321.15" y="283.93" width="5.47" height="2.05" fill="#206fbb"/><rect x="326.57" y="283.93" width="5.47" height="2.05" fill="#185ac0"/><rect x="331.98" y="283.93" width="5.47" height="2.05" fill="#185ac0"/><rect x="272.40" y="285.93" width="5.47" height="2.05" fill="#3d86b7"/><rect x="277.82" y="285.93" width="5.47" height="2.05" fill="#3d86b7"/><rect x="283.23" y="285.93" width="5.47" height="2.05" fill="#3d86b7"/><rect x="288.65" y="285.93" width="5.47" height="2.05" fill="#3d86b7"/><rect x="294.07" y="285.93" width="5.47" height="2.05" fill="#6aa1bc"/><rect x="299.48" y="285.93" width="5.47" height="2.05" fill="#6aa1bc"/><rect x="304.90" y="285.93" width="5.47" height="2.05" fill="#84b0c1"/><rect x="310.32" y="285.93" width="5.47" height="2.05" fill="#6aa1bc"/><rect x="315.73" y="285.93" width="5.47" height="2.05" fill="#6aa1bc"/><rect x="321.15" y="285.93" width="5.47" height="2.05" fill="#6aa1bc"/><rect x="326.57" y="285.93" width="5.47" height="2.05" fill="#3d86b7"/><rect x="331.98" y="285.93" width="5.47" height="2.05" fill="#3d86b7"/><rect x="272.40" y="287.93" width="5.47" height="2.05" fill="#3d86b7"/><rect x="277.82" y="287.93" width="5.47" height="2.05" fill="#206fbb"/><rect x="283.23" y="287.93" width="5.47" height="2.05" fill="#3d86b7"/><rect x="288.65" y="287.93" width="5.47" height="2.05" fill="#3d86b7"/><rect x="294.07" y="287.93" width="5.47" height="2.05" fill="#6aa1bc"/><rect x="299.48" y="287.93" width="5.47" height="2.05" fill="#84b0c1"/><rect x="304.90" y="287.93" width="5.47" height="2.05" fill="#a0c0c8"/><rect x="310.32" y="287.93" width="5.47" height="2.05" fill="#a0c0c8"/><rect x="315.73" y="287.93" width="5.47" height="2.05" fill="#6aa1bc"/><rect x="321.15" y="287.93" width="5.47" height="2.05" fill="#6aa1bc"/><rect x="326.57" y="287.93" width="5.47" height="2.05" fill="#3d86b7"/><rect x="331.98" y="287.93" width="5.47" height="2.05" fill="#3d86b7"/><rect x="272.40" y="289.93" width="5.47" height="2.05" fill="#6aa1bc"/><rect x="277.82" y="289.93" width="5.47" height="2.05" fill="#6aa1bc"/><rect x="283.23" y="289.93" width="5.47" height="2.05" fill="#6aa1bc"/><rect x="288.65" y="289.93" width="5.47" height="2.05" fill="#84b0c1"/><rect x="294.07" y="289.93" width="5.47" height="2.05" fill="#a0c0c8"/><rect x="299.48" y="289.93" width="5.47" height="2.05" fill="#a0c0c8"/><rect x="304.90" y="289.93" width="5.47" height="2.05" fill="#a0c0c8"/><rect x="310.32" y="289.93" width="5.47" height="2.05" fill="#a0c0c8"/><rect x="315.73" y="289.93" width="5.47" height="2.05" fill="#a0c0c8"/><rect x="321.15" y="289.93" width="5.47" height="2.05" fill="#84b0c1"/><rect x="326.57" y="289.93" width="5.47" height="2.05" fill="#6aa1bc"/><rect x="331.98" y="289.93" width="5.47" height="2.05" fill="#6aa1bc"/><rect x="272.40" y="291.93" width="5.47" height="2.05" fill="#cbd7da"/><rect x="277.82" y="291.93" width="5.47" height="2.05" fill="#cbd7da"/><rect x="283.23" y="291.93" width="5.47" height="2.05" fill="#f1ecea"/><rect x="288.65" y="291.93" width="5.47" height="2.05" fill="#f1ecea"/><rect x="294.07" y="291.93" width="5.47" height="2.05" fill="#ebdad4"/><rect x="299.48" y="291.93" width="5.47" height="2.05" fill="#e5c8bd"/><rect x="304.90" y="291.93" width="5.47" height="2.05" fill="#e5c8bd"/><rect x="310.32" y="291.93" width="5.47" height="2.05" fill="#e5c8bd"/><rect x="315.73" y="291.93" width="5.47" height="2.05" fill="#e5c8bd"/><rect x="321.15" y="291.93" width="5.47" height="2.05" fill="#e1b9ab"/><rect x="326.57" y="291.93" width="5.47" height="2.05" fill="#e5c8bd"/><rect x="331.98" y="291.93" width="5.47" height="2.05" fill="#f1ecea"/><rect x="272.40" y="293.93" width="5.47" height="2.05" fill="#cbd7da"/><rect x="277.82" y="293.93" width="5.47" height="2.05" fill="#f1ecea"/><rect x="283.23" y="293.93" width="5.47" height="2.05" fill="#f1ecea"/><rect x="288.65" y="293.93" width="5.47" height="2.05" fill="#f1ecea"/><rect x="294.07" y="293.93" width="5.47" height="2.05" fill="#ebdad4"/><rect x="299.48" y="293.93" width="5.47" height="2.05" fill="#e5c8bd"/><rect x="304.90" y="293.93" width="5.47" height="2.05" fill="#e1b9ab"/><rect x="310.32" y="293.93" width="5.47" height="2.05" fill="#e1b9ab"/><rect x="315.73" y="293.93" width="5.47" height="2.05" fill="#e1b9ab"/><rect x="321.15" y="293.93" width="5.47" height="2.05" fill="#e1b9ab"/><rect x="326.57" y="293.93" width="5.47" height="2.05" fill="#e5c8bd"/><rect x="331.98" y="293.93" width="5.47" height="2.05" fill="#f1ecea"/><rect x="272.40" y="295.93" width="5.47" height="2.05" fill="#f1ecea"/><rect x="277.82" y="295.93" width="5.47" height="2.05" fill="#f1ecea"/><rect x="283.23" y="295.93" width="5.47" height="2.05" fill="#f1ecea"/><rect x="288.65" y="295.93" width="5.47" height="2.05" fill="#f1ecea"/><rect x="294.07" y="295.93" width="5.47" height="2.05" fill="#f1ecea"/><rect x="299.48" y="295.93" width="5.47" height="2.05" fill="#f1ecea"/><rect x="304.90" y="295.93" width="5.47" height="2.05" fill="#f1ecea"/><rect x="310.32" y="295.93" width="5.47" height="2.05" fill="#f1ecea"/><rect x="315.73" y="295.93" width="5.47" height="2.05" fill="#f1ecea"/><rect x="321.15" y="295.93" width="5.47" height="2.05" fill="#f1ecea"/><rect x="326.57" y="295.93" width="5.47" height="2.05" fill="#f1ecea"/><rect x="331.98" y="295.93" width="5.47" height="2.05" fill="#f1ecea"/><rect x="272.40" y="297.93" width="5.47" height="2.05" fill="#cbd7da"/><rect x="277.82" y="297.93" width="5.47" height="2.05" fill="#cbd7da"/><rect x="283.23" y="297.93" width="5.47" height="2.05" fill="#cbd7da"/><rect x="288.65" y="297.93" width="5.47" height="2.05" fill="#cbd7da"/><rect x="294.07" y="297.93" width="5.47" height="2.05" fill="#a0c0c8"/><rect x="299.48" y="297.93" width="5.47" height="2.05" fill="#b6ccd1"/><rect x="304.90" y="297.93" width="5.47" height="2.05" fill="#b6ccd1"/><rect x="310.32" y="297.93" width="5.47" height="2.05" fill="#a0c0c8"/><rect x="315.73" y="297.93" width="5.47" height="2.05" fill="#b6ccd1"/><rect x="321.15" y="297.93" width="5.47" height="2.05" fill="#b6ccd1"/><rect x="326.57" y="297.93" width="5.47" height="2.05" fill="#cbd7da"/><rect x="331.98" y="297.93" width="5.47" height="2.05" fill="#cbd7da"/><rect x="272.40" y="299.93" width="5.47" height="2.05" fill="#ebdad4"/><rect x="277.82" y="299.93" width="5.47" height="2.05" fill="#ebdad4"/><rect x="283.23" y="299.93" width="5.47" height="2.05" fill="#f1ecea"/><rect x="288.65" y="299.93" width="5.47" height="2.05" fill="#f1ecea"/><rect x="294.07" y="299.93" width="5.47" height="2.05" fill="#cbd7da"/><rect x="299.48" y="299.93" width="5.47" height="2.05" fill="#cbd7da"/><rect x="304.90" y="299.93" width="5.47" height="2.05" fill="#cbd7da"/><rect x="310.32" y="299.93" width="5.47" height="2.05" fill="#cbd7da"/><rect x="315.73" y="299.93" width="5.47" height="2.05" fill="#cbd7da"/><rect x="321.15" y="299.93" width="5.47" height="2.05" fill="#cbd7da"/><rect x="326.57" y="299.93" width="5.47" height="2.05" fill="#cbd7da"/><rect x="331.98" y="299.93" width="5.47" height="2.05" fill="#dee2e2"/><rect x="272.40" y="301.93" width="5.47" height="2.05" fill="#b6ccd1"/><rect x="277.82" y="301.93" width="5.47" height="2.05" fill="#b6ccd1"/><rect x="283.23" y="301.93" width="5.47" height="2.05" fill="#cbd7da"/><rect x="288.65" y="301.93" width="5.47" height="2.05" fill="#cbd7da"/><rect x="294.07" y="301.93" width="5.47" height="2.05" fill="#b6ccd1"/><rect x="299.48" y="301.93" width="5.47" height="2.05" fill="#b6ccd1"/><rect x="304.90" y="301.93" width="5.47" height="2.05" fill="#a0c0c8"/><rect x="310.32" y="301.93" width="5.47" height="2.05" fill="#a0c0c8"/><rect x="315.73" y="301.93" width="5.47" height="2.05" fill="#a0c0c8"/><rect x="321.15" y="301.93" width="5.47" height="2.05" fill="#b6ccd1"/><rect x="326.57" y="301.93" width="5.47" height="2.05" fill="#cbd7da"/><rect x="331.98" y="301.93" width="5.47" height="2.05" fill="#cbd7da"/><rect x="272.40" y="303.93" width="5.47" height="2.05" fill="#e5c8bd"/><rect x="277.82" y="303.93" width="5.47" height="2.05" fill="#e5c8bd"/><rect x="283.23" y="303.93" width="5.47" height="2.05" fill="#e5c8bd"/><rect x="288.65" y="303.93" width="5.47" height="2.05" fill="#e5c8bd"/><rect x="294.07" y="303.93" width="5.47" height="2.05" fill="#ebdad4"/><rect x="299.48" y="303.93" width="5.47" height="2.05" fill="#ebdad4"/><rect x="304.90" y="303.93" width="5.47" height="2.05" fill="#ebdad4"/><rect x="310.32" y="303.93" width="5.47" height="2.05" fill="#ebdad4"/><rect x="315.73" y="303.93" width="5.47" height="2.05" fill="#ebdad4"/><rect x="321.15" y="303.93" width="5.47" height="2.05" fill="#ebdad4"/><rect x="326.57" y="303.93" width="5.47" height="2.05" fill="#ebdad4"/><rect x="331.98" y="303.93" width="5.47" height="2.05" fill="#e5c8bd"/><rect x="272.40" y="305.93" width="5.47" height="2.05" fill="#e5c8bd"/><rect x="277.82" y="305.93" width="5.47" height="2.05" fill="#ebdad4"/><rect x="283.23" y="305.93" width="5.47" height="2.05" fill="#ebdad4"/><rect x="288.65" y="305.93" width="5.47" height="2.05" fill="#ebdad4"/><rect x="294.07" y="305.93" width="5.47" height="2.05" fill="#f1ecea"/><rect x="299.48" y="305.93" width="5.47" height="2.05" fill="#f1ecea"/><rect x="304.90" y="305.93" width="5.47" height="2.05" fill="#ebdad4"/><rect x="310.32" y="305.93" width="5.47" height="2.05" fill="#ebdad4"/><rect x="315.73" y="305.93" width="5.47" height="2.05" fill="#ebdad4"/><rect x="321.15" y="305.93" width="5.47" height="2.05" fill="#ebdad4"/><rect x="326.57" y="305.93" width="5.47" height="2.05" fill="#ebdad4"/><rect x="331.98" y="305.93" width="5.47" height="2.05" fill="#e5c8bd"/><rect x="272.40" y="307.93" width="5.47" height="2.05" fill="#e5c8bd"/><rect x="277.82" y="307.93" width="5.47" height="2.05" fill="#e5c8bd"/><rect x="283.23" y="307.93" width="5.47" height="2.05" fill="#e5c8bd"/><rect x="288.65" y="307.93" width="5.47" height="2.05" fill="#ebdad4"/><rect x="294.07" y="307.93" width="5.47" height="2.05" fill="#ebdad4"/><rect x="299.48" y="307.93" width="5.47" height="2.05" fill="#ebdad4"/><rect x="304.90" y="307.93" width="5.47" height="2.05" fill="#e5c8bd"/><rect x="310.32" y="307.93" width="5.47" height="2.05" fill="#e5c8bd"/><rect x="315.73" y="307.93" width="5.47" height="2.05" fill="#ebdad4"/><rect x="321.15" y="307.93" width="5.47" height="2.05" fill="#ebdad4"/><rect x="326.57" y="307.93" width="5.47" height="2.05" fill="#e5c8bd"/><rect x="331.98" y="307.93" width="5.47" height="2.05" fill="#e5c8bd"/><rect x="272.40" y="309.93" width="5.47" height="2.05" fill="#ebdad4"/><rect x="277.82" y="309.93" width="5.47" height="2.05" fill="#ebdad4"/><rect x="283.23" y="309.93" width="5.47" height="2.05" fill="#ebdad4"/><rect x="288.65" y="309.93" width="5.47" height="2.05" fill="#ebdad4"/><rect x="294.07" y="309.93" width="5.47" height="2.05" fill="#ebdad4"/><rect x="299.48" y="309.93" width="5.47" height="2.05" fill="#ebdad4"/><rect x="304.90" y="309.93" width="5.47" height="2.05" fill="#ebdad4"/><rect x="310.32" y="309.93" width="5.47" height="2.05" fill="#ebdad4"/><rect x="315.73" y="309.93" width="5.47" height="2.05" fill="#ebdad4"/><rect x="321.15" y="309.93" width="5.47" height="2.05" fill="#ebdad4"/><rect x="326.57" y="309.93" width="5.47" height="2.05" fill="#ebdad4"/><rect x="331.98" y="309.93" width="5.47" height="2.05" fill="#ebdad4"/><rect x="272.40" y="311.93" width="5.47" height="2.05" fill="#e1b9ab"/><rect x="277.82" y="311.93" width="5.47" height="2.05" fill="#e1b9ab"/><rect x="283.23" y="311.93" width="5.47" height="2.05" fill="#e1b9ab"/><rect x="288.65" y="311.93" width="5.47" height="2.05" fill="#e5c8bd"/><rect x="294.07" y="311.93" width="5.47" height="2.05" fill="#ebdad4"/><rect x="299.48" y="311.93" width="5.47" height="2.05" fill="#dee2e2"/><rect x="304.90" y="311.93" width="5.47" height="2.05" fill="#dee2e2"/><rect x="310.32" y="311.93" width="5.47" height="2.05" fill="#dee2e2"/><rect x="315.73" y="311.93" width="5.47" height="2.05" fill="#dee2e2"/><rect x="321.15" y="311.93" width="5.47" height="2.05" fill="#f1ecea"/><rect x="326.57" y="311.93" width="5.47" height="2.05" fill="#e5c8bd"/><rect x="331.98" y="311.93" width="5.47" height="2.05" fill="#e1b9ab"/><rect x="272.40" y="313.93" width="5.47" height="2.05" fill="#ddab98"/><rect x="277.82" y="313.93" width="5.47" height="2.05" fill="#ddab98"/><rect x="283.23" y="313.93" width="5.47" height="2.05" fill="#e1b9ab"/><rect x="288.65" y="313.93" width="5.47" height="2.05" fill="#e1b9ab"/><rect x="294.07" y="313.93" width="5.47" height="2.05" fill="#f1ecea"/><rect x="299.48" y="313.93" width="5.47" height="2.05" fill="#b6ccd1"/><rect x="304.90" y="313.93" width="5.47" height="2.05" fill="#b6ccd1"/><rect x="310.32" y="313.93" width="5.47" height="2.05" fill="#b6ccd1"/><rect x="315.73" y="313.93" width="5.47" height="2.05" fill="#cbd7da"/><rect x="321.15" y="313.93" width="5.47" height="2.05" fill="#dee2e2"/><rect x="326.57" y="313.93" width="5.47" height="2.05" fill="#e5c8bd"/><rect x="331.98" y="313.93" width="5.47" height="2.05" fill="#e1b9ab"/><rect x="272.40" y="315.93" width="5.47" height="2.05" fill="#d99e87"/><rect x="277.82" y="315.93" width="5.47" height="2.05" fill="#d49176"/><rect x="283.23" y="315.93" width="5.47" height="2.05" fill="#ddab98"/><rect x="288.65" y="315.93" width="5.47" height="2.05" fill="#e5c8bd"/><rect x="294.07" y="315.93" width="5.47" height="2.05" fill="#f1ecea"/><rect x="299.48" y="315.93" width="5.47" height="2.05" fill="#b6ccd1"/><rect x="304.90" y="315.93" width="5.47" height="2.05" fill="#a0c0c8"/><rect x="310.32" y="315.93" width="5.47" height="2.05" fill="#6aa1bc"/><rect x="315.73" y="315.93" width="5.47" height="2.05" fill="#84b0c1"/><rect x="321.15" y="315.93" width="5.47" height="2.05" fill="#6aa1bc"/><rect x="326.57" y="315.93" width="5.47" height="2.05" fill="#cbd7da"/><rect x="331.98" y="315.93" width="5.47" height="2.05" fill="#e1b9ab"/><rect x="272.40" y="317.93" width="5.47" height="2.05" fill="#e5c8bd"/><rect x="277.82" y="317.93" width="5.47" height="2.05" fill="#e5c8bd"/><rect x="283.23" y="317.93" width="5.47" height="2.05" fill="#f1ecea"/><rect x="288.65" y="317.93" width="5.47" height="2.05" fill="#f1ecea"/><rect x="294.07" y="317.93" width="5.47" height="2.05" fill="#cbd7da"/><rect x="299.48" y="317.93" width="5.47" height="2.05" fill="#b6ccd1"/><rect x="304.90" y="317.93" width="5.47" height="2.05" fill="#a0c0c8"/><rect x="310.32" y="317.93" width="5.47" height="2.05" fill="#a0c0c8"/><rect x="315.73" y="317.93" width="5.47" height="2.05" fill="#a0c0c8"/><rect x="321.15" y="317.93" width="5.47" height="2.05" fill="#6aa1bc"/><rect x="326.57" y="317.93" width="5.47" height="2.05" fill="#a0c0c8"/><rect x="331.98" y="317.93" width="5.47" height="2.05" fill="#f1ecea"/><rect x="272.40" y="319.93" width="5.47" height="2.05" fill="#ebdad4"/><rect x="277.82" y="319.93" width="5.47" height="2.05" fill="#f1ecea"/><rect x="283.23" y="319.93" width="5.47" height="2.05" fill="#cbd7da"/><rect x="288.65" y="319.93" width="5.47" height="2.05" fill="#a0c0c8"/><rect x="294.07" y="319.93" width="5.47" height="2.05" fill="#cbd7da"/><rect x="299.48" y="319.93" width="5.47" height="2.05" fill="#f1ecea"/><rect x="304.90" y="319.93" width="5.47" height="2.05" fill="#e5c8bd"/><rect x="310.32" y="319.93" width="5.47" height="2.05" fill="#e1b9ab"/><rect x="315.73" y="319.93" width="5.47" height="2.05" fill="#e5c8bd"/><rect x="321.15" y="319.93" width="5.47" height="2.05" fill="#cbd7da"/><rect x="326.57" y="319.93" width="5.47" height="2.05" fill="#cbd7da"/><rect x="331.98" y="319.93" width="5.47" height="2.05" fill="#f1ecea"/><rect x="272.40" y="321.93" width="5.47" height="2.05" fill="#f1ecea"/><rect x="277.82" y="321.93" width="5.47" height="2.05" fill="#cbd7da"/><rect x="283.23" y="321.93" width="5.47" height="2.05" fill="#b6ccd1"/><rect x="288.65" y="321.93" width="5.47" height="2.05" fill="#a0c0c8"/><rect x="294.07" y="321.93" width="5.47" height="2.05" fill="#b6ccd1"/><rect x="299.48" y="321.93" width="5.47" height="2.05" fill="#e5c8bd"/><rect x="304.90" y="321.93" width="5.47" height="2.05" fill="#e1b9ab"/><rect x="310.32" y="321.93" width="5.47" height="2.05" fill="#e1b9ab"/><rect x="315.73" y="321.93" width="5.47" height="2.05" fill="#e5c8bd"/><rect x="321.15" y="321.93" width="5.47" height="2.05" fill="#f1ecea"/><rect x="326.57" y="321.93" width="5.47" height="2.05" fill="#cbd7da"/><rect x="331.98" y="321.93" width="5.47" height="2.05" fill="#dee2e2"/><rect x="272.40" y="323.93" width="5.47" height="2.05" fill="#f1ecea"/><rect x="277.82" y="323.93" width="5.47" height="2.05" fill="#f1ecea"/><rect x="283.23" y="323.93" width="5.47" height="2.05" fill="#f1ecea"/><rect x="288.65" y="323.93" width="5.47" height="2.05" fill="#f1ecea"/><rect x="294.07" y="323.93" width="5.47" height="2.05" fill="#ddab98"/><rect x="299.48" y="323.93" width="5.47" height="2.05" fill="#c66248"/><rect x="304.90" y="323.93" width="5.47" height="2.05" fill="#cd7a5c"/><rect x="310.32" y="323.93" width="5.47" height="2.05" fill="#c66248"/><rect x="315.73" y="323.93" width="5.47" height="2.05" fill="#d49176"/><rect x="321.15" y="323.93" width="5.47" height="2.05" fill="#e5c8bd"/><rect x="326.57" y="323.93" width="5.47" height="2.05" fill="#ebdad4"/><rect x="331.98" y="323.93" width="5.47" height="2.05" fill="#f1ecea"/><rect x="272.40" y="325.93" width="5.47" height="2.05" fill="#1c2053"/><rect x="277.82" y="325.93" width="5.47" height="2.05" fill="#1c2053"/><rect x="283.23" y="325.93" width="5.47" height="2.05" fill="#3d86b7"/><rect x="288.65" y="325.93" width="5.47" height="2.05" fill="#a0c0c8"/><rect x="294.07" y="325.93" width="5.47" height="2.05" fill="#185ac0"/><rect x="299.48" y="325.93" width="5.47" height="2.05" fill="#1c2053"/><rect x="304.90" y="325.93" width="5.47" height="2.05" fill="#1c2053"/><rect x="310.32" y="325.93" width="5.47" height="2.05" fill="#1c2053"/><rect x="315.73" y="325.93" width="5.47" height="2.05" fill="#232a76"/><rect x="321.15" y="325.93" width="5.47" height="2.05" fill="#1c2053"/><rect x="326.57" y="325.93" width="5.47" height="2.05" fill="#1c2053"/><rect x="331.98" y="325.93" width="5.47" height="2.05" fill="#1c2053"/><rect x="272.40" y="327.93" width="5.47" height="2.05" fill="#e1b9ab"/><rect x="277.82" y="327.93" width="5.47" height="2.05" fill="#e5c8bd"/><rect x="283.23" y="327.93" width="5.47" height="2.05" fill="#f1ecea"/><rect x="288.65" y="327.93" width="5.47" height="2.05" fill="#f1ecea"/><rect x="294.07" y="327.93" width="5.47" height="2.05" fill="#ebdad4"/><rect x="299.48" y="327.93" width="5.47" height="2.05" fill="#ebdad4"/><rect x="304.90" y="327.93" width="5.47" height="2.05" fill="#ebdad4"/><rect x="310.32" y="327.93" width="5.47" height="2.05" fill="#ebdad4"/><rect x="315.73" y="327.93" width="5.47" height="2.05" fill="#ebdad4"/><rect x="321.15" y="327.93" width="5.47" height="2.05" fill="#ebdad4"/><rect x="326.57" y="327.93" width="5.47" height="2.05" fill="#ebdad4"/><rect x="331.98" y="327.93" width="5.47" height="2.05" fill="#ebdad4"/><rect x="272.40" y="329.93" width="5.47" height="2.05" fill="#cbd7da"/><rect x="277.82" y="329.93" width="5.47" height="2.05" fill="#cbd7da"/><rect x="283.23" y="329.93" width="5.47" height="2.05" fill="#a0c0c8"/><rect x="288.65" y="329.93" width="5.47" height="2.05" fill="#b6ccd1"/><rect x="294.07" y="329.93" width="5.47" height="2.05" fill="#cbd7da"/><rect x="299.48" y="329.93" width="5.47" height="2.05" fill="#b6ccd1"/><rect x="304.90" y="329.93" width="5.47" height="2.05" fill="#cbd7da"/><rect x="310.32" y="329.93" width="5.47" height="2.05" fill="#cbd7da"/><rect x="315.73" y="329.93" width="5.47" height="2.05" fill="#b6ccd1"/><rect x="321.15" y="329.93" width="5.47" height="2.05" fill="#cbd7da"/><rect x="326.57" y="329.93" width="5.47" height="2.05" fill="#cbd7da"/><rect x="331.98" y="329.93" width="5.47" height="2.05" fill="#cbd7da"/><rect x="272.40" y="331.93" width="5.47" height="2.05" fill="#b6ccd1"/><rect x="277.82" y="331.93" width="5.47" height="2.05" fill="#b6ccd1"/><rect x="283.23" y="331.93" width="5.47" height="2.05" fill="#a0c0c8"/><rect x="288.65" y="331.93" width="5.47" height="2.05" fill="#a0c0c8"/><rect x="294.07" y="331.93" width="5.47" height="2.05" fill="#b6ccd1"/><rect x="299.48" y="331.93" width="5.47" height="2.05" fill="#a0c0c8"/><rect x="304.90" y="331.93" width="5.47" height="2.05" fill="#a0c0c8"/><rect x="310.32" y="331.93" width="5.47" height="2.05" fill="#a0c0c8"/><rect x="315.73" y="331.93" width="5.47" height="2.05" fill="#a0c0c8"/><rect x="321.15" y="331.93" width="5.47" height="2.05" fill="#b6ccd1"/><rect x="326.57" y="331.93" width="5.47" height="2.05" fill="#b6ccd1"/><rect x="331.98" y="331.93" width="5.47" height="2.05" fill="#b6ccd1"/><rect x="272.40" y="333.93" width="5.47" height="2.05" fill="#b6ccd1"/><rect x="277.82" y="333.93" width="5.47" height="2.05" fill="#b6ccd1"/><rect x="283.23" y="333.93" width="5.47" height="2.05" fill="#b6ccd1"/><rect x="288.65" y="333.93" width="5.47" height="2.05" fill="#b6ccd1"/><rect x="294.07" y="333.93" width="5.47" height="2.05" fill="#cbd7da"/><rect x="299.48" y="333.93" width="5.47" height="2.05" fill="#cbd7da"/><rect x="304.90" y="333.93" width="5.47" height="2.05" fill="#cbd7da"/><rect x="310.32" y="333.93" width="5.47" height="2.05" fill="#cbd7da"/><rect x="315.73" y="333.93" width="5.47" height="2.05" fill="#cbd7da"/><rect x="321.15" y="333.93" width="5.47" height="2.05" fill="#cbd7da"/><rect x="326.57" y="333.93" width="5.47" height="2.05" fill="#cbd7da"/><rect x="331.98" y="333.93" width="5.47" height="2.05" fill="#cbd7da"/><rect x="272.40" y="335.93" width="5.47" height="2.05" fill="#f1ecea"/><rect x="277.82" y="335.93" width="5.47" height="2.05" fill="#f1ecea"/><rect x="283.23" y="335.93" width="5.47" height="2.05" fill="#f1ecea"/><rect x="288.65" y="335.93" width="5.47" height="2.05" fill="#f1ecea"/><rect x="294.07" y="335.93" width="5.47" height="2.05" fill="#ebdad4"/><rect x="299.48" y="335.93" width="5.47" height="2.05" fill="#ebdad4"/><rect x="304.90" y="335.93" width="5.47" height="2.05" fill="#ebdad4"/><rect x="310.32" y="335.93" width="5.47" height="2.05" fill="#ebdad4"/><rect x="315.73" y="335.93" width="5.47" height="2.05" fill="#ebdad4"/><rect x="321.15" y="335.93" width="5.47" height="2.05" fill="#ebdad4"/><rect x="326.57" y="335.93" width="5.47" height="2.05" fill="#f1ecea"/><rect x="331.98" y="335.93" width="5.47" height="2.05" fill="#f1ecea"/><rect x="272.40" y="337.93" width="5.47" height="3.05" fill="#f1ecea"/><rect x="277.82" y="337.93" width="5.47" height="3.05" fill="#f1ecea"/><rect x="283.23" y="337.93" width="5.47" height="3.05" fill="#f1ecea"/><rect x="288.65" y="337.93" width="5.47" height="3.05" fill="#f1ecea"/><rect x="294.07" y="337.93" width="5.47" height="3.05" fill="#e9d3cb"/><rect x="299.48" y="337.93" width="5.47" height="3.05" fill="#e9d3cb"/><rect x="304.90" y="337.93" width="5.47" height="3.05" fill="#e9d3cb"/><rect x="310.32" y="337.93" width="5.47" height="3.05" fill="#e9d3cb"/><rect x="315.73" y="337.93" width="5.47" height="3.05" fill="#e9d3cb"/><rect x="321.15" y="337.93" width="5.47" height="3.05" fill="#ecddd8"/><rect x="326.57" y="337.93" width="5.47" height="3.05" fill="#f1ecea"/><rect x="331.98" y="337.93" width="5.47" height="3.05" fill="#f1ecea"/><rect x="272.40" y="340.93" width="5.47" height="14.05" fill="#f1ecea"/><rect x="277.82" y="340.93" width="5.47" height="14.05" fill="#f1ecea"/><rect x="283.23" y="340.93" width="5.47" height="14.05" fill="#f1ecea"/><rect x="288.65" y="340.93" width="5.47" height="14.05" fill="#f1ecea"/><rect x="294.07" y="340.93" width="5.47" height="14.05" fill="#ebdad4"/><rect x="299.48" y="340.93" width="5.47" height="14.05" fill="#e9d3cb"/><rect x="304.90" y="340.93" width="5.47" height="14.05" fill="#e5c8bd"/><rect x="310.32" y="340.93" width="5.47" height="14.05" fill="#e5c8bd"/><rect x="315.73" y="340.93" width="5.47" height="14.05" fill="#e9d3cb"/><rect x="321.15" y="340.93" width="5.47" height="14.05" fill="#ebdad4"/><rect x="326.57" y="340.93" width="5.47" height="14.05" fill="#f1ecea"/><rect x="331.98" y="340.93" width="5.47" height="14.05" fill="#e6e6e5"/><rect x="272.40" y="354.93" width="5.47" height="3.05" fill="#f1ecea"/><rect x="277.82" y="354.93" width="5.47" height="3.05" fill="#e6e6e5"/><rect x="283.23" y="354.93" width="5.47" height="3.05" fill="#f1ecea"/><rect x="288.65" y="354.93" width="5.47" height="3.05" fill="#f1ecea"/><rect x="294.07" y="354.93" width="5.47" height="3.05" fill="#ede1dd"/><rect x="299.48" y="354.93" width="5.47" height="3.05" fill="#ede1dd"/><rect x="304.90" y="354.93" width="5.47" height="3.05" fill="#ead6cf"/><rect x="310.32" y="354.93" width="5.47" height="3.05" fill="#ede1dd"/><rect x="315.73" y="354.93" width="5.47" height="3.05" fill="#ede1dd"/><rect x="321.15" y="354.93" width="5.47" height="3.05" fill="#f1ecea"/><rect x="326.57" y="354.93" width="5.47" height="3.05" fill="#f1ecea"/><rect x="331.98" y="354.93" width="5.47" height="3.05" fill="#f1ecea"/><rect x="272.40" y="357.93" width="5.47" height="2.05" fill="#e5c8bd"/><rect x="277.82" y="357.93" width="5.47" height="2.05" fill="#e5c8bd"/><rect x="283.23" y="357.93" width="5.47" height="2.05" fill="#ebdad4"/><rect x="288.65" y="357.93" width="5.47" height="2.05" fill="#ebdad4"/><rect x="294.07" y="357.93" width="5.47" height="2.05" fill="#e5c8bd"/><rect x="299.48" y="357.93" width="5.47" height="2.05" fill="#e5c8bd"/><rect x="304.90" y="357.93" width="5.47" height="2.05" fill="#e1b9ab"/><rect x="310.32" y="357.93" width="5.47" height="2.05" fill="#e1b9ab"/><rect x="315.73" y="357.93" width="5.47" height="2.05" fill="#e5c8bd"/><rect x="321.15" y="357.93" width="5.47" height="2.05" fill="#ebdad4"/><rect x="326.57" y="357.93" width="5.47" height="2.05" fill="#e5c8bd"/><rect x="331.98" y="357.93" width="5.47" height="2.05" fill="#ebdad4"/><rect x="272.40" y="359.93" width="5.47" height="2.05" fill="#ebdad4"/><rect x="277.82" y="359.93" width="5.47" height="2.05" fill="#ebdad4"/><rect x="283.23" y="359.93" width="5.47" height="2.05" fill="#ebdad4"/><rect x="288.65" y="359.93" width="5.47" height="2.05" fill="#e5c8bd"/><rect x="294.07" y="359.93" width="5.47" height="2.05" fill="#e5c8bd"/><rect x="299.48" y="359.93" width="5.47" height="2.05" fill="#ebdad4"/><rect x="304.90" y="359.93" width="5.47" height="2.05" fill="#ebdad4"/><rect x="310.32" y="359.93" width="5.47" height="2.05" fill="#ebdad4"/><rect x="315.73" y="359.93" width="5.47" height="2.05" fill="#e5c8bd"/><rect x="321.15" y="359.93" width="5.47" height="2.05" fill="#e5c8bd"/><rect x="326.57" y="359.93" width="5.47" height="2.05" fill="#e5c8bd"/><rect x="331.98" y="359.93" width="5.47" height="2.05" fill="#ebdad4"/><rect x="272.40" y="361.93" width="5.47" height="2.05" fill="#ebdad4"/><rect x="277.82" y="361.93" width="5.47" height="2.05" fill="#ebdad4"/><rect x="283.23" y="361.93" width="5.47" height="2.05" fill="#e5c8bd"/><rect x="288.65" y="361.93" width="5.47" height="2.05" fill="#e1b9ab"/><rect x="294.07" y="361.93" width="5.47" height="2.05" fill="#ebdad4"/><rect x="299.48" y="361.93" width="5.47" height="2.05" fill="#ebdad4"/><rect x="304.90" y="361.93" width="5.47" height="2.05" fill="#ebdad4"/><rect x="310.32" y="361.93" width="5.47" height="2.05" fill="#ebdad4"/><rect x="315.73" y="361.93" width="5.47" height="2.05" fill="#e1b9ab"/><rect x="321.15" y="361.93" width="5.47" height="2.05" fill="#e1b9ab"/><rect x="326.57" y="361.93" width="5.47" height="2.05" fill="#ebdad4"/><rect x="331.98" y="361.93" width="5.47" height="2.05" fill="#ebdad4"/><rect x="272.40" y="363.93" width="5.47" height="2.05" fill="#f1ecea"/><rect x="277.82" y="363.93" width="5.47" height="2.05" fill="#f1ecea"/><rect x="283.23" y="363.93" width="5.47" height="2.05" fill="#f1ecea"/><rect x="288.65" y="363.93" width="5.47" height="2.05" fill="#f1ecea"/><rect x="294.07" y="363.93" width="5.47" height="2.05" fill="#ebdad4"/><rect x="299.48" y="363.93" width="5.47" height="2.05" fill="#f1ecea"/><rect x="304.90" y="363.93" width="5.47" height="2.05" fill="#f1ecea"/><rect x="310.32" y="363.93" width="5.47" height="2.05" fill="#f1ecea"/><rect x="315.73" y="363.93" width="5.47" height="2.05" fill="#ebdad4"/><rect x="321.15" y="363.93" width="5.47" height="2.05" fill="#ebdad4"/><rect x="326.57" y="363.93" width="5.47" height="2.05" fill="#f1ecea"/><rect x="331.98" y="363.93" width="5.47" height="2.05" fill="#f1ecea"/><rect x="272.40" y="365.93" width="5.47" height="3.55" fill="#3d86b7"/><rect x="277.82" y="365.93" width="5.47" height="3.55" fill="#6aa1bc"/><rect x="283.23" y="365.93" width="5.47" height="3.55" fill="#6aa1bc"/><rect x="288.65" y="365.93" width="5.47" height="3.55" fill="#84b0c1"/><rect x="294.07" y="365.93" width="5.47" height="3.55" fill="#6aa1bc"/><rect x="299.48" y="365.93" width="5.47" height="3.55" fill="#6aa1bc"/><rect x="304.90" y="365.93" width="5.47" height="3.55" fill="#6aa1bc"/><rect x="310.32" y="365.93" width="5.47" height="3.55" fill="#6aa1bc"/><rect x="315.73" y="365.93" width="5.47" height="3.55" fill="#6aa1bc"/><rect x="321.15" y="365.93" width="5.47" height="3.55" fill="#6aa1bc"/><rect x="326.57" y="365.93" width="5.47" height="3.55" fill="#6aa1bc"/><rect x="331.98" y="365.93" width="5.47" height="3.55" fill="#5294b7"/><rect x="272.40" y="369.43" width="5.47" height="2.55" fill="#3d86b7"/><rect x="277.82" y="369.43" width="5.47" height="2.55" fill="#3d86b7"/><rect x="283.23" y="369.43" width="5.47" height="2.55" fill="#206fbb"/><rect x="288.65" y="369.43" width="5.47" height="2.55" fill="#185ac0"/><rect x="294.07" y="369.43" width="5.47" height="2.55" fill="#185ac0"/><rect x="299.48" y="369.43" width="5.47" height="2.55" fill="#206fbb"/><rect x="304.90" y="369.43" width="5.47" height="2.55" fill="#206fbb"/><rect x="310.32" y="369.43" width="5.47" height="2.55" fill="#206fbb"/><rect x="315.73" y="369.43" width="5.47" height="2.55" fill="#206fbb"/><rect x="321.15" y="369.43" width="5.47" height="2.55" fill="#3d86b7"/><rect x="326.57" y="369.43" width="5.47" height="2.55" fill="#3d86b7"/><rect x="331.98" y="369.43" width="5.47" height="2.55" fill="#6aa1bc"/><rect x="272.40" y="371.93" width="5.47" height="2.05" fill="#6aa1bc"/><rect x="277.82" y="371.93" width="5.47" height="2.05" fill="#6aa1bc"/><rect x="283.23" y="371.93" width="5.47" height="2.05" fill="#6aa1bc"/><rect x="288.65" y="371.93" width="5.47" height="2.05" fill="#185ac0"/><rect x="294.07" y="371.93" width="5.47" height="2.05" fill="#2b37a0"/><rect x="299.48" y="371.93" width="5.47" height="2.05" fill="#206fbb"/><rect x="304.90" y="371.93" width="5.47" height="2.05" fill="#206fbb"/><rect x="310.32" y="371.93" width="5.47" height="2.05" fill="#206fbb"/><rect x="315.73" y="371.93" width="5.47" height="2.05" fill="#3d86b7"/><rect x="321.15" y="371.93" width="5.47" height="2.05" fill="#3d86b7"/><rect x="326.57" y="371.93" width="5.47" height="2.05" fill="#6aa1bc"/><rect x="331.98" y="371.93" width="5.47" height="2.05" fill="#84b0c1"/><rect x="272.40" y="373.93" width="5.47" height="2.05" fill="#cbd7da"/><rect x="277.82" y="373.93" width="5.47" height="2.05" fill="#a0c0c8"/><rect x="283.23" y="373.93" width="5.47" height="2.05" fill="#a0c0c8"/><rect x="288.65" y="373.93" width="5.47" height="2.05" fill="#6aa1bc"/><rect x="294.07" y="373.93" width="5.47" height="2.05" fill="#6aa1bc"/><rect x="299.48" y="373.93" width="5.47" height="2.05" fill="#a0c0c8"/><rect x="304.90" y="373.93" width="5.47" height="2.05" fill="#a0c0c8"/><rect x="310.32" y="373.93" width="5.47" height="2.05" fill="#6aa1bc"/><rect x="315.73" y="373.93" width="5.47" height="2.05" fill="#6aa1bc"/><rect x="321.15" y="373.93" width="5.47" height="2.05" fill="#a0c0c8"/><rect x="326.57" y="373.93" width="5.47" height="2.05" fill="#cbd7da"/><rect x="331.98" y="373.93" width="5.47" height="2.05" fill="#cbd7da"/><rect x="272.40" y="375.93" width="5.47" height="2.05" fill="#f1ecea"/><rect x="277.82" y="375.93" width="5.47" height="2.05" fill="#a0c0c8"/><rect x="283.23" y="375.93" width="5.47" height="2.05" fill="#a0c0c8"/><rect x="288.65" y="375.93" width="5.47" height="2.05" fill="#6aa1bc"/><rect x="294.07" y="375.93" width="5.47" height="2.05" fill="#6aa1bc"/><rect x="299.48" y="375.93" width="5.47" height="2.05" fill="#a0c0c8"/><rect x="304.90" y="375.93" width="5.47" height="2.05" fill="#a0c0c8"/><rect x="310.32" y="375.93" width="5.47" height="2.05" fill="#6aa1bc"/><rect x="315.73" y="375.93" width="5.47" height="2.05" fill="#6aa1bc"/><rect x="321.15" y="375.93" width="5.47" height="2.05" fill="#ebdad4"/><rect x="326.57" y="375.93" width="5.47" height="2.05" fill="#ebdad4"/><rect x="331.98" y="375.93" width="5.47" height="2.05" fill="#ebdad4"/><rect x="272.40" y="377.93" width="5.47" height="2.45" fill="#f1ecea"/><rect x="277.82" y="377.93" width="5.47" height="2.45" fill="#a0c0c8"/><rect x="283.23" y="377.93" width="5.47" height="2.45" fill="#6aa1bc"/><rect x="288.65" y="377.93" width="5.47" height="2.45" fill="#3d86b7"/><rect x="294.07" y="377.93" width="5.47" height="2.45" fill="#3d86b7"/><rect x="299.48" y="377.93" width="5.47" height="2.45" fill="#a0c0c8"/><rect x="304.90" y="377.93" width="5.47" height="2.45" fill="#a0c0c8"/><rect x="310.32" y="377.93" width="5.47" height="2.45" fill="#6aa1bc"/><rect x="315.73" y="377.93" width="5.47" height="2.45" fill="#6aa1bc"/><rect x="321.15" y="377.93" width="5.47" height="2.45" fill="#a0c0c8"/><rect x="326.57" y="377.93" width="5.47" height="2.45" fill="#cbd7da"/><rect x="331.98" y="377.93" width="5.47" height="2.45" fill="#cbd7da"/><path d="M272.4,283.63H337.4M272.4,298.00H337.4M272.4,312.36H337.4M272.4,326.73H337.4M272.4,341.10H337.4M272.4,355.46H337.4M272.4,369.83H337.4" stroke="#000" stroke-width="1" opacity="0.45" fill="none"/><path d="M272.4,283.63h6M272.4,298.00h6M272.4,312.36h6M272.4,326.73h6M272.4,341.10h6M272.4,355.46h6M272.4,369.83h6" stroke="#000" stroke-width="1" opacity="0.8" fill="none"/><rect x="272.4" y="268.93" width="65.0" height="111.0" fill="none" stroke="#000" stroke-width="0.9"/><text x="280.5" y="254.6" font-size="10.9" text-anchor="middle" textLength="5.6" lengthAdjust="spacingAndGlyphs">F</text><text x="291.4" y="254.6" font-size="10.9" text-anchor="middle" textLength="6.6" lengthAdjust="spacingAndGlyphs">A</text><text x="302.2" y="254.6" font-size="10.9" text-anchor="middle">J</text><text x="313.0" y="254.6" font-size="10.9" text-anchor="middle" textLength="6.6" lengthAdjust="spacingAndGlyphs">A</text><text x="323.9" y="254.6" font-size="10.9" text-anchor="middle" textLength="7.6" lengthAdjust="spacingAndGlyphs">O</text><text x="334.7" y="254.6" font-size="10.9" text-anchor="middle" textLength="7.5" lengthAdjust="spacingAndGlyphs">D</text><path d="M280.50,268.93V262.73M291.50,268.93V262.73M302.50,268.93V262.73M313.50,268.93V262.73M323.50,268.93V262.73M334.50,268.93V262.73" stroke="#000" stroke-width="1"/><text x="304.9" y="239.2" font-size="10.6" text-anchor="middle" textLength="31.2" lengthAdjust="spacingAndGlyphs">Month</text><text x="14.8" y="260.7" font-size="11" text-anchor="start" font-weight="bold">c</text><text x="139.8" y="257.7" font-size="13.3" text-anchor="middle" textLength="97.8" lengthAdjust="spacingAndGlyphs">Advection, <tspan font-style="italic">F</tspan><tspan font-style="italic" font-size="9.3" dy="1.4">ADV</tspan></text><linearGradient id="gc" gradientUnits="userSpaceOnUse" x1="21.90" y1="0" x2="257.20" y2="0"><stop offset="0.000" stop-color="#181c43"/><stop offset="0.060" stop-color="#1f2563"/><stop offset="0.120" stop-color="#272f88"/><stop offset="0.160" stop-color="#2c3aa8"/><stop offset="0.180" stop-color="#1f52c0"/><stop offset="0.200" stop-color="#1262c0"/><stop offset="0.250" stop-color="#2a78b8"/><stop offset="0.300" stop-color="#4a8fb6"/><stop offset="0.350" stop-color="#72a6bd"/><stop offset="0.400" stop-color="#a0c0c8"/><stop offset="0.450" stop-color="#cbd7da"/><stop offset="0.500" stop-color="#f1ecea"/><stop offset="0.575" stop-color="#e4c5ba"/><stop offset="0.645" stop-color="#dba48f"/><stop offset="0.720" stop-color="#d08466"/><stop offset="0.755" stop-color="#c96c4f"/><stop offset="0.790" stop-color="#bf4a36"/><stop offset="0.815" stop-color="#b5352a"/><stop offset="0.845" stop-color="#a82430"/><stop offset="0.875" stop-color="#961a32"/><stop offset="0.910" stop-color="#7e1230"/><stop offset="0.955" stop-color="#5c0e24"/><stop offset="1.000" stop-color="#3a0a12"/></linearGradient><path d="M10.13,391.53L21.90,385.03L257.20,385.03L268.96,391.53L257.20,398.03L21.90,398.03Z" fill="url(#gc)" stroke="none"/><path d="M10.13,391.53L22.20,385.03L22.20,398.03Z" fill="#181c43"/><path d="M268.96,391.53L256.90,385.03L256.90,398.03Z" fill="#3a0a12"/><path d="M10.13,391.53L21.90,385.03L257.20,385.03L268.96,391.53L257.20,398.03L21.90,398.03Z" fill="none" stroke="#000" stroke-width="0.8" stroke-linejoin="miter"/><text x="21.9" y="418.3" font-size="10.4" text-anchor="middle" textLength="21.1" lengthAdjust="spacingAndGlyphs">−15</text><text x="61.1" y="418.3" font-size="10.4" text-anchor="middle" textLength="21.1" lengthAdjust="spacingAndGlyphs">−10</text><text x="100.3" y="418.3" font-size="10.4" text-anchor="middle" textLength="14.7" lengthAdjust="spacingAndGlyphs">−5</text><text x="139.5" y="418.3" font-size="10.4" text-anchor="middle" textLength="6.4" lengthAdjust="spacingAndGlyphs">0</text><text x="178.8" y="418.3" font-size="10.4" text-anchor="middle" textLength="6.4" lengthAdjust="spacingAndGlyphs">5</text><text x="218.0" y="418.3" font-size="10.4" text-anchor="middle" textLength="12.7" lengthAdjust="spacingAndGlyphs">10</text><text x="257.2" y="418.3" font-size="10.4" text-anchor="middle" textLength="12.7" lengthAdjust="spacingAndGlyphs">15</text><path d="M21.50,398.03V403.83M61.50,398.03V403.83M100.50,398.03V403.83M139.50,398.03V403.83M178.50,398.03V403.83M217.50,398.03V403.83M257.50,398.03V403.83" stroke="#000" stroke-width="1"/><text x="139.5" y="436.7" font-size="10.9" text-anchor="middle" textLength="222" lengthAdjust="spacingAndGlyphs">Annually integrated <tspan font-style="italic">F</tspan> (mol O<tspan font-size="7.3" dy="1.8">2</tspan><tspan dy="-1.8"> m</tspan><tspan font-size="7.3" dy="-3.6">−2</tspan><tspan dy="3.6"> year</tspan><tspan font-size="7.3" dy="-3.6">−1</tspan><tspan dy="3.6">)</tspan></text><linearGradient id="sc" gradientUnits="userSpaceOnUse" x1="275.50" y1="0" x2="337.40" y2="0"><stop offset="0.000" stop-color="#181c43"/><stop offset="0.060" stop-color="#1f2563"/><stop offset="0.120" stop-color="#272f88"/><stop offset="0.160" stop-color="#2c3aa8"/><stop offset="0.180" stop-color="#1f52c0"/><stop offset="0.200" stop-color="#1262c0"/><stop offset="0.250" stop-color="#2a78b8"/><stop offset="0.300" stop-color="#4a8fb6"/><stop offset="0.350" stop-color="#72a6bd"/><stop offset="0.400" stop-color="#a0c0c8"/><stop offset="0.450" stop-color="#cbd7da"/><stop offset="0.500" stop-color="#f1ecea"/><stop offset="0.575" stop-color="#e4c5ba"/><stop offset="0.645" stop-color="#dba48f"/><stop offset="0.720" stop-color="#d08466"/><stop offset="0.755" stop-color="#c96c4f"/><stop offset="0.790" stop-color="#bf4a36"/><stop offset="0.815" stop-color="#b5352a"/><stop offset="0.845" stop-color="#a82430"/><stop offset="0.875" stop-color="#961a32"/><stop offset="0.910" stop-color="#7e1230"/><stop offset="0.955" stop-color="#5c0e24"/><stop offset="1.000" stop-color="#3a0a12"/></linearGradient><path d="M272.40,386.23L275.50,383.13L337.40,383.13L337.40,389.33L275.50,389.33Z" fill="url(#sc)" stroke="none"/><path d="M272.40,386.23L275.80,383.13L275.80,389.33Z" fill="#181c43"/><path d="M272.40,386.23L275.50,383.13L337.40,383.13L337.40,389.33L275.50,389.33Z" fill="none" stroke="#000" stroke-width="0.8" stroke-linejoin="miter"/><text x="275.5" y="409.3" font-size="10.4" text-anchor="middle" textLength="14.7" lengthAdjust="spacingAndGlyphs">−1</text><text x="306.4" y="409.3" font-size="10.4" text-anchor="middle" textLength="6.4" lengthAdjust="spacingAndGlyphs">0</text><text x="337.4" y="409.3" font-size="10.4" text-anchor="middle" textLength="6.4" lengthAdjust="spacingAndGlyphs">1</text><path d="M275.50,389.33V394.83M306.50,389.33V394.83M337.50,389.33V394.83" stroke="#000" stroke-width="1"/><text x="304.4" y="427.5" font-size="10.9" text-anchor="middle" textLength="63.4" lengthAdjust="spacingAndGlyphs">(mol O<tspan font-size="7.3" dy="1.8">2</tspan><tspan dy="-1.8"> m</tspan><tspan font-size="7.3" dy="-3.6">−2</tspan></text><text x="304.4" y="441.9" font-size="10.9" text-anchor="middle" textLength="47.7" lengthAdjust="spacingAndGlyphs">month<tspan font-size="7.3" dy="-3.6">−1</tspan><tspan dy="3.6">)</tspan></text><filter id="fd" filterUnits="userSpaceOnUse" x="350.59999999999997" y="268.93" width="258.7" height="111.0" color-interpolation-filters="sRGB"><feOffset in="SourceGraphic" dx="0" dy="0" result="b"/><feTurbulence type="fractalNoise" baseFrequency="0.05 0.35" numOctaves="2" seed="9" result="n0"/><feColorMatrix in="n0" type="matrix" values="1 0 0 0 0 1 0 0 0 0 1 0 0 0 0 0 0 0 0 1" result="n1"/><feComponentTransfer in="n1" result="n"><feFuncR type="table" tableValues="0 0.03 0.1 0.22 0.45 0.5 0.55 0.78 0.9 0.97 1"/><feFuncG type="table" tableValues="0 0.03 0.1 0.22 0.45 0.5 0.55 0.78 0.9 0.97 1"/><feFuncB type="table" tableValues="0 0.03 0.1 0.22 0.45 0.5 0.55 0.78 0.9 0.97 1"/></feComponentTransfer><feComposite in="b" in2="n" operator="arithmetic" k1="0" k2="1" k3="0.1" k4="-0.0500" result="s"/><feComponentTransfer in="s"><feFuncR type="table" tableValues="0.094 0.102 0.110 0.114 0.122 0.129 0.141 0.149 0.157 0.165 0.173 0.141 0.102 0.075 0.106 0.133 0.165 0.204 0.243 0.282 0.329 0.380 0.427 0.482 0.537 0.592 0.647 0.702 0.753 0.804 0.851 0.898 0.945 0.933 0.925 0.914 0.902 0.894 0.886 0.878 0.871 0.863 0.851 0.843 0.835 0.824 0.816 0.804 0.792 0.776 0.761 0.737 0.714 0.686 0.663 0.624 0.588 0.545 0.506 0.459 0.412 0.365 0.322 0.275 0.227"/><feFuncG type="table" tableValues="0.110 0.118 0.129 0.137 0.145 0.157 0.169 0.176 0.188 0.208 0.224 0.282 0.345 0.388 0.416 0.443 0.471 0.498 0.525 0.557 0.584 0.612 0.639 0.671 0.702 0.733 0.765 0.792 0.820 0.847 0.875 0.898 0.925 0.894 0.863 0.831 0.796 0.769 0.737 0.710 0.678 0.651 0.624 0.600 0.573 0.545 0.522 0.478 0.435 0.384 0.325 0.267 0.216 0.180 0.145 0.122 0.102 0.086 0.075 0.067 0.063 0.055 0.051 0.043 0.039"/><feFuncB type="table" tableValues="0.263 0.294 0.329 0.361 0.396 0.431 0.471 0.506 0.549 0.596 0.647 0.714 0.753 0.753 0.741 0.729 0.722 0.718 0.718 0.714 0.722 0.729 0.737 0.749 0.761 0.776 0.792 0.816 0.839 0.859 0.878 0.898 0.918 0.878 0.839 0.800 0.761 0.722 0.682 0.647 0.608 0.573 0.537 0.502 0.471 0.435 0.404 0.365 0.322 0.278 0.235 0.200 0.169 0.176 0.188 0.192 0.196 0.192 0.188 0.176 0.161 0.141 0.118 0.094 0.071"/></feComponentTransfer></filter><clipPath id="cd"><rect x="350.59999999999997" y="268.93" width="258.7" height="111.0"/></clipPath><g clip-path="url(#cd)"><filter id="bbd" filterUnits="userSpaceOnUse" x="330.59999999999997" y="248.93" width="298.7" height="151.0" color-interpolation-filters="sRGB"><feGaussianBlur stdDeviation="4 3"/></filter><filter id="bsd" filterUnits="userSpaceOnUse" x="330.59999999999997" y="248.93" width="298.7" height="151.0" color-interpolation-filters="sRGB"><feGaussianBlur stdDeviation="0.9 0.6"/></filter><g filter="url(#fd)"><rect x="345.59999999999997" y="263.93" width="268.7" height="121.0" fill="#808080"/><g filter="url(#bbd)"></g><g filter="url(#bsd)"><ellipse cx="445.7" cy="301.2" rx="10.5" ry="1.4" fill="#bbbbbb"/><ellipse cx="435.2" cy="303.2" rx="4" ry="1.1" fill="#474747"/><ellipse cx="450.2" cy="297.7" rx="6.5" ry="0.9" fill="#666666"/><ellipse cx="452.2" cy="286.7" rx="8" ry="1.2" fill="#a1a1a1"/><ellipse cx="376.2" cy="318.2" rx="7.5" ry="3" fill="#575757"/><ellipse cx="403.2" cy="328.7" rx="23" ry="1.2" fill="#999999"/><ellipse cx="405.2" cy="332.2" rx="20" ry="1" fill="#737373"/><ellipse cx="494.2" cy="318.3" rx="30" ry="1.1" fill="#a8a8a8"/><ellipse cx="509.2" cy="323.7" rx="15" ry="1" fill="#575757"/><ellipse cx="502.2" cy="327.7" rx="30" ry="1.1" fill="#a8a8a8"/><ellipse cx="508.2" cy="331.7" rx="18" ry="1.2" fill="#6c6c6c"/><ellipse cx="534.0" cy="337.7" rx="2.3" ry="7" fill="#3b3b3b"/><ellipse cx="558.7" cy="295.5" rx="4" ry="2.5" fill="#ebebeb"/><ellipse cx="560.2" cy="298.7" rx="20" ry="1.2" fill="#b0b0b0"/><ellipse cx="573.7" cy="287.7" rx="11" ry="1.2" fill="#474747"/><ellipse cx="572.2" cy="284.2" rx="13" ry="1.2" fill="#b0b0b0"/><ellipse cx="539.7" cy="301.2" rx="7" ry="1.8" fill="#474747"/><ellipse cx="565.2" cy="318.2" rx="11" ry="1.4" fill="#a1a1a1"/><ellipse cx="369.2" cy="354.7" rx="15" ry="1.6" fill="#d9d9d9"/><ellipse cx="382.2" cy="359.6" rx="32" ry="1.6" fill="#3b3b3b"/><ellipse cx="450.2" cy="365.9" rx="25" ry="1.8" fill="#3b3b3b"/><ellipse cx="490.2" cy="366.2" rx="7.5" ry="1.6" fill="#171717"/><ellipse cx="467.7" cy="359.0" rx="11.5" ry="1.2" fill="#b0b0b0"/><ellipse cx="520.2" cy="370.4" rx="19" ry="1.2" fill="#474747"/><ellipse cx="556.7" cy="354.5" rx="5.5" ry="2.5" fill="#ebebeb"/><ellipse cx="559.2" cy="360.2" rx="9" ry="1.4" fill="#3b3b3b"/><ellipse cx="586.2" cy="356.3" rx="24" ry="1.2" fill="#a8a8a8"/></g></g><path d="M203.3,284.3L461.9,284.3L461.9,262.1L203.3,262.1ZM461.9,284.3L720.5,284.3L720.5,262.1L461.9,262.1ZM523.0,290.1L535.2,290.1L536.6,281.5L523.0,280.8ZM429.6,295.1L445.4,290.8L445.4,282.2L429.6,283.6ZM416.6,302.3L423.8,302.3L423.8,296.9L416.6,296.9ZM203.3,371.6L461.9,371.6L461.9,391.4L203.3,391.4ZM461.9,371.6L720.5,371.6L720.5,391.4L461.9,391.4ZM339.8,287.9L354.1,287.9L354.1,279.3L339.8,279.3ZM598.4,287.9L612.7,287.9L612.7,279.3L598.4,279.3Z" fill="#c9c9c9"/><path d="M328.3,300.9L329.0,301.4L332.6,301.2L339.8,300.0L340.1,302.7L347.0,305.0L354.1,304.6L358.6,302.3L358.8,300.0L354.1,297.5L362.6,297.4L362.6,293.0L352.7,292.8L352.0,296.6L348.4,296.6L346.2,295.8L342.3,293.7L339.8,294.7L334.8,295.3L332.6,297.3L331.2,300.2ZM586.9,300.9L587.6,301.4L591.2,301.2L598.4,300.0L598.7,302.7L605.6,305.0L612.7,304.6L617.2,302.3L617.4,300.0L612.7,297.5L621.2,297.4L621.2,293.0L611.3,292.8L610.6,296.6L607.0,296.6L604.8,295.8L600.9,293.7L598.4,294.7L593.4,295.3L591.2,297.3L589.8,300.2ZM355.9,305.2L357.4,306.6L360.6,311.6L363.8,317.8L363.5,317.5L360.3,314.5L358.1,309.5L356.0,305.3ZM366.9,304.8L368.7,305.0L373.3,307.3L373.3,309.1L369.6,309.6L367.4,306.6Z" fill="#858585"/><path d="M501.4,275.4L502.8,273.2L507.2,272.0L515.8,270.6L523.0,268.9L540.9,267.5L546.7,267.8L540.9,270.0L536.6,270.7L534.4,271.8L533.7,273.1L528.0,273.3L533.7,273.8L536.6,274.5L540.9,275.9L542.4,276.4L543.1,277.2L546.3,278.6L546.7,279.0L544.9,280.0L543.4,282.2L539.8,281.6L538.0,280.4L535.5,280.5L533.7,278.6L530.1,276.8L523.0,277.9L515.8,277.9L508.6,277.5L505.0,276.8L501.4,276.4ZM547.0,363.5L549.5,363.6L549.4,364.3L547.4,364.3ZM382.0,361.7L383.2,361.9L383.0,362.4L382.0,362.4ZM328.4,301.0L325.8,303.0L325.6,305.5L323.3,307.0L321.8,309.5L320.4,311.6L320.7,313.1L321.0,314.5L320.3,316.2L320.6,317.8L321.8,318.8L322.9,319.9L324.3,321.7L326.9,323.6L329.7,323.0L331.9,323.1L334.0,322.2L335.8,322.2L336.9,323.6L338.7,323.5L339.4,324.2L339.6,325.3L339.3,327.1L341.1,329.6L341.4,331.0L342.2,333.2L342.3,335.3L341.4,337.5L341.1,339.3L343.0,342.9L343.5,346.1L344.5,347.3L345.7,349.4L345.8,351.2L347.0,351.7L348.8,351.2L351.0,351.0L352.4,350.6L354.1,349.0L355.9,347.2L356.2,345.4L358.1,344.0L358.1,342.2L357.5,341.0L359.0,339.5L361.7,337.5L361.7,334.3L360.8,331.8L360.8,330.0L362.1,328.2L363.5,326.4L365.6,324.9L367.1,323.5L368.4,321.0L369.4,318.8L369.4,318.3L367.4,318.6L364.6,319.3L363.7,318.3L363.1,317.4L362.2,316.3L360.8,314.9L360.3,313.8L359.3,311.6L358.2,309.6L357.0,307.3L356.0,305.3L355.8,304.2L353.4,304.5L350.6,304.0L347.0,303.7L346.9,304.6L343.7,304.1L340.9,303.0L339.9,302.2L340.5,300.2L339.6,299.9L338.7,300.2L334.8,300.3L331.9,301.4L331.0,301.5ZM587.0,301.0L584.4,303.0L584.2,305.5L581.9,307.0L580.4,309.5L579.0,311.6L579.3,313.1L579.6,314.5L578.9,316.2L579.2,317.8L580.4,318.8L581.5,319.9L582.9,321.7L585.5,323.6L588.3,323.0L590.5,323.1L592.6,322.2L594.4,322.2L595.5,323.6L597.3,323.5L598.0,324.2L598.2,325.3L597.9,327.1L599.7,329.6L600.0,331.0L600.8,333.2L600.9,335.3L600.0,337.5L599.7,339.3L601.6,342.9L602.1,346.1L603.0,347.3L604.3,349.4L604.4,351.2L605.6,351.7L607.4,351.2L609.6,351.0L611.0,350.6L612.7,349.0L614.5,347.2L614.8,345.4L616.7,344.0L616.7,342.2L616.1,341.0L617.6,339.5L620.3,337.5L620.3,334.3L619.4,331.8L619.4,330.0L620.6,328.2L622.1,326.4L624.2,324.9L625.7,323.5L627.0,321.0L628.0,318.8L628.0,318.3L626.0,318.6L623.2,319.3L622.3,318.3L621.7,317.4L620.8,316.3L619.4,314.9L618.9,313.8L617.9,311.6L616.8,309.6L615.6,307.3L614.6,305.3L614.4,304.2L612.0,304.5L609.2,304.0L605.6,303.7L605.5,304.6L602.3,304.1L599.5,303.0L598.5,302.2L599.1,300.2L598.2,299.9L597.3,300.2L593.4,300.3L590.5,301.4L589.6,301.5ZM328.6,300.9L328.1,300.3L327.3,300.0L326.2,300.2L326.3,298.9L325.8,298.9L326.2,297.9L326.3,296.6L325.9,295.8L326.9,295.3L328.6,295.5L331.3,295.6L331.7,294.6L331.7,293.5L331.0,292.9L329.4,292.3L329.4,291.8L331.5,291.7L331.7,291.0L332.7,291.2L333.7,290.7L334.4,290.0L335.2,289.7L335.8,289.0L336.2,288.4L337.6,288.3L338.8,288.0L338.8,286.9L338.4,285.9L340.1,285.3L340.1,286.4L339.8,287.4L340.5,287.9L341.6,287.7L342.8,288.0L344.5,287.6L346.0,287.6L347.8,287.1L347.7,285.9L348.8,285.3L350.1,285.6L349.9,284.9L349.4,284.2L352.7,284.0L354.3,283.7L353.3,283.3L350.8,283.4L349.0,283.7L347.9,283.0L348.0,281.3L350.8,280.0L350.3,279.5L348.5,279.5L347.8,280.5L346.2,281.3L345.2,282.0L345.0,282.9L346.1,283.6L345.5,284.4L344.5,285.7L343.9,286.4L342.8,286.9L341.8,286.8L341.6,286.1L341.1,285.1L340.6,284.3L339.4,284.4L338.3,285.0L337.3,285.0L336.6,284.4L336.3,283.5L336.2,282.6L336.9,281.8L338.7,281.2L340.0,280.5L341.2,279.7L341.9,278.7L343.4,277.7L344.5,277.2L345.5,276.6L347.0,276.4L349.1,276.0L350.9,275.7L352.7,275.7L354.9,276.2L353.4,276.6L355.6,276.8L358.5,277.1L361.7,278.0L362.1,278.7L361.0,279.3L358.9,279.0L357.7,279.3L356.5,278.9L357.5,280.4L359.2,280.9L359.5,280.1L361.6,280.4L363.1,279.0L364.3,279.2L364.2,277.7L365.6,277.5L365.8,278.0L367.8,277.9L370.9,277.5L371.6,277.7L374.3,277.2L375.7,277.5L376.3,276.6L378.6,276.9L380.7,276.8L380.9,275.9L380.4,275.4L381.8,274.4L382.9,274.1L384.9,274.7L384.3,276.1L385.4,277.9L386.1,277.5L386.5,275.0L389.3,274.8L390.4,273.9L394.7,273.2L395.1,272.5L400.1,272.1L405.1,271.7L407.5,270.9L409.8,271.6L413.1,272.0L414.1,273.9L417.4,273.9L421.0,274.1L423.8,273.9L425.3,274.9L426.7,275.7L429.6,275.3L433.2,274.7L437.5,274.8L440.3,275.4L442.5,275.8L446.8,275.8L448.2,276.7L453.1,276.6L455.1,276.4L459.0,276.6L461.9,277.2L463.3,277.7L465.5,278.2L468.0,278.7L469.3,279.2L468.0,279.7L467.5,280.5L465.5,280.2L463.8,279.8L462.6,280.0L460.8,280.4L459.7,281.8L457.6,282.3L454.9,283.6L452.2,283.3L450.4,283.8L449.9,284.7L449.2,285.2L449.7,286.4L448.8,287.4L447.5,288.5L446.5,289.0L445.2,290.1L444.7,288.7L444.3,286.5L445.2,285.2L446.5,285.0L449.0,283.1L450.4,281.8L447.9,282.6L445.4,282.6L443.2,284.1L441.1,284.1L438.9,284.1L435.3,284.1L433.5,285.2L431.7,286.5L430.3,287.8L432.1,287.9L434.2,288.7L433.5,290.8L433.4,292.1L432.1,293.3L430.3,295.1L428.1,296.0L426.7,296.2L425.6,297.3L424.5,298.7L425.6,300.5L425.3,301.5L423.5,301.9L423.5,299.8L422.4,298.4L419.9,298.7L420.2,297.6L419.5,297.3L418.1,298.4L417.1,298.7L418.0,299.9L420.6,300.0L419.2,300.9L418.2,301.7L419.4,303.7L420.2,304.6L420.2,305.5L419.2,307.2L418.4,308.3L417.0,309.7L414.5,310.7L412.0,311.5L411.6,312.1L410.5,311.2L409.1,312.2L408.5,313.2L409.5,314.5L410.8,315.7L411.2,318.1L409.5,319.2L408.0,320.6L407.8,319.4L406.5,318.3L405.1,317.2L404.4,317.8L403.9,319.5L404.8,321.3L405.1,321.8L406.0,322.3L406.9,323.6L407.4,325.7L406.6,325.7L405.1,324.6L404.6,322.8L403.2,321.0L403.4,318.8L402.7,314.9L400.4,315.2L400.3,313.2L398.9,311.9L398.5,310.6L397.6,310.9L396.2,311.1L395.1,311.4L395.0,312.0L393.7,312.9L391.7,314.8L390.3,315.6L390.2,317.4L389.9,319.3L388.8,320.3L388.3,320.9L387.6,319.9L386.8,318.1L386.1,316.1L385.2,314.2L384.9,312.7L384.7,311.5L384.5,310.8L383.2,311.8L382.2,310.6L382.9,310.3L381.7,309.8L380.5,308.5L376.8,308.6L374.8,308.4L373.7,307.2L373.0,307.2L372.0,307.7L369.6,306.7L368.7,305.2L367.4,305.2L367.1,305.5L368.2,307.0L369.1,308.9L369.7,309.1L369.7,308.0L370.1,309.5L371.7,309.3L373.0,307.9L373.2,309.1L374.8,309.8L375.6,310.6L374.7,312.0L374.1,313.1L372.1,314.5L370.1,315.5L367.6,316.7L364.9,317.5L363.8,317.7L363.3,316.0L363.3,314.9L361.9,312.7L360.7,311.2L359.9,309.5L358.8,308.1L357.7,306.6L357.4,306.6L356.7,306.5L356.0,305.3L357.2,304.2L357.7,303.0L358.4,301.2L358.5,300.3L357.4,300.3L355.6,300.7L354.0,300.7L352.2,300.2L351.6,299.1L351.6,297.9L353.4,297.3L355.1,297.1L357.7,296.6L360.3,297.4L362.4,296.9L362.6,296.6L360.6,294.8L359.5,294.2L357.9,294.4L356.7,294.8L355.9,294.1L354.9,293.3L354.1,293.9L353.3,294.8L352.7,295.8L352.7,296.7L351.3,297.5L349.1,297.7L348.8,297.8L349.1,298.7L349.8,299.4L348.4,300.5L348.0,300.2L347.8,299.1L346.6,297.6L346.5,296.6L344.1,295.5L342.4,294.0L341.4,294.2L341.5,295.0L342.7,296.2L344.1,296.9L345.9,297.9L344.8,298.7L344.2,299.4L343.9,299.3L343.8,298.0L341.9,297.1L340.5,296.2L339.9,295.2L338.9,294.8L338.0,295.3L336.2,295.6L334.8,295.7L334.9,296.6L333.2,297.3L332.4,298.4L332.7,298.9L332.1,299.7L331.1,300.4L329.4,300.4ZM587.2,300.9L586.7,300.3L585.9,300.0L584.8,300.2L584.9,298.9L584.4,298.9L584.8,297.9L584.9,296.6L584.5,295.8L585.5,295.3L587.2,295.5L589.9,295.6L590.3,294.6L590.3,293.5L589.6,292.9L588.0,292.3L588.0,291.8L590.1,291.7L590.3,291.0L591.3,291.2L592.3,290.7L593.0,290.0L593.8,289.7L594.4,289.0L594.8,288.4L596.2,288.3L597.4,288.0L597.4,286.9L597.0,285.9L598.7,285.3L598.7,286.4L598.4,287.4L599.1,287.9L600.2,287.7L601.4,288.0L603.0,287.6L604.6,287.6L606.4,287.1L606.3,285.9L607.4,285.3L608.7,285.6L608.5,284.9L608.0,284.2L611.3,284.0L612.9,283.7L611.9,283.3L609.4,283.4L607.6,283.7L606.5,283.0L606.6,281.3L609.4,280.0L608.9,279.5L607.1,279.5L606.4,280.5L604.8,281.3L603.8,282.0L603.6,282.9L604.7,283.6L604.1,284.4L603.0,285.7L602.5,286.4L601.4,286.9L600.4,286.8L600.2,286.1L599.7,285.1L599.2,284.3L598.0,284.4L596.9,285.0L595.9,285.0L595.2,284.4L594.9,283.5L594.8,282.6L595.5,281.8L597.3,281.2L598.6,280.5L599.8,279.7L600.5,278.7L602.0,277.7L603.0,277.2L604.1,276.6L605.6,276.4L607.7,276.0L609.5,275.7L611.3,275.7L613.5,276.2L612.0,276.6L614.2,276.8L617.1,277.1L620.3,278.0L620.7,278.7L619.6,279.3L617.5,279.0L616.3,279.3L615.1,278.9L616.1,280.4L617.8,280.9L618.1,280.1L620.2,280.4L621.7,279.0L622.9,279.2L622.8,277.7L624.2,277.5L624.4,278.0L626.4,277.9L629.5,277.5L630.2,277.7L632.9,277.2L634.3,277.5L634.9,276.6L637.2,276.9L639.3,276.8L639.5,275.9L639.0,275.4L640.4,274.4L641.5,274.1L643.5,274.7L642.9,276.1L644.0,277.9L644.7,277.5L645.1,275.0L647.9,274.8L649.0,273.9L653.3,273.2L653.7,272.5L658.7,272.1L663.7,271.7L666.1,270.9L668.4,271.6L671.7,272.0L672.7,273.9L676.0,273.9L679.6,274.1L682.4,273.9L683.9,274.9L685.3,275.7L688.2,275.3L691.8,274.7L696.1,274.8L698.9,275.4L701.1,275.8L705.4,275.8L706.8,276.7L711.7,276.6L713.7,276.4L717.6,276.6L720.5,277.2L721.9,277.7L724.1,278.2L726.6,278.7L727.9,279.2L726.6,279.7L726.1,280.5L724.1,280.2L722.4,279.8L721.2,280.0L719.4,280.4L718.3,281.8L716.2,282.3L713.5,283.6L710.8,283.3L709.0,283.8L708.5,284.7L707.8,285.2L708.3,286.4L707.4,287.4L706.1,288.5L705.1,289.0L703.8,290.1L703.3,288.7L702.9,286.5L703.8,285.2L705.1,285.0L707.6,283.1L709.0,281.8L706.5,282.6L704.0,282.6L701.8,284.1L699.7,284.1L697.5,284.1L693.9,284.1L692.1,285.2L690.3,286.5L688.9,287.8L690.7,287.9L692.8,288.7L692.1,290.8L692.0,292.1L690.7,293.3L688.9,295.1L686.7,296.0L685.3,296.2L684.2,297.3L683.1,298.7L684.1,300.5L683.9,301.5L682.1,301.9L682.1,299.8L681.0,298.4L678.5,298.7L678.8,297.6L678.1,297.3L676.7,298.4L675.7,298.7L676.6,299.9L679.2,300.0L677.8,300.9L676.8,301.7L678.0,303.7L678.8,304.6L678.8,305.5L677.8,307.2L677.0,308.3L675.6,309.7L673.1,310.7L670.6,311.5L670.2,312.1L669.1,311.2L667.7,312.2L667.1,313.2L668.1,314.5L669.4,315.7L669.8,318.1L668.1,319.2L666.6,320.6L666.4,319.4L665.1,318.3L663.7,317.2L663.0,317.8L662.5,319.5L663.4,321.3L663.7,321.8L664.6,322.3L665.5,323.6L666.0,325.7L665.2,325.7L663.7,324.6L663.2,322.8L661.8,321.0L662.0,318.8L661.3,314.9L659.0,315.2L658.9,313.2L657.5,311.9L657.1,310.6L656.2,310.9L654.8,311.1L653.7,311.4L653.6,312.0L652.3,312.9L650.3,314.8L648.9,315.6L648.8,317.4L648.5,319.3L647.4,320.3L646.9,320.9L646.1,319.9L645.4,318.1L644.7,316.1L643.8,314.2L643.5,312.7L643.3,311.5L643.1,310.8L641.8,311.8L640.8,310.6L641.5,310.3L640.3,309.8L639.1,308.5L635.4,308.6L633.4,308.4L632.3,307.2L631.6,307.2L630.6,307.7L628.2,306.7L627.3,305.2L626.0,305.2L625.7,305.5L626.8,307.0L627.7,308.9L628.3,309.1L628.3,308.0L628.7,309.5L630.3,309.3L631.6,307.9L631.8,309.1L633.4,309.8L634.2,310.6L633.3,312.0L632.7,313.1L630.7,314.5L628.7,315.5L626.2,316.7L623.5,317.5L622.4,317.7L621.9,316.0L621.9,314.9L620.5,312.7L619.3,311.2L618.5,309.5L617.4,308.1L616.3,306.6L616.0,306.6L615.3,306.5L614.6,305.3L615.8,304.2L616.3,303.0L617.0,301.2L617.1,300.3L616.0,300.3L614.2,300.7L612.6,300.7L610.8,300.2L610.2,299.1L610.2,297.9L612.0,297.3L613.7,297.1L616.3,296.6L618.9,297.4L621.0,296.9L621.2,296.6L619.2,294.8L618.1,294.2L616.5,294.4L615.3,294.8L614.5,294.1L613.5,293.3L612.7,293.9L611.9,294.8L611.3,295.8L611.3,296.7L609.9,297.5L607.7,297.7L607.4,297.8L607.7,298.7L608.4,299.4L607.0,300.5L606.6,300.2L606.4,299.1L605.2,297.6L605.1,296.6L602.7,295.5L601.0,294.0L600.0,294.2L600.1,295.0L601.3,296.2L602.7,296.9L604.5,297.9L603.4,298.7L602.8,299.4L602.5,299.3L602.4,298.0L600.5,297.1L599.1,296.2L598.5,295.2L597.5,294.8L596.6,295.3L594.8,295.6L593.4,295.7L593.5,296.6L591.8,297.3L591.0,298.4L591.3,298.9L590.7,299.7L589.7,300.4L588.0,300.4ZM470.5,279.6L472.0,279.3L473.4,278.6L471.4,277.7L474.1,276.8L476.3,276.0L478.6,275.5L482.0,275.9L484.9,276.2L488.5,276.4L489.9,276.7L493.5,277.2L495.3,276.8L497.8,276.4L500.0,276.4L501.8,276.8L504.3,276.7L507.2,277.2L509.3,277.7L512.9,277.8L515.8,277.5L518.6,278.0L520.8,277.9L522.2,278.4L523.7,277.0L523.3,275.2L525.1,276.1L527.3,277.2L529.4,277.5L531.9,276.8L532.7,278.6L530.9,279.3L529.4,279.0L528.0,280.4L526.2,281.1L523.7,282.6L523.3,284.3L524.8,285.7L527.6,286.1L530.1,287.0L532.1,287.2L532.2,288.7L533.4,289.7L534.4,289.7L534.8,287.6L535.9,286.4L535.3,284.7L534.8,283.3L535.5,281.8L538.0,282.0L540.2,282.8L541.3,284.1L542.7,284.9L543.8,284.5L544.9,283.4L545.9,285.1L547.0,286.5L549.5,287.6L551.0,288.3L551.2,289.4L549.9,289.8L548.1,290.7L545.2,290.6L543.4,290.7L542.0,291.4L540.6,292.6L543.1,291.5L544.9,291.7L544.5,292.4L544.6,293.3L545.6,293.8L547.4,294.0L548.0,293.5L548.2,293.8L547.0,294.3L545.6,294.7L543.9,295.5L543.6,294.8L544.9,294.2L543.4,294.3L542.0,294.9L540.8,295.4L540.3,296.2L540.9,296.8L539.8,297.0L538.1,297.6L538.0,298.2L537.3,298.8L537.0,299.6L536.6,300.2L537.0,301.2L536.2,301.8L535.2,302.4L534.3,302.9L533.4,303.6L532.8,304.5L533.3,306.3L533.7,307.7L533.4,308.6L532.9,308.6L532.4,307.7L531.8,306.5L531.1,305.3L529.9,305.4L528.7,304.9L527.3,305.0L527.1,305.8L526.2,305.8L525.1,305.5L523.7,305.5L522.6,306.1L521.4,307.0L521.2,308.2L521.0,310.6L521.9,312.7L523.1,313.4L524.8,313.4L525.8,313.1L526.3,311.6L528.0,311.3L528.8,311.5L528.3,312.7L527.8,313.6L527.8,315.2L529.4,315.3L531.4,316.0L531.2,318.1L531.1,319.0L532.3,320.3L534.1,319.9L535.5,320.6L536.0,320.6L537.0,319.2L538.0,318.7L539.5,317.9L540.2,318.3L539.8,319.0L539.6,320.3L540.2,319.9L540.9,318.5L542.4,319.2L544.5,319.5L546.7,319.0L547.4,319.5L548.1,320.6L549.5,321.7L551.7,322.4L553.8,323.1L554.6,323.9L555.3,325.4L554.9,326.7L556.4,327.4L558.9,327.8L561.0,328.7L563.2,329.2L564.6,330.3L565.9,330.7L566.1,332.5L565.7,333.6L564.6,334.6L563.5,336.1L563.2,338.2L562.8,340.0L562.1,341.5L561.7,342.5L560.3,343.3L558.9,343.8L557.1,344.7L556.4,345.8L556.2,347.2L554.9,349.0L553.5,350.8L552.4,351.7L550.6,351.7L549.2,351.4L550.0,352.6L549.9,354.0L548.1,354.6L546.5,354.6L546.3,355.8L544.9,356.2L544.5,357.3L545.2,357.5L544.1,359.1L542.7,359.9L543.8,360.9L542.1,362.7L541.6,363.7L542.1,364.4L541.3,364.5L542.0,365.2L544.3,366.1L542.4,366.5L540.2,366.2L537.7,364.4L537.1,362.6L538.0,360.5L537.0,360.1L538.0,358.3L538.4,356.5L538.2,354.7L538.6,353.3L539.5,351.2L539.8,349.7L539.8,346.8L540.6,344.7L540.8,341.1L540.7,339.9L539.5,339.1L537.0,337.5L536.4,336.4L535.5,335.0L534.4,332.5L533.0,331.0L532.8,330.0L533.7,328.9L533.7,328.5L533.0,327.4L533.7,326.0L534.5,325.7L535.5,324.2L535.7,322.4L535.2,321.3L534.1,321.5L533.4,321.3L532.7,321.0L531.2,320.6L529.6,319.5L529.6,318.7L528.3,317.5L526.9,317.0L525.5,316.7L524.4,315.5L523.3,315.1L521.9,315.5L520.4,315.0L518.6,314.2L516.9,313.6L515.4,312.4L515.6,311.3L515.3,310.2L514.0,309.1L512.6,307.7L511.5,306.7L510.2,305.2L508.9,304.0L508.9,305.2L510.0,306.3L510.7,307.7L512.0,309.3L512.3,310.3L511.1,309.1L510.6,308.1L509.2,306.9L508.4,305.5L507.3,303.9L507.0,303.2L506.1,302.3L504.6,301.9L503.6,300.4L503.2,299.6L502.3,298.1L501.8,296.6L502.1,293.7L501.6,292.0L502.8,292.0L502.6,291.2L501.0,290.8L499.4,290.1L498.9,289.0L497.8,287.6L496.7,286.5L494.9,285.1L493.1,284.9L491.0,283.8L488.5,283.6L486.0,283.3L484.5,283.4L482.4,284.2L482.5,283.1L480.9,284.3L480.2,285.4L478.8,286.1L477.0,286.8L474.8,287.2L472.9,287.6L474.5,286.9L477.0,285.9L478.1,284.6L475.0,284.6L474.8,283.6L472.7,283.2L473.0,281.5L475.5,280.4L473.0,280.3L471.6,279.9ZM538.8,270.3L542.4,268.9L548.1,267.8L569.6,266.7L578.3,268.2L577.5,270.7L576.8,272.9L575.4,274.7L575.4,276.3L573.2,276.9L568.9,277.9L566.1,279.3L563.2,279.7L561.7,281.1L560.7,282.9L559.6,283.6L558.2,283.1L556.4,282.6L554.9,281.5L553.8,280.0L552.8,278.6L553.1,277.5L554.6,276.8L552.4,276.1L551.3,275.0L550.3,273.2L548.1,272.1L543.1,272.1L539.5,271.1ZM573.6,279.7L575.0,279.0L578.3,278.9L580.8,279.1L581.5,280.0L580.4,280.6L577.9,281.3L575.0,280.9ZM546.7,279.0L544.9,280.0L543.4,282.2L539.8,281.6L538.0,280.4L535.5,280.5L538.8,278.2L539.5,277.2L536.6,276.1L533.7,275.0L530.1,274.0L526.5,273.9L533.7,273.8L536.6,274.5L540.9,275.9L542.4,276.4L543.1,277.2L546.3,278.6ZM599.1,270.3L602.0,271.4L605.6,270.7L607.7,269.6L604.1,269.0L599.1,269.4ZM370.0,275.4L372.1,275.9L373.9,275.9L372.8,274.7L374.3,273.2L377.1,272.5L381.4,271.6L380.0,271.4L375.0,272.1L372.1,273.2L370.7,274.7ZM400.8,270.3L404.4,270.1L408.0,269.6L404.4,268.5L398.7,268.9ZM430.3,272.9L433.9,273.6L438.2,272.9L435.3,272.1L431.0,272.1ZM461.9,275.7L464.1,275.8L463.3,275.4L461.9,275.3ZM587.1,290.8L589.0,290.4L592.2,290.0L592.4,288.9L591.4,288.3L590.1,287.2L589.8,286.5L589.9,285.4L589.0,284.6L587.6,284.6L586.7,285.8L587.2,286.9L587.7,287.4L588.9,287.3L588.7,287.9L589.0,288.4L587.8,288.8L588.2,289.7L587.4,289.6L588.7,289.8ZM586.9,289.4L586.7,288.1L587.2,287.6L586.5,287.1L585.1,287.1L584.0,287.9L583.8,289.4L585.5,289.7ZM530.2,311.0L531.9,310.4L533.7,310.1L535.9,311.1L537.9,312.2L535.5,312.4L535.2,311.9L533.0,311.2L530.9,311.1ZM537.8,313.4L539.0,312.4L541.3,312.7L542.1,313.4L539.8,314.1ZM535.0,313.5L536.5,313.7L536.0,313.9L535.0,313.7ZM542.9,313.4L544.1,313.5L544.0,313.8L542.9,313.8ZM548.5,292.5L551.0,291.2L551.3,289.7L552.8,291.2L553.4,292.6L552.8,293.3L551.0,292.5ZM499.0,290.2L501.4,290.6L502.6,292.0L501.4,291.7L499.6,290.8ZM414.1,342.5L414.6,345.4L415.1,347.9L415.2,350.8L415.6,351.4L417.4,351.9L419.5,351.1L421.3,351.1L423.1,349.9L425.3,349.5L426.8,349.4L428.7,349.9L430.1,351.8L430.7,350.8L431.6,350.4L431.4,352.2L432.1,351.9L432.9,353.0L433.6,354.0L435.7,354.6L436.8,354.2L437.7,354.8L438.6,354.0L440.3,353.7L440.5,352.2L441.3,350.9L442.1,349.7L442.9,347.2L442.6,345.0L441.3,344.0L440.3,342.7L439.4,341.3L437.7,340.3L437.0,338.2L437.0,337.4L435.7,336.8L435.0,334.4L434.3,336.1L434.2,337.9L433.7,339.3L432.6,339.2L430.7,337.9L429.9,337.4L430.9,335.5L430.3,335.3L427.8,335.0L426.7,335.5L425.6,337.4L424.5,337.1L423.5,336.8L422.0,338.5L420.4,339.3L419.9,340.7L417.7,341.3L416.3,341.6L414.9,342.4ZM436.5,356.0L439.1,356.1L438.9,357.8L437.5,358.0L436.9,356.9ZM456.7,351.4L457.9,352.2L459.0,353.5L460.8,353.8L460.4,354.9L459.6,355.3L458.5,356.6L458.0,356.4L458.3,355.4L457.4,354.9L458.0,354.0L457.8,352.9ZM456.7,355.8L457.8,356.7L457.1,357.8L455.6,358.6L455.1,359.7L454.0,360.2L452.2,359.8L452.3,359.1L453.5,358.3L455.1,357.5L455.8,356.7ZM401.1,322.7L402.6,323.0L404.6,325.1L407.2,327.4L408.7,328.9L408.6,330.9L407.7,331.0L406.1,329.6L405.0,328.2L404.1,326.7L403.4,325.3L401.9,324.1ZM408.2,331.6L409.1,331.0L410.4,331.3L412.0,331.7L413.6,331.7L414.8,332.3L414.8,333.0L412.3,332.6L410.2,332.3L408.4,331.7ZM415.2,332.6L418.1,332.7L420.2,332.7L422.4,332.5L423.8,332.8L422.4,333.5L421.3,334.1L419.5,333.6L417.4,333.2L415.2,333.1ZM410.9,325.6L411.3,325.3L412.3,325.6L413.8,324.4L415.4,323.0L416.5,321.7L418.2,323.0L417.4,323.6L417.2,326.0L418.1,326.1L417.0,327.3L416.3,328.5L415.9,329.5L414.8,329.6L413.8,329.0L412.3,328.9L411.6,328.0L410.9,326.9ZM418.4,330.7L419.1,330.8L419.0,328.7L419.5,328.6L419.7,330.2L420.8,330.1L419.9,328.0L421.2,327.4L420.6,327.2L419.2,327.4L419.0,326.4L421.0,326.4L422.3,325.7L422.0,326.4L418.8,326.2L418.7,327.3L417.9,328.6ZM424.2,325.3L424.9,325.7L424.5,326.4L425.0,327.1L424.2,327.3L424.0,326.2ZM426.7,327.8L427.8,327.0L429.2,327.4L429.9,329.0L431.7,328.0L433.9,328.6L436.4,329.5L437.5,330.7L438.6,331.2L439.3,332.8L440.7,334.3L440.0,334.1L438.6,334.0L437.5,332.6L436.0,332.3L435.6,333.2L435.0,333.4L433.9,333.3L432.8,332.5L431.8,332.8L431.5,330.4L429.6,329.9L428.1,329.6L427.4,328.7L428.5,328.3L427.6,328.2ZM439.3,330.7L440.7,330.7L441.8,329.7L441.4,330.7L439.6,331.2ZM419.2,313.4L420.4,313.4L420.5,314.9L419.9,315.5L420.0,316.5L421.7,316.8L421.8,317.7L420.8,317.4L419.5,316.8L419.2,316.3L418.7,315.2ZM420.2,321.7L421.3,321.2L422.7,319.9L423.5,321.0L423.3,322.2L422.6,322.7L421.7,322.2ZM420.2,318.3L421.3,319.2L422.4,318.5L422.9,317.8L422.0,317.8L421.0,319.5L420.2,319.2ZM416.8,320.7L418.4,318.5L418.2,319.3L417.0,320.8ZM418.9,310.2L419.5,308.6L420.2,308.8L419.4,310.9ZM410.6,312.9L412.0,312.3L412.3,312.7L411.3,313.7ZM426.6,302.3L427.8,301.3L429.9,301.2L430.9,299.9L432.1,299.8L433.2,298.4L433.2,297.0L434.2,297.1L434.6,298.4L433.9,299.2L433.8,300.5L433.4,301.5L432.4,301.7L430.9,302.1L429.6,302.5L429.2,301.9L427.8,302.3ZM433.2,296.9L433.2,295.6L434.4,294.1L436.0,295.0L437.0,295.6L435.5,296.6L433.9,296.3ZM425.8,302.7L426.7,302.4L427.4,303.0L426.8,304.3L426.1,304.3L425.8,303.2ZM427.8,303.0L429.4,302.3L429.0,302.8L428.1,303.2ZM434.6,293.7L435.7,293.3L435.3,291.2L436.4,291.5L435.5,289.7L435.2,287.7L434.7,287.9L434.7,290.1L434.5,291.9ZM390.0,319.7L390.9,320.6L391.4,321.5L391.0,322.3L390.2,322.4L389.9,321.3ZM368.0,335.3L368.9,337.9L368.2,339.3L367.4,341.5L366.7,344.0L366.4,344.7L365.1,345.0L364.2,344.5L363.7,342.5L364.4,341.1L364.2,338.9L365.6,338.1L366.7,337.1L367.7,336.1ZM450.4,341.2L452.6,342.7L452.2,342.8L450.5,341.7ZM460.0,339.3L460.9,339.1L460.7,339.8L460.0,339.7ZM479.1,312.2L480.0,312.7L479.2,313.2L479.1,312.5ZM203.3,382.8L210.5,382.8L217.7,382.0L224.8,381.0L232.0,380.5L239.2,379.7L242.8,378.7L250.0,378.6L257.9,378.4L262.2,379.5L267.9,379.9L273.7,379.5L278.7,378.1L282.3,376.3L285.9,374.1L289.5,372.7L291.7,372.1L290.9,373.1L288.8,374.5L287.3,376.3L288.1,378.4L289.5,381.3L296.7,382.8L307.5,382.8L314.6,381.3L320.4,377.9L325.4,377.7L332.6,377.6L339.8,377.6L347.0,377.3L350.6,376.8L355.6,376.3L361.9,374.9L368.5,374.5L375.7,374.3L380.0,374.9L381.4,377.0L382.9,378.1L384.3,376.3L387.2,374.9L393.7,374.1L400.8,373.6L407.3,373.1L415.2,373.6L422.4,373.8L429.6,374.0L435.8,374.3L440.3,374.9L446.1,375.6L449.0,376.2L451.8,377.2L455.4,378.4L456.6,381.3L456.2,382.8L461.9,382.8L461.9,391.4L203.3,391.4ZM461.9,382.8L469.1,382.8L476.3,382.0L483.4,381.0L490.6,380.5L497.8,379.7L501.4,378.7L508.6,378.6L516.5,378.4L520.8,379.5L526.5,379.9L532.3,379.5L537.3,378.1L540.9,376.3L544.5,374.1L548.1,372.7L550.3,372.1L549.5,373.1L547.4,374.5L545.9,376.3L546.7,378.4L548.1,381.3L555.3,382.8L566.1,382.8L573.2,381.3L579.0,377.9L584.0,377.7L591.2,377.6L598.4,377.6L605.6,377.3L609.2,376.8L614.2,376.3L620.5,374.9L627.1,374.5L634.3,374.3L638.6,374.9L640.0,377.0L641.5,378.1L642.9,376.3L645.8,374.9L652.3,374.1L659.4,373.6L665.9,373.1L673.8,373.6L681.0,373.8L688.2,374.0L694.3,374.3L698.9,374.9L704.7,375.6L707.6,376.2L710.4,377.2L714.0,378.4L715.2,381.3L714.8,382.8L720.5,382.8L720.5,391.4L461.9,391.4Z" fill="#858585" stroke="#000" stroke-width="0.85" stroke-linejoin="round"/><path d="M366.4,294.0L367.8,293.3L369.6,293.0L370.7,294.0L369.2,294.8L369.6,296.2L370.7,296.6L371.4,298.0L370.7,299.8L369.2,300.3L367.8,299.8L368.2,297.6L367.1,296.6L366.7,295.5Z" fill="none" stroke="#000" stroke-width="0.7"/><path d="M243.5,273.4L250.0,273.3L257.2,273.1L264.4,273.3L269.4,273.4M502.1,273.4L508.6,273.3L515.8,273.1L523.0,273.3L528.0,273.4M247.8,274.7L252.1,275.0L257.9,275.4M506.4,274.7L510.7,275.0L516.5,275.4M260.8,274.7L263.6,274.3L266.5,275.0M519.4,274.7L522.2,274.3L525.1,275.0M252.1,272.1L257.2,271.9L262.2,271.6M510.7,272.1L515.8,271.9L520.8,271.6M264.4,271.8L267.9,271.1L273.7,270.8L276.6,270.3M523.0,271.8L526.5,271.1L532.3,270.8L535.2,270.3M247.8,276.1L253.6,276.2L259.3,276.8M506.4,276.1L512.2,276.2L517.9,276.8M271.5,276.1L273.7,275.4L276.6,274.9M530.1,276.1L532.3,275.4L535.2,274.9M267.9,270.0L275.1,269.1L280.9,268.7M526.5,270.0L533.7,269.1L539.5,268.7" fill="none" stroke="#000" stroke-width="0.6"/><path d="M375.70,268.93V379.92999999999995M418.80,268.93V379.92999999999995M461.90,268.93V379.92999999999995M505.00,268.93V379.92999999999995M548.10,268.93V379.92999999999995M591.20,268.93V379.92999999999995M350.59999999999997,283.63H609.3M350.59999999999997,298.00H609.3M350.59999999999997,312.36H609.3M350.59999999999997,326.73H609.3M350.59999999999997,341.10H609.3M350.59999999999997,355.46H609.3M350.59999999999997,369.83H609.3" stroke="#000" stroke-width="1" opacity="0.6" fill="none"/></g><rect x="350.59999999999997" y="268.93" width="258.7" height="111.0" fill="none" stroke="#000" stroke-width="1.1"/><rect x="612.60" y="268.93" width="5.47" height="12.05" fill="#c9c9c9"/><rect x="618.02" y="268.93" width="5.47" height="12.05" fill="#c9c9c9"/><rect x="623.43" y="268.93" width="5.47" height="12.05" fill="#c9c9c9"/><rect x="628.85" y="268.93" width="5.47" height="12.05" fill="#c9c9c9"/><rect x="634.27" y="268.93" width="5.47" height="12.05" fill="#c9c9c9"/><rect x="639.68" y="268.93" width="5.47" height="12.05" fill="#c9c9c9"/><rect x="645.10" y="268.93" width="5.47" height="12.05" fill="#c9c9c9"/><rect x="650.52" y="268.93" width="5.47" height="12.05" fill="#c9c9c9"/><rect x="655.93" y="268.93" width="5.47" height="12.05" fill="#c9c9c9"/><rect x="661.35" y="268.93" width="5.47" height="12.05" fill="#c9c9c9"/><rect x="666.77" y="268.93" width="5.47" height="12.05" fill="#c9c9c9"/><rect x="672.18" y="268.93" width="5.47" height="12.05" fill="#c9c9c9"/><rect x="612.60" y="280.93" width="5.47" height="2.05" fill="#ebdad4"/><rect x="618.02" y="280.93" width="5.47" height="2.05" fill="#ebdad4"/><rect x="623.43" y="280.93" width="5.47" height="2.05" fill="#ebdad4"/><rect x="628.85" y="280.93" width="5.47" height="2.05" fill="#ebdad4"/><rect x="634.27" y="280.93" width="5.47" height="2.05" fill="#ebdad4"/><rect x="639.68" y="280.93" width="5.47" height="2.05" fill="#ebdad4"/><rect x="645.10" y="280.93" width="5.47" height="2.05" fill="#ebdad4"/><rect x="650.52" y="280.93" width="5.47" height="2.05" fill="#ebdad4"/><rect x="655.93" y="280.93" width="5.47" height="2.05" fill="#ebdad4"/><rect x="661.35" y="280.93" width="5.47" height="2.05" fill="#ebdad4"/><rect x="666.77" y="280.93" width="5.47" height="2.05" fill="#ebdad4"/><rect x="672.18" y="280.93" width="5.47" height="2.05" fill="#ebdad4"/><rect x="612.60" y="282.93" width="5.47" height="2.05" fill="#3d86b7"/><rect x="618.02" y="282.93" width="5.47" height="2.05" fill="#3d86b7"/><rect x="623.43" y="282.93" width="5.47" height="2.05" fill="#3d86b7"/><rect x="628.85" y="282.93" width="5.47" height="2.05" fill="#3d86b7"/><rect x="634.27" y="282.93" width="5.47" height="2.05" fill="#3d86b7"/><rect x="639.68" y="282.93" width="5.47" height="2.05" fill="#3d86b7"/><rect x="645.10" y="282.93" width="5.47" height="2.05" fill="#3d86b7"/><rect x="650.52" y="282.93" width="5.47" height="2.05" fill="#3d86b7"/><rect x="655.93" y="282.93" width="5.47" height="2.05" fill="#3d86b7"/><rect x="661.35" y="282.93" width="5.47" height="2.05" fill="#3d86b7"/><rect x="666.77" y="282.93" width="5.47" height="2.05" fill="#3d86b7"/><rect x="672.18" y="282.93" width="5.47" height="2.05" fill="#3d86b7"/><rect x="612.60" y="284.93" width="5.47" height="2.05" fill="#ebdad4"/><rect x="618.02" y="284.93" width="5.47" height="2.05" fill="#ebdad4"/><rect x="623.43" y="284.93" width="5.47" height="2.05" fill="#f1ecea"/><rect x="628.85" y="284.93" width="5.47" height="2.05" fill="#f1ecea"/><rect x="634.27" y="284.93" width="5.47" height="2.05" fill="#f1ecea"/><rect x="639.68" y="284.93" width="5.47" height="2.05" fill="#ebdad4"/><rect x="645.10" y="284.93" width="5.47" height="2.05" fill="#f1ecea"/><rect x="650.52" y="284.93" width="5.47" height="2.05" fill="#dee2e2"/><rect x="655.93" y="284.93" width="5.47" height="2.05" fill="#dee2e2"/><rect x="661.35" y="284.93" width="5.47" height="2.05" fill="#f1ecea"/><rect x="666.77" y="284.93" width="5.47" height="2.05" fill="#f1ecea"/><rect x="672.18" y="284.93" width="5.47" height="2.05" fill="#f1ecea"/><rect x="612.60" y="286.93" width="5.47" height="2.05" fill="#cbd7da"/><rect x="618.02" y="286.93" width="5.47" height="2.05" fill="#cbd7da"/><rect x="623.43" y="286.93" width="5.47" height="2.05" fill="#dee2e2"/><rect x="628.85" y="286.93" width="5.47" height="2.05" fill="#f1ecea"/><rect x="634.27" y="286.93" width="5.47" height="2.05" fill="#dee2e2"/><rect x="639.68" y="286.93" width="5.47" height="2.05" fill="#dee2e2"/><rect x="645.10" y="286.93" width="5.47" height="2.05" fill="#cbd7da"/><rect x="650.52" y="286.93" width="5.47" height="2.05" fill="#cbd7da"/><rect x="655.93" y="286.93" width="5.47" height="2.05" fill="#dee2e2"/><rect x="661.35" y="286.93" width="5.47" height="2.05" fill="#dee2e2"/><rect x="666.77" y="286.93" width="5.47" height="2.05" fill="#cbd7da"/><rect x="672.18" y="286.93" width="5.47" height="2.05" fill="#cbd7da"/><rect x="612.60" y="288.93" width="5.47" height="2.05" fill="#ddab98"/><rect x="618.02" y="288.93" width="5.47" height="2.05" fill="#e1b9ab"/><rect x="623.43" y="288.93" width="5.47" height="2.05" fill="#e5c8bd"/><rect x="628.85" y="288.93" width="5.47" height="2.05" fill="#e5c8bd"/><rect x="634.27" y="288.93" width="5.47" height="2.05" fill="#ddab98"/><rect x="639.68" y="288.93" width="5.47" height="2.05" fill="#e1b9ab"/><rect x="645.10" y="288.93" width="5.47" height="2.05" fill="#e5c8bd"/><rect x="650.52" y="288.93" width="5.47" height="2.05" fill="#ddab98"/><rect x="655.93" y="288.93" width="5.47" height="2.05" fill="#e5c8bd"/><rect x="661.35" y="288.93" width="5.47" height="2.05" fill="#e5c8bd"/><rect x="666.77" y="288.93" width="5.47" height="2.05" fill="#e1b9ab"/><rect x="672.18" y="288.93" width="5.47" height="2.05" fill="#e1b9ab"/><rect x="612.60" y="290.93" width="5.47" height="2.05" fill="#ebdad4"/><rect x="618.02" y="290.93" width="5.47" height="2.05" fill="#ebdad4"/><rect x="623.43" y="290.93" width="5.47" height="2.05" fill="#ebdad4"/><rect x="628.85" y="290.93" width="5.47" height="2.05" fill="#ebdad4"/><rect x="634.27" y="290.93" width="5.47" height="2.05" fill="#ebdad4"/><rect x="639.68" y="290.93" width="5.47" height="2.05" fill="#ebdad4"/><rect x="645.10" y="290.93" width="5.47" height="2.05" fill="#ebdad4"/><rect x="650.52" y="290.93" width="5.47" height="2.05" fill="#f1ecea"/><rect x="655.93" y="290.93" width="5.47" height="2.05" fill="#f1ecea"/><rect x="661.35" y="290.93" width="5.47" height="2.05" fill="#f1ecea"/><rect x="666.77" y="290.93" width="5.47" height="2.05" fill="#ebdad4"/><rect x="672.18" y="290.93" width="5.47" height="2.05" fill="#ebdad4"/><rect x="612.60" y="292.93" width="5.47" height="2.05" fill="#cbd7da"/><rect x="618.02" y="292.93" width="5.47" height="2.05" fill="#cbd7da"/><rect x="623.43" y="292.93" width="5.47" height="2.05" fill="#cbd7da"/><rect x="628.85" y="292.93" width="5.47" height="2.05" fill="#dee2e2"/><rect x="634.27" y="292.93" width="5.47" height="2.05" fill="#cbd7da"/><rect x="639.68" y="292.93" width="5.47" height="2.05" fill="#cbd7da"/><rect x="645.10" y="292.93" width="5.47" height="2.05" fill="#cbd7da"/><rect x="650.52" y="292.93" width="5.47" height="2.05" fill="#b6ccd1"/><rect x="655.93" y="292.93" width="5.47" height="2.05" fill="#dee2e2"/><rect x="661.35" y="292.93" width="5.47" height="2.05" fill="#dee2e2"/><rect x="666.77" y="292.93" width="5.47" height="2.05" fill="#cbd7da"/><rect x="672.18" y="292.93" width="5.47" height="2.05" fill="#cbd7da"/><rect x="612.60" y="294.93" width="5.47" height="3.05" fill="#e1b9ab"/><rect x="618.02" y="294.93" width="5.47" height="3.05" fill="#e1b9ab"/><rect x="623.43" y="294.93" width="5.47" height="3.05" fill="#e5c8bd"/><rect x="628.85" y="294.93" width="5.47" height="3.05" fill="#e1b9ab"/><rect x="634.27" y="294.93" width="5.47" height="3.05" fill="#e1b9ab"/><rect x="639.68" y="294.93" width="5.47" height="3.05" fill="#e5c8bd"/><rect x="645.10" y="294.93" width="5.47" height="3.05" fill="#e5c8bd"/><rect x="650.52" y="294.93" width="5.47" height="3.05" fill="#e5c8bd"/><rect x="655.93" y="294.93" width="5.47" height="3.05" fill="#e1b9ab"/><rect x="661.35" y="294.93" width="5.47" height="3.05" fill="#e1b9ab"/><rect x="666.77" y="294.93" width="5.47" height="3.05" fill="#e1b9ab"/><rect x="672.18" y="294.93" width="5.47" height="3.05" fill="#e1b9ab"/><rect x="612.60" y="297.93" width="5.47" height="2.05" fill="#cbd7da"/><rect x="618.02" y="297.93" width="5.47" height="2.05" fill="#b6ccd1"/><rect x="623.43" y="297.93" width="5.47" height="2.05" fill="#b6ccd1"/><rect x="628.85" y="297.93" width="5.47" height="2.05" fill="#b6ccd1"/><rect x="634.27" y="297.93" width="5.47" height="2.05" fill="#b6ccd1"/><rect x="639.68" y="297.93" width="5.47" height="2.05" fill="#cbd7da"/><rect x="645.10" y="297.93" width="5.47" height="2.05" fill="#cbd7da"/><rect x="650.52" y="297.93" width="5.47" height="2.05" fill="#dee2e2"/><rect x="655.93" y="297.93" width="5.47" height="2.05" fill="#cbd7da"/><rect x="661.35" y="297.93" width="5.47" height="2.05" fill="#dee2e2"/><rect x="666.77" y="297.93" width="5.47" height="2.05" fill="#cbd7da"/><rect x="672.18" y="297.93" width="5.47" height="2.05" fill="#cbd7da"/><rect x="612.60" y="299.93" width="5.47" height="2.05" fill="#f1ecea"/><rect x="618.02" y="299.93" width="5.47" height="2.05" fill="#e1b9ab"/><rect x="623.43" y="299.93" width="5.47" height="2.05" fill="#e1b9ab"/><rect x="628.85" y="299.93" width="5.47" height="2.05" fill="#e5c8bd"/><rect x="634.27" y="299.93" width="5.47" height="2.05" fill="#e1b9ab"/><rect x="639.68" y="299.93" width="5.47" height="2.05" fill="#f1ecea"/><rect x="645.10" y="299.93" width="5.47" height="2.05" fill="#f1ecea"/><rect x="650.52" y="299.93" width="5.47" height="2.05" fill="#f1ecea"/><rect x="655.93" y="299.93" width="5.47" height="2.05" fill="#f1ecea"/><rect x="661.35" y="299.93" width="5.47" height="2.05" fill="#ebdad4"/><rect x="666.77" y="299.93" width="5.47" height="2.05" fill="#f1ecea"/><rect x="672.18" y="299.93" width="5.47" height="2.05" fill="#f1ecea"/><rect x="612.60" y="301.93" width="5.47" height="2.05" fill="#cbd7da"/><rect x="618.02" y="301.93" width="5.47" height="2.05" fill="#cbd7da"/><rect x="623.43" y="301.93" width="5.47" height="2.05" fill="#cbd7da"/><rect x="628.85" y="301.93" width="5.47" height="2.05" fill="#b6ccd1"/><rect x="634.27" y="301.93" width="5.47" height="2.05" fill="#cbd7da"/><rect x="639.68" y="301.93" width="5.47" height="2.05" fill="#cbd7da"/><rect x="645.10" y="301.93" width="5.47" height="2.05" fill="#cbd7da"/><rect x="650.52" y="301.93" width="5.47" height="2.05" fill="#b6ccd1"/><rect x="655.93" y="301.93" width="5.47" height="2.05" fill="#cbd7da"/><rect x="661.35" y="301.93" width="5.47" height="2.05" fill="#cbd7da"/><rect x="666.77" y="301.93" width="5.47" height="2.05" fill="#cbd7da"/><rect x="672.18" y="301.93" width="5.47" height="2.05" fill="#cbd7da"/><rect x="612.60" y="303.93" width="5.47" height="2.05" fill="#f1ecea"/><rect x="618.02" y="303.93" width="5.47" height="2.05" fill="#ebdad4"/><rect x="623.43" y="303.93" width="5.47" height="2.05" fill="#f1ecea"/><rect x="628.85" y="303.93" width="5.47" height="2.05" fill="#f1ecea"/><rect x="634.27" y="303.93" width="5.47" height="2.05" fill="#f1ecea"/><rect x="639.68" y="303.93" width="5.47" height="2.05" fill="#ebdad4"/><rect x="645.10" y="303.93" width="5.47" height="2.05" fill="#f1ecea"/><rect x="650.52" y="303.93" width="5.47" height="2.05" fill="#f1ecea"/><rect x="655.93" y="303.93" width="5.47" height="2.05" fill="#f1ecea"/><rect x="661.35" y="303.93" width="5.47" height="2.05" fill="#f1ecea"/><rect x="666.77" y="303.93" width="5.47" height="2.05" fill="#ebdad4"/><rect x="672.18" y="303.93" width="5.47" height="2.05" fill="#f1ecea"/><rect x="612.60" y="305.93" width="5.47" height="4.05" fill="#d6dddf"/><rect x="618.02" y="305.93" width="5.47" height="4.05" fill="#d6dddf"/><rect x="623.43" y="305.93" width="5.47" height="4.05" fill="#d6dddf"/><rect x="628.85" y="305.93" width="5.47" height="4.05" fill="#d6dddf"/><rect x="634.27" y="305.93" width="5.47" height="4.05" fill="#d6dddf"/><rect x="639.68" y="305.93" width="5.47" height="4.05" fill="#d6dddf"/><rect x="645.10" y="305.93" width="5.47" height="4.05" fill="#d6dddf"/><rect x="650.52" y="305.93" width="5.47" height="4.05" fill="#d6dddf"/><rect x="655.93" y="305.93" width="5.47" height="4.05" fill="#d6dddf"/><rect x="661.35" y="305.93" width="5.47" height="4.05" fill="#d6dddf"/><rect x="666.77" y="305.93" width="5.47" height="4.05" fill="#d6dddf"/><rect x="672.18" y="305.93" width="5.47" height="4.05" fill="#d6dddf"/><rect x="612.60" y="309.93" width="5.47" height="2.05" fill="#dee2e2"/><rect x="618.02" y="309.93" width="5.47" height="2.05" fill="#dee2e2"/><rect x="623.43" y="309.93" width="5.47" height="2.05" fill="#dee2e2"/><rect x="628.85" y="309.93" width="5.47" height="2.05" fill="#dee2e2"/><rect x="634.27" y="309.93" width="5.47" height="2.05" fill="#dee2e2"/><rect x="639.68" y="309.93" width="5.47" height="2.05" fill="#dee2e2"/><rect x="645.10" y="309.93" width="5.47" height="2.05" fill="#dee2e2"/><rect x="650.52" y="309.93" width="5.47" height="2.05" fill="#dee2e2"/><rect x="655.93" y="309.93" width="5.47" height="2.05" fill="#dee2e2"/><rect x="661.35" y="309.93" width="5.47" height="2.05" fill="#dee2e2"/><rect x="666.77" y="309.93" width="5.47" height="2.05" fill="#dee2e2"/><rect x="672.18" y="309.93" width="5.47" height="2.05" fill="#dee2e2"/><rect x="612.60" y="311.93" width="5.47" height="2.05" fill="#f1ecea"/><rect x="618.02" y="311.93" width="5.47" height="2.05" fill="#f1ecea"/><rect x="623.43" y="311.93" width="5.47" height="2.05" fill="#f1ecea"/><rect x="628.85" y="311.93" width="5.47" height="2.05" fill="#dee2e2"/><rect x="634.27" y="311.93" width="5.47" height="2.05" fill="#f1ecea"/><rect x="639.68" y="311.93" width="5.47" height="2.05" fill="#ebdad4"/><rect x="645.10" y="311.93" width="5.47" height="2.05" fill="#e5c8bd"/><rect x="650.52" y="311.93" width="5.47" height="2.05" fill="#ebdad4"/><rect x="655.93" y="311.93" width="5.47" height="2.05" fill="#f1ecea"/><rect x="661.35" y="311.93" width="5.47" height="2.05" fill="#dee2e2"/><rect x="666.77" y="311.93" width="5.47" height="2.05" fill="#f1ecea"/><rect x="672.18" y="311.93" width="5.47" height="2.05" fill="#f1ecea"/><rect x="612.60" y="313.93" width="5.47" height="2.05" fill="#cbd7da"/><rect x="618.02" y="313.93" width="5.47" height="2.05" fill="#cbd7da"/><rect x="623.43" y="313.93" width="5.47" height="2.05" fill="#b6ccd1"/><rect x="628.85" y="313.93" width="5.47" height="2.05" fill="#cbd7da"/><rect x="634.27" y="313.93" width="5.47" height="2.05" fill="#cbd7da"/><rect x="639.68" y="313.93" width="5.47" height="2.05" fill="#b6ccd1"/><rect x="645.10" y="313.93" width="5.47" height="2.05" fill="#b6ccd1"/><rect x="650.52" y="313.93" width="5.47" height="2.05" fill="#cbd7da"/><rect x="655.93" y="313.93" width="5.47" height="2.05" fill="#cbd7da"/><rect x="661.35" y="313.93" width="5.47" height="2.05" fill="#cbd7da"/><rect x="666.77" y="313.93" width="5.47" height="2.05" fill="#b6ccd1"/><rect x="672.18" y="313.93" width="5.47" height="2.05" fill="#b6ccd1"/><rect x="612.60" y="315.93" width="5.47" height="2.05" fill="#b6ccd1"/><rect x="618.02" y="315.93" width="5.47" height="2.05" fill="#a0c0c8"/><rect x="623.43" y="315.93" width="5.47" height="2.05" fill="#84b0c1"/><rect x="628.85" y="315.93" width="5.47" height="2.05" fill="#b6ccd1"/><rect x="634.27" y="315.93" width="5.47" height="2.05" fill="#a0c0c8"/><rect x="639.68" y="315.93" width="5.47" height="2.05" fill="#b6ccd1"/><rect x="645.10" y="315.93" width="5.47" height="2.05" fill="#a0c0c8"/><rect x="650.52" y="315.93" width="5.47" height="2.05" fill="#b6ccd1"/><rect x="655.93" y="315.93" width="5.47" height="2.05" fill="#cbd7da"/><rect x="661.35" y="315.93" width="5.47" height="2.05" fill="#b6ccd1"/><rect x="666.77" y="315.93" width="5.47" height="2.05" fill="#a0c0c8"/><rect x="672.18" y="315.93" width="5.47" height="2.05" fill="#b6ccd1"/><rect x="612.60" y="317.93" width="5.47" height="2.05" fill="#c66248"/><rect x="618.02" y="317.93" width="5.47" height="2.05" fill="#d49176"/><rect x="623.43" y="317.93" width="5.47" height="2.05" fill="#d49176"/><rect x="628.85" y="317.93" width="5.47" height="2.05" fill="#d99e87"/><rect x="634.27" y="317.93" width="5.47" height="2.05" fill="#d99e87"/><rect x="639.68" y="317.93" width="5.47" height="2.05" fill="#d49176"/><rect x="645.10" y="317.93" width="5.47" height="2.05" fill="#d49176"/><rect x="650.52" y="317.93" width="5.47" height="2.05" fill="#bb4231"/><rect x="655.93" y="317.93" width="5.47" height="2.05" fill="#cd7a5c"/><rect x="661.35" y="317.93" width="5.47" height="2.05" fill="#cd7a5c"/><rect x="666.77" y="317.93" width="5.47" height="2.05" fill="#ca6f52"/><rect x="672.18" y="317.93" width="5.47" height="2.05" fill="#c66248"/><rect x="612.60" y="319.93" width="5.47" height="2.05" fill="#cbd7da"/><rect x="618.02" y="319.93" width="5.47" height="2.05" fill="#cbd7da"/><rect x="623.43" y="319.93" width="5.47" height="2.05" fill="#cbd7da"/><rect x="628.85" y="319.93" width="5.47" height="2.05" fill="#f1ecea"/><rect x="634.27" y="319.93" width="5.47" height="2.05" fill="#f1ecea"/><rect x="639.68" y="319.93" width="5.47" height="2.05" fill="#cbd7da"/><rect x="645.10" y="319.93" width="5.47" height="2.05" fill="#b6ccd1"/><rect x="650.52" y="319.93" width="5.47" height="2.05" fill="#a0c0c8"/><rect x="655.93" y="319.93" width="5.47" height="2.05" fill="#b6ccd1"/><rect x="661.35" y="319.93" width="5.47" height="2.05" fill="#cbd7da"/><rect x="666.77" y="319.93" width="5.47" height="2.05" fill="#cbd7da"/><rect x="672.18" y="319.93" width="5.47" height="2.05" fill="#cbd7da"/><rect x="612.60" y="321.93" width="5.47" height="2.05" fill="#cbd7da"/><rect x="618.02" y="321.93" width="5.47" height="2.05" fill="#cbd7da"/><rect x="623.43" y="321.93" width="5.47" height="2.05" fill="#f1ecea"/><rect x="628.85" y="321.93" width="5.47" height="2.05" fill="#e5c8bd"/><rect x="634.27" y="321.93" width="5.47" height="2.05" fill="#f1ecea"/><rect x="639.68" y="321.93" width="5.47" height="2.05" fill="#cbd7da"/><rect x="645.10" y="321.93" width="5.47" height="2.05" fill="#84b0c1"/><rect x="650.52" y="321.93" width="5.47" height="2.05" fill="#a0c0c8"/><rect x="655.93" y="321.93" width="5.47" height="2.05" fill="#a0c0c8"/><rect x="661.35" y="321.93" width="5.47" height="2.05" fill="#6aa1bc"/><rect x="666.77" y="321.93" width="5.47" height="2.05" fill="#b6ccd1"/><rect x="672.18" y="321.93" width="5.47" height="2.05" fill="#b6ccd1"/><rect x="612.60" y="323.93" width="5.47" height="2.55" fill="#f1ecea"/><rect x="618.02" y="323.93" width="5.47" height="2.55" fill="#dee2e2"/><rect x="623.43" y="323.93" width="5.47" height="2.55" fill="#e5c8bd"/><rect x="628.85" y="323.93" width="5.47" height="2.55" fill="#f1ecea"/><rect x="634.27" y="323.93" width="5.47" height="2.55" fill="#ebdad4"/><rect x="639.68" y="323.93" width="5.47" height="2.55" fill="#f1ecea"/><rect x="645.10" y="323.93" width="5.47" height="2.55" fill="#f1ecea"/><rect x="650.52" y="323.93" width="5.47" height="2.55" fill="#e5c8bd"/><rect x="655.93" y="323.93" width="5.47" height="2.55" fill="#f1ecea"/><rect x="661.35" y="323.93" width="5.47" height="2.55" fill="#dee2e2"/><rect x="666.77" y="323.93" width="5.47" height="2.55" fill="#f1ecea"/><rect x="672.18" y="323.93" width="5.47" height="2.55" fill="#a0c0c8"/><rect x="612.60" y="326.43" width="5.47" height="1.55" fill="#dee2e2"/><rect x="618.02" y="326.43" width="5.47" height="1.55" fill="#cbd7da"/><rect x="623.43" y="326.43" width="5.47" height="1.55" fill="#cbd7da"/><rect x="628.85" y="326.43" width="5.47" height="1.55" fill="#f1ecea"/><rect x="634.27" y="326.43" width="5.47" height="1.55" fill="#e1b9ab"/><rect x="639.68" y="326.43" width="5.47" height="1.55" fill="#e1b9ab"/><rect x="645.10" y="326.43" width="5.47" height="1.55" fill="#e1b9ab"/><rect x="650.52" y="326.43" width="5.47" height="1.55" fill="#d99e87"/><rect x="655.93" y="326.43" width="5.47" height="1.55" fill="#e1b9ab"/><rect x="661.35" y="326.43" width="5.47" height="1.55" fill="#e1b9ab"/><rect x="666.77" y="326.43" width="5.47" height="1.55" fill="#e5c8bd"/><rect x="672.18" y="326.43" width="5.47" height="1.55" fill="#e5c8bd"/><rect x="612.60" y="327.93" width="5.47" height="2.05" fill="#f1ecea"/><rect x="618.02" y="327.93" width="5.47" height="2.05" fill="#dee2e2"/><rect x="623.43" y="327.93" width="5.47" height="2.05" fill="#f1ecea"/><rect x="628.85" y="327.93" width="5.47" height="2.05" fill="#f1ecea"/><rect x="634.27" y="327.93" width="5.47" height="2.05" fill="#f1ecea"/><rect x="639.68" y="327.93" width="5.47" height="2.05" fill="#dee2e2"/><rect x="645.10" y="327.93" width="5.47" height="2.05" fill="#b6ccd1"/><rect x="650.52" y="327.93" width="5.47" height="2.05" fill="#b6ccd1"/><rect x="655.93" y="327.93" width="5.47" height="2.05" fill="#cbd7da"/><rect x="661.35" y="327.93" width="5.47" height="2.05" fill="#dee2e2"/><rect x="666.77" y="327.93" width="5.47" height="2.05" fill="#cbd7da"/><rect x="672.18" y="327.93" width="5.47" height="2.05" fill="#dee2e2"/><rect x="612.60" y="329.93" width="5.47" height="2.05" fill="#e5c8bd"/><rect x="618.02" y="329.93" width="5.47" height="2.05" fill="#e5c8bd"/><rect x="623.43" y="329.93" width="5.47" height="2.05" fill="#e5c8bd"/><rect x="628.85" y="329.93" width="5.47" height="2.05" fill="#ebdad4"/><rect x="634.27" y="329.93" width="5.47" height="2.05" fill="#ebdad4"/><rect x="639.68" y="329.93" width="5.47" height="2.05" fill="#ebdad4"/><rect x="645.10" y="329.93" width="5.47" height="2.05" fill="#ebdad4"/><rect x="650.52" y="329.93" width="5.47" height="2.05" fill="#ebdad4"/><rect x="655.93" y="329.93" width="5.47" height="2.05" fill="#ebdad4"/><rect x="661.35" y="329.93" width="5.47" height="2.05" fill="#ebdad4"/><rect x="666.77" y="329.93" width="5.47" height="2.05" fill="#ebdad4"/><rect x="672.18" y="329.93" width="5.47" height="2.05" fill="#e5c8bd"/><rect x="612.60" y="331.93" width="5.47" height="3.05" fill="#e1b9ab"/><rect x="618.02" y="331.93" width="5.47" height="3.05" fill="#e1b9ab"/><rect x="623.43" y="331.93" width="5.47" height="3.05" fill="#e1b9ab"/><rect x="628.85" y="331.93" width="5.47" height="3.05" fill="#e5c8bd"/><rect x="634.27" y="331.93" width="5.47" height="3.05" fill="#e5c8bd"/><rect x="639.68" y="331.93" width="5.47" height="3.05" fill="#e1b9ab"/><rect x="645.10" y="331.93" width="5.47" height="3.05" fill="#e1b9ab"/><rect x="650.52" y="331.93" width="5.47" height="3.05" fill="#e5c8bd"/><rect x="655.93" y="331.93" width="5.47" height="3.05" fill="#e5c8bd"/><rect x="661.35" y="331.93" width="5.47" height="3.05" fill="#e5c8bd"/><rect x="666.77" y="331.93" width="5.47" height="3.05" fill="#e5c8bd"/><rect x="672.18" y="331.93" width="5.47" height="3.05" fill="#e5c8bd"/><rect x="612.60" y="334.93" width="5.47" height="2.05" fill="#84b0c1"/><rect x="618.02" y="334.93" width="5.47" height="2.05" fill="#84b0c1"/><rect x="623.43" y="334.93" width="5.47" height="2.05" fill="#84b0c1"/><rect x="628.85" y="334.93" width="5.47" height="2.05" fill="#84b0c1"/><rect x="634.27" y="334.93" width="5.47" height="2.05" fill="#84b0c1"/><rect x="639.68" y="334.93" width="5.47" height="2.05" fill="#84b0c1"/><rect x="645.10" y="334.93" width="5.47" height="2.05" fill="#84b0c1"/><rect x="650.52" y="334.93" width="5.47" height="2.05" fill="#84b0c1"/><rect x="655.93" y="334.93" width="5.47" height="2.05" fill="#84b0c1"/><rect x="661.35" y="334.93" width="5.47" height="2.05" fill="#84b0c1"/><rect x="666.77" y="334.93" width="5.47" height="2.05" fill="#84b0c1"/><rect x="672.18" y="334.93" width="5.47" height="2.05" fill="#84b0c1"/><rect x="612.60" y="336.93" width="5.47" height="4.05" fill="#d6dddf"/><rect x="618.02" y="336.93" width="5.47" height="4.05" fill="#d6dddf"/><rect x="623.43" y="336.93" width="5.47" height="4.05" fill="#d6dddf"/><rect x="628.85" y="336.93" width="5.47" height="4.05" fill="#d6dddf"/><rect x="634.27" y="336.93" width="5.47" height="4.05" fill="#d6dddf"/><rect x="639.68" y="336.93" width="5.47" height="4.05" fill="#d6dddf"/><rect x="645.10" y="336.93" width="5.47" height="4.05" fill="#d6dddf"/><rect x="650.52" y="336.93" width="5.47" height="4.05" fill="#d6dddf"/><rect x="655.93" y="336.93" width="5.47" height="4.05" fill="#d6dddf"/><rect x="661.35" y="336.93" width="5.47" height="4.05" fill="#d6dddf"/><rect x="666.77" y="336.93" width="5.47" height="4.05" fill="#d6dddf"/><rect x="672.18" y="336.93" width="5.47" height="4.05" fill="#d6dddf"/><rect x="612.60" y="340.93" width="5.47" height="3.05" fill="#ebdad4"/><rect x="618.02" y="340.93" width="5.47" height="3.05" fill="#ebdad4"/><rect x="623.43" y="340.93" width="5.47" height="3.05" fill="#f1ecea"/><rect x="628.85" y="340.93" width="5.47" height="3.05" fill="#f1ecea"/><rect x="634.27" y="340.93" width="5.47" height="3.05" fill="#f1ecea"/><rect x="639.68" y="340.93" width="5.47" height="3.05" fill="#f1ecea"/><rect x="645.10" y="340.93" width="5.47" height="3.05" fill="#f1ecea"/><rect x="650.52" y="340.93" width="5.47" height="3.05" fill="#ebdad4"/><rect x="655.93" y="340.93" width="5.47" height="3.05" fill="#ebdad4"/><rect x="661.35" y="340.93" width="5.47" height="3.05" fill="#ebdad4"/><rect x="666.77" y="340.93" width="5.47" height="3.05" fill="#ebdad4"/><rect x="672.18" y="340.93" width="5.47" height="3.05" fill="#f1ecea"/><rect x="612.60" y="343.93" width="5.47" height="3.05" fill="#d6dddf"/><rect x="618.02" y="343.93" width="5.47" height="3.05" fill="#d6dddf"/><rect x="623.43" y="343.93" width="5.47" height="3.05" fill="#d6dddf"/><rect x="628.85" y="343.93" width="5.47" height="3.05" fill="#d6dddf"/><rect x="634.27" y="343.93" width="5.47" height="3.05" fill="#d6dddf"/><rect x="639.68" y="343.93" width="5.47" height="3.05" fill="#d6dddf"/><rect x="645.10" y="343.93" width="5.47" height="3.05" fill="#d6dddf"/><rect x="650.52" y="343.93" width="5.47" height="3.05" fill="#d6dddf"/><rect x="655.93" y="343.93" width="5.47" height="3.05" fill="#d6dddf"/><rect x="661.35" y="343.93" width="5.47" height="3.05" fill="#d6dddf"/><rect x="666.77" y="343.93" width="5.47" height="3.05" fill="#d6dddf"/><rect x="672.18" y="343.93" width="5.47" height="3.05" fill="#d6dddf"/><rect x="612.60" y="346.93" width="5.47" height="3.05" fill="#f1ecea"/><rect x="618.02" y="346.93" width="5.47" height="3.05" fill="#f1ecea"/><rect x="623.43" y="346.93" width="5.47" height="3.05" fill="#f1ecea"/><rect x="628.85" y="346.93" width="5.47" height="3.05" fill="#f1ecea"/><rect x="634.27" y="346.93" width="5.47" height="3.05" fill="#f1ecea"/><rect x="639.68" y="346.93" width="5.47" height="3.05" fill="#dee2e2"/><rect x="645.10" y="346.93" width="5.47" height="3.05" fill="#dee2e2"/><rect x="650.52" y="346.93" width="5.47" height="3.05" fill="#f1ecea"/><rect x="655.93" y="346.93" width="5.47" height="3.05" fill="#f1ecea"/><rect x="661.35" y="346.93" width="5.47" height="3.05" fill="#f1ecea"/><rect x="666.77" y="346.93" width="5.47" height="3.05" fill="#f1ecea"/><rect x="672.18" y="346.93" width="5.47" height="3.05" fill="#f1ecea"/><rect x="612.60" y="349.93" width="5.47" height="2.05" fill="#ebdad4"/><rect x="618.02" y="349.93" width="5.47" height="2.05" fill="#ebdad4"/><rect x="623.43" y="349.93" width="5.47" height="2.05" fill="#ebdad4"/><rect x="628.85" y="349.93" width="5.47" height="2.05" fill="#ebdad4"/><rect x="634.27" y="349.93" width="5.47" height="2.05" fill="#ebdad4"/><rect x="639.68" y="349.93" width="5.47" height="2.05" fill="#ebdad4"/><rect x="645.10" y="349.93" width="5.47" height="2.05" fill="#ebdad4"/><rect x="650.52" y="349.93" width="5.47" height="2.05" fill="#ebdad4"/><rect x="655.93" y="349.93" width="5.47" height="2.05" fill="#ebdad4"/><rect x="661.35" y="349.93" width="5.47" height="2.05" fill="#ebdad4"/><rect x="666.77" y="349.93" width="5.47" height="2.05" fill="#ebdad4"/><rect x="672.18" y="349.93" width="5.47" height="2.05" fill="#ebdad4"/><rect x="612.60" y="351.93" width="5.47" height="2.05" fill="#dee2e2"/><rect x="618.02" y="351.93" width="5.47" height="2.05" fill="#dee2e2"/><rect x="623.43" y="351.93" width="5.47" height="2.05" fill="#dee2e2"/><rect x="628.85" y="351.93" width="5.47" height="2.05" fill="#f1ecea"/><rect x="634.27" y="351.93" width="5.47" height="2.05" fill="#f1ecea"/><rect x="639.68" y="351.93" width="5.47" height="2.05" fill="#f1ecea"/><rect x="645.10" y="351.93" width="5.47" height="2.05" fill="#f1ecea"/><rect x="650.52" y="351.93" width="5.47" height="2.05" fill="#f1ecea"/><rect x="655.93" y="351.93" width="5.47" height="2.05" fill="#f1ecea"/><rect x="661.35" y="351.93" width="5.47" height="2.05" fill="#f1ecea"/><rect x="666.77" y="351.93" width="5.47" height="2.05" fill="#f1ecea"/><rect x="672.18" y="351.93" width="5.47" height="2.05" fill="#f1ecea"/><rect x="612.60" y="353.93" width="5.47" height="1.55" fill="#bb4231"/><rect x="618.02" y="353.93" width="5.47" height="1.55" fill="#b12f2c"/><rect x="623.43" y="353.93" width="5.47" height="1.55" fill="#a52230"/><rect x="628.85" y="353.93" width="5.47" height="1.55" fill="#bb4231"/><rect x="634.27" y="353.93" width="5.47" height="1.55" fill="#c66248"/><rect x="639.68" y="353.93" width="5.47" height="1.55" fill="#c66248"/><rect x="645.10" y="353.93" width="5.47" height="1.55" fill="#cd7a5c"/><rect x="650.52" y="353.93" width="5.47" height="1.55" fill="#bb4231"/><rect x="655.93" y="353.93" width="5.47" height="1.55" fill="#a52230"/><rect x="661.35" y="353.93" width="5.47" height="1.55" fill="#c66248"/><rect x="666.77" y="353.93" width="5.47" height="1.55" fill="#c66248"/><rect x="672.18" y="353.93" width="5.47" height="1.55" fill="#bb4231"/><rect x="612.60" y="355.43" width="5.47" height="1.55" fill="#cbd7da"/><rect x="618.02" y="355.43" width="5.47" height="1.55" fill="#cbd7da"/><rect x="623.43" y="355.43" width="5.47" height="1.55" fill="#b6ccd1"/><rect x="628.85" y="355.43" width="5.47" height="1.55" fill="#cbd7da"/><rect x="634.27" y="355.43" width="5.47" height="1.55" fill="#cbd7da"/><rect x="639.68" y="355.43" width="5.47" height="1.55" fill="#cbd7da"/><rect x="645.10" y="355.43" width="5.47" height="1.55" fill="#cbd7da"/><rect x="650.52" y="355.43" width="5.47" height="1.55" fill="#cbd7da"/><rect x="655.93" y="355.43" width="5.47" height="1.55" fill="#cbd7da"/><rect x="661.35" y="355.43" width="5.47" height="1.55" fill="#cbd7da"/><rect x="666.77" y="355.43" width="5.47" height="1.55" fill="#cbd7da"/><rect x="672.18" y="355.43" width="5.47" height="1.55" fill="#cbd7da"/><rect x="612.60" y="356.93" width="5.47" height="2.05" fill="#206fbb"/><rect x="618.02" y="356.93" width="5.47" height="2.05" fill="#206fbb"/><rect x="623.43" y="356.93" width="5.47" height="2.05" fill="#185ac0"/><rect x="628.85" y="356.93" width="5.47" height="2.05" fill="#206fbb"/><rect x="634.27" y="356.93" width="5.47" height="2.05" fill="#206fbb"/><rect x="639.68" y="356.93" width="5.47" height="2.05" fill="#206fbb"/><rect x="645.10" y="356.93" width="5.47" height="2.05" fill="#206fbb"/><rect x="650.52" y="356.93" width="5.47" height="2.05" fill="#206fbb"/><rect x="655.93" y="356.93" width="5.47" height="2.05" fill="#206fbb"/><rect x="661.35" y="356.93" width="5.47" height="2.05" fill="#206fbb"/><rect x="666.77" y="356.93" width="5.47" height="2.05" fill="#206fbb"/><rect x="672.18" y="356.93" width="5.47" height="2.05" fill="#206fbb"/><rect x="612.60" y="358.93" width="5.47" height="4.05" fill="#f1ecea"/><rect x="618.02" y="358.93" width="5.47" height="4.05" fill="#ebdad4"/><rect x="623.43" y="358.93" width="5.47" height="4.05" fill="#ebdad4"/><rect x="628.85" y="358.93" width="5.47" height="4.05" fill="#ebdad4"/><rect x="634.27" y="358.93" width="5.47" height="4.05" fill="#ebdad4"/><rect x="639.68" y="358.93" width="5.47" height="4.05" fill="#ebdad4"/><rect x="645.10" y="358.93" width="5.47" height="4.05" fill="#f1ecea"/><rect x="650.52" y="358.93" width="5.47" height="4.05" fill="#f1ecea"/><rect x="655.93" y="358.93" width="5.47" height="4.05" fill="#f1ecea"/><rect x="661.35" y="358.93" width="5.47" height="4.05" fill="#f1ecea"/><rect x="666.77" y="358.93" width="5.47" height="4.05" fill="#f1ecea"/><rect x="672.18" y="358.93" width="5.47" height="4.05" fill="#f1ecea"/><rect x="612.60" y="362.93" width="5.47" height="3.05" fill="#84b0c1"/><rect x="618.02" y="362.93" width="5.47" height="3.05" fill="#6aa1bc"/><rect x="623.43" y="362.93" width="5.47" height="3.05" fill="#84b0c1"/><rect x="628.85" y="362.93" width="5.47" height="3.05" fill="#84b0c1"/><rect x="634.27" y="362.93" width="5.47" height="3.05" fill="#a0c0c8"/><rect x="639.68" y="362.93" width="5.47" height="3.05" fill="#a0c0c8"/><rect x="645.10" y="362.93" width="5.47" height="3.05" fill="#a0c0c8"/><rect x="650.52" y="362.93" width="5.47" height="3.05" fill="#a0c0c8"/><rect x="655.93" y="362.93" width="5.47" height="3.05" fill="#84b0c1"/><rect x="661.35" y="362.93" width="5.47" height="3.05" fill="#84b0c1"/><rect x="666.77" y="362.93" width="5.47" height="3.05" fill="#84b0c1"/><rect x="672.18" y="362.93" width="5.47" height="3.05" fill="#6aa1bc"/><rect x="612.60" y="365.93" width="5.47" height="3.55" fill="#6aa1bc"/><rect x="618.02" y="365.93" width="5.47" height="3.55" fill="#6aa1bc"/><rect x="623.43" y="365.93" width="5.47" height="3.55" fill="#6aa1bc"/><rect x="628.85" y="365.93" width="5.47" height="3.55" fill="#84b0c1"/><rect x="634.27" y="365.93" width="5.47" height="3.55" fill="#84b0c1"/><rect x="639.68" y="365.93" width="5.47" height="3.55" fill="#84b0c1"/><rect x="645.10" y="365.93" width="5.47" height="3.55" fill="#84b0c1"/><rect x="650.52" y="365.93" width="5.47" height="3.55" fill="#84b0c1"/><rect x="655.93" y="365.93" width="5.47" height="3.55" fill="#84b0c1"/><rect x="661.35" y="365.93" width="5.47" height="3.55" fill="#84b0c1"/><rect x="666.77" y="365.93" width="5.47" height="3.55" fill="#6aa1bc"/><rect x="672.18" y="365.93" width="5.47" height="3.55" fill="#6aa1bc"/><rect x="612.60" y="369.43" width="5.47" height="2.05" fill="#185ac0"/><rect x="618.02" y="369.43" width="5.47" height="2.05" fill="#185ac0"/><rect x="623.43" y="369.43" width="5.47" height="2.05" fill="#206fbb"/><rect x="628.85" y="369.43" width="5.47" height="2.05" fill="#185ac0"/><rect x="634.27" y="369.43" width="5.47" height="2.05" fill="#206fbb"/><rect x="639.68" y="369.43" width="5.47" height="2.05" fill="#185ac0"/><rect x="645.10" y="369.43" width="5.47" height="2.05" fill="#185ac0"/><rect x="650.52" y="369.43" width="5.47" height="2.05" fill="#185ac0"/><rect x="655.93" y="369.43" width="5.47" height="2.05" fill="#185ac0"/><rect x="661.35" y="369.43" width="5.47" height="2.05" fill="#2b37a0"/><rect x="666.77" y="369.43" width="5.47" height="2.05" fill="#185ac0"/><rect x="672.18" y="369.43" width="5.47" height="2.05" fill="#2b37a0"/><rect x="612.60" y="371.43" width="5.47" height="8.95" fill="#c9c9c9"/><rect x="618.02" y="371.43" width="5.47" height="8.95" fill="#c9c9c9"/><rect x="623.43" y="371.43" width="5.47" height="8.95" fill="#c9c9c9"/><rect x="628.85" y="371.43" width="5.47" height="8.95" fill="#c9c9c9"/><rect x="634.27" y="371.43" width="5.47" height="8.95" fill="#c9c9c9"/><rect x="639.68" y="371.43" width="5.47" height="8.95" fill="#c9c9c9"/><rect x="645.10" y="371.43" width="5.47" height="8.95" fill="#c9c9c9"/><rect x="650.52" y="371.43" width="5.47" height="8.95" fill="#c9c9c9"/><rect x="655.93" y="371.43" width="5.47" height="8.95" fill="#c9c9c9"/><rect x="661.35" y="371.43" width="5.47" height="8.95" fill="#c9c9c9"/><rect x="666.77" y="371.43" width="5.47" height="8.95" fill="#c9c9c9"/><rect x="672.18" y="371.43" width="5.47" height="8.95" fill="#c9c9c9"/><path d="M612.5999999999999,283.63H677.5999999999999M612.5999999999999,298.00H677.5999999999999M612.5999999999999,312.36H677.5999999999999M612.5999999999999,326.73H677.5999999999999M612.5999999999999,341.10H677.5999999999999M612.5999999999999,355.46H677.5999999999999M612.5999999999999,369.83H677.5999999999999" stroke="#000" stroke-width="1" opacity="0.45" fill="none"/><path d="M612.5999999999999,283.63h6M612.5999999999999,298.00h6M612.5999999999999,312.36h6M612.5999999999999,326.73h6M612.5999999999999,341.10h6M612.5999999999999,355.46h6M612.5999999999999,369.83h6" stroke="#000" stroke-width="1" opacity="0.8" fill="none"/><rect x="612.5999999999999" y="268.93" width="65.0" height="111.0" fill="none" stroke="#000" stroke-width="0.9"/><text x="620.7" y="254.6" font-size="10.9" text-anchor="middle" textLength="5.6" lengthAdjust="spacingAndGlyphs">F</text><text x="631.6" y="254.6" font-size="10.9" text-anchor="middle" textLength="6.6" lengthAdjust="spacingAndGlyphs">A</text><text x="642.4" y="254.6" font-size="10.9" text-anchor="middle">J</text><text x="653.2" y="254.6" font-size="10.9" text-anchor="middle" textLength="6.6" lengthAdjust="spacingAndGlyphs">A</text><text x="664.1" y="254.6" font-size="10.9" text-anchor="middle" textLength="7.6" lengthAdjust="spacingAndGlyphs">O</text><text x="674.9" y="254.6" font-size="10.9" text-anchor="middle" textLength="7.5" lengthAdjust="spacingAndGlyphs">D</text><path d="M620.50,268.93V262.73M631.50,268.93V262.73M642.50,268.93V262.73M653.50,268.93V262.73M664.50,268.93V262.73M674.50,268.93V262.73" stroke="#000" stroke-width="1"/><text x="645.1" y="239.2" font-size="10.6" text-anchor="middle" textLength="31.2" lengthAdjust="spacingAndGlyphs">Month</text><text x="355.0" y="260.7" font-size="11" text-anchor="start" font-weight="bold">d</text><text x="479.9" y="257.7" font-size="13.3" text-anchor="middle" textLength="164.0" lengthAdjust="spacingAndGlyphs">Horizontal diffusion, <tspan font-style="italic">F</tspan><tspan font-style="italic" font-size="9.3" dy="1.4">hDIFF</tspan></text><linearGradient id="gd" gradientUnits="userSpaceOnUse" x1="362.60" y1="0" x2="597.90" y2="0"><stop offset="0.000" stop-color="#181c43"/><stop offset="0.060" stop-color="#1f2563"/><stop offset="0.120" stop-color="#272f88"/><stop offset="0.160" stop-color="#2c3aa8"/><stop offset="0.180" stop-color="#1f52c0"/><stop offset="0.200" stop-color="#1262c0"/><stop offset="0.250" stop-color="#2a78b8"/><stop offset="0.300" stop-color="#4a8fb6"/><stop offset="0.350" stop-color="#72a6bd"/><stop offset="0.400" stop-color="#a0c0c8"/><stop offset="0.450" stop-color="#cbd7da"/><stop offset="0.500" stop-color="#f1ecea"/><stop offset="0.575" stop-color="#e4c5ba"/><stop offset="0.645" stop-color="#dba48f"/><stop offset="0.720" stop-color="#d08466"/><stop offset="0.755" stop-color="#c96c4f"/><stop offset="0.790" stop-color="#bf4a36"/><stop offset="0.815" stop-color="#b5352a"/><stop offset="0.845" stop-color="#a82430"/><stop offset="0.875" stop-color="#961a32"/><stop offset="0.910" stop-color="#7e1230"/><stop offset="0.955" stop-color="#5c0e24"/><stop offset="1.000" stop-color="#3a0a12"/></linearGradient><path d="M350.83,391.53L362.60,385.03L597.90,385.03L609.66,391.53L597.90,398.03L362.60,398.03Z" fill="url(#gd)" stroke="none"/><path d="M350.83,391.53L362.90,385.03L362.90,398.03Z" fill="#181c43"/><path d="M609.66,391.53L597.60,385.03L597.60,398.03Z" fill="#3a0a12"/><path d="M350.83,391.53L362.60,385.03L597.90,385.03L609.66,391.53L597.90,398.03L362.60,398.03Z" fill="none" stroke="#000" stroke-width="0.8" stroke-linejoin="miter"/><text x="362.6" y="418.3" font-size="10.4" text-anchor="middle" textLength="21.1" lengthAdjust="spacingAndGlyphs">−10</text><text x="421.4" y="418.3" font-size="10.4" text-anchor="middle" textLength="14.7" lengthAdjust="spacingAndGlyphs">−5</text><text x="480.2" y="418.3" font-size="10.4" text-anchor="middle" textLength="6.4" lengthAdjust="spacingAndGlyphs">0</text><text x="539.1" y="418.3" font-size="10.4" text-anchor="middle" textLength="6.4" lengthAdjust="spacingAndGlyphs">5</text><text x="597.9" y="418.3" font-size="10.4" text-anchor="middle" textLength="12.7" lengthAdjust="spacingAndGlyphs">10</text><path d="M362.50,398.03V403.83M421.50,398.03V403.83M480.50,398.03V403.83M539.50,398.03V403.83M597.50,398.03V403.83" stroke="#000" stroke-width="1"/><text x="480.2" y="436.7" font-size="10.9" text-anchor="middle" textLength="222" lengthAdjust="spacingAndGlyphs">Annually integrated <tspan font-style="italic">F</tspan> (mol O<tspan font-size="7.3" dy="1.8">2</tspan><tspan dy="-1.8"> m</tspan><tspan font-size="7.3" dy="-3.6">−2</tspan><tspan dy="3.6"> year</tspan><tspan font-size="7.3" dy="-3.6">−1</tspan><tspan dy="3.6">)</tspan></text><linearGradient id="sd" gradientUnits="userSpaceOnUse" x1="612.60" y1="0" x2="677.60" y2="0"><stop offset="0.000" stop-color="#181c43"/><stop offset="0.060" stop-color="#1f2563"/><stop offset="0.120" stop-color="#272f88"/><stop offset="0.160" stop-color="#2c3aa8"/><stop offset="0.180" stop-color="#1f52c0"/><stop offset="0.200" stop-color="#1262c0"/><stop offset="0.250" stop-color="#2a78b8"/><stop offset="0.300" stop-color="#4a8fb6"/><stop offset="0.350" stop-color="#72a6bd"/><stop offset="0.400" stop-color="#a0c0c8"/><stop offset="0.450" stop-color="#cbd7da"/><stop offset="0.500" stop-color="#f1ecea"/><stop offset="0.575" stop-color="#e4c5ba"/><stop offset="0.645" stop-color="#dba48f"/><stop offset="0.720" stop-color="#d08466"/><stop offset="0.755" stop-color="#c96c4f"/><stop offset="0.790" stop-color="#bf4a36"/><stop offset="0.815" stop-color="#b5352a"/><stop offset="0.845" stop-color="#a82430"/><stop offset="0.875" stop-color="#961a32"/><stop offset="0.910" stop-color="#7e1230"/><stop offset="0.955" stop-color="#5c0e24"/><stop offset="1.000" stop-color="#3a0a12"/></linearGradient><path d="M612.60,389.33L612.60,383.13L677.60,383.13L677.60,389.33Z" fill="url(#sd)" stroke="none"/><path d="M612.60,389.33L612.60,383.13L677.60,383.13L677.60,389.33Z" fill="none" stroke="#000" stroke-width="0.8" stroke-linejoin="miter"/><text x="612.6" y="409.3" font-size="10.4" text-anchor="middle" textLength="24.3" lengthAdjust="spacingAndGlyphs">−0.5</text><text x="645.1" y="409.3" font-size="10.4" text-anchor="middle" textLength="15.9" lengthAdjust="spacingAndGlyphs">0.0</text><text x="677.6" y="409.3" font-size="10.4" text-anchor="middle" textLength="15.9" lengthAdjust="spacingAndGlyphs">0.5</text><path d="M612.50,389.33V394.83M645.50,389.33V394.83M677.50,389.33V394.83" stroke="#000" stroke-width="1"/><text x="644.6" y="427.5" font-size="10.9" text-anchor="middle" textLength="63.4" lengthAdjust="spacingAndGlyphs">(mol O<tspan font-size="7.3" dy="1.8">2</tspan><tspan dy="-1.8"> m</tspan><tspan font-size="7.3" dy="-3.6">−2</tspan></text><text x="644.6" y="441.9" font-size="10.9" text-anchor="middle" textLength="47.7" lengthAdjust="spacingAndGlyphs">month<tspan font-size="7.3" dy="-3.6">−1</tspan><tspan dy="3.6">)</tspan></text></svg></body></html>
